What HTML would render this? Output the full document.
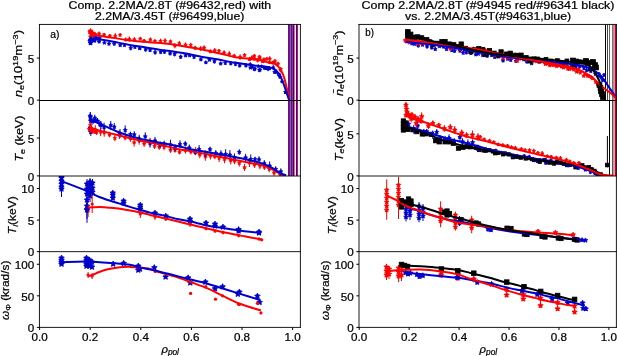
<!DOCTYPE html>
<html><head><meta charset="utf-8"><style>
html,body{margin:0;padding:0;background:#fff;}
body{width:617px;height:356px;overflow:hidden;}
svg{display:block;will-change:transform;font-family:"Liberation Sans",sans-serif;}
text{fill:#000;} .t{stroke:#000;stroke-width:0.22px;}
</style></head><body>
<svg width="617" height="356" viewBox="0 0 617 356">
<rect width="617" height="356" fill="#fff"/>
<clipPath id="c00"><rect x="39.45" y="24.4" width="260.95" height="75.75"/></clipPath>
<clipPath id="c01"><rect x="39.45" y="100.15" width="260.95" height="75.75"/></clipPath>
<clipPath id="c02"><rect x="39.45" y="175.9" width="260.95" height="75.75"/></clipPath>
<clipPath id="c03"><rect x="39.45" y="251.65" width="260.95" height="75.75"/></clipPath>
<clipPath id="c10"><rect x="359.0" y="24.4" width="257.4" height="75.75"/></clipPath>
<clipPath id="c11"><rect x="359.0" y="100.15" width="257.4" height="75.75"/></clipPath>
<clipPath id="c12"><rect x="359.0" y="175.9" width="257.4" height="75.75"/></clipPath>
<clipPath id="c13"><rect x="359.0" y="251.65" width="257.4" height="75.75"/></clipPath>
<g clip-path="url(#c00)">
<line x1="288.5" y1="0" x2="288.5" y2="400" stroke="#2020e0" stroke-width="1"/>
<line x1="289.5" y1="0" x2="289.5" y2="400" stroke="#c00030" stroke-width="1"/>
<line x1="290.5" y1="0" x2="290.5" y2="400" stroke="#7060d0" stroke-width="1"/>
<line x1="291.5" y1="0" x2="291.5" y2="400" stroke="#701060" stroke-width="1"/>
<line x1="292.5" y1="0" x2="292.5" y2="400" stroke="#a03080" stroke-width="1"/>
<line x1="293.5" y1="0" x2="293.5" y2="400" stroke="#400090" stroke-width="1"/>
<line x1="294.5" y1="0" x2="294.5" y2="400" stroke="#ff6060" stroke-width="1"/>
<line x1="296.5" y1="0" x2="296.5" y2="400" stroke="#0000ff" stroke-width="1"/>
<line x1="297.5" y1="0" x2="297.5" y2="400" stroke="#ff0000" stroke-width="1"/>
<line x1="89.65" y1="30.58" x2="89.65" y2="33.80" stroke="#ff0000" stroke-width="1.0"/>
<polygon points="89.6,30.4 90.2,31.5 91.3,31.6 90.5,32.5 90.7,33.6 89.6,33.1 88.6,33.6 88.8,32.5 88.0,31.6 89.1,31.5" fill="#ff0000" stroke="#ff0000" stroke-width="0.8" stroke-linejoin="round"/>
<line x1="95.07" y1="32.26" x2="95.07" y2="36.36" stroke="#ff0000" stroke-width="1.0"/>
<polygon points="95.1,32.5 95.6,33.6 96.8,33.8 95.9,34.6 96.1,35.7 95.1,35.2 94.0,35.7 94.2,34.6 93.4,33.8 94.5,33.6" fill="#ff0000" stroke="#ff0000" stroke-width="0.8" stroke-linejoin="round"/>
<line x1="99.12" y1="31.52" x2="99.12" y2="35.82" stroke="#ff0000" stroke-width="1.0"/>
<polygon points="99.1,31.9 99.6,33.0 100.8,33.1 100.0,33.9 100.2,35.1 99.1,34.6 98.1,35.1 98.3,33.9 97.4,33.1 98.6,33.0" fill="#ff0000" stroke="#ff0000" stroke-width="0.8" stroke-linejoin="round"/>
<line x1="104.14" y1="33.08" x2="104.14" y2="36.35" stroke="#ff0000" stroke-width="1.0"/>
<polygon points="104.1,32.9 104.7,34.0 105.8,34.2 105.0,35.0 105.2,36.2 104.1,35.6 103.1,36.2 103.3,35.0 102.4,34.2 103.6,34.0" fill="#ff0000" stroke="#ff0000" stroke-width="0.8" stroke-linejoin="round"/>
<line x1="109.85" y1="34.01" x2="109.85" y2="37.68" stroke="#ff0000" stroke-width="1.0"/>
<polygon points="109.8,34.1 110.4,35.1 111.5,35.3 110.7,36.1 110.9,37.3 109.8,36.7 108.8,37.3 109.0,36.1 108.2,35.3 109.3,35.1" fill="#ff0000" stroke="#ff0000" stroke-width="0.8" stroke-linejoin="round"/>
<line x1="115.25" y1="33.05" x2="115.25" y2="38.89" stroke="#ff0000" stroke-width="1.0"/>
<polygon points="115.3,34.2 115.8,35.2 117.0,35.4 116.1,36.2 116.3,37.4 115.3,36.9 114.2,37.4 114.4,36.2 113.6,35.4 114.7,35.2" fill="#ff0000" stroke="#ff0000" stroke-width="0.8" stroke-linejoin="round"/>
<line x1="120.15" y1="33.40" x2="120.15" y2="36.54" stroke="#ff0000" stroke-width="1.0"/>
<polygon points="120.2,33.2 120.7,34.2 121.8,34.4 121.0,35.2 121.2,36.4 120.2,35.9 119.1,36.4 119.3,35.2 118.5,34.4 119.6,34.2" fill="#ff0000" stroke="#ff0000" stroke-width="0.8" stroke-linejoin="round"/>
<line x1="125.72" y1="37.69" x2="125.72" y2="41.56" stroke="#ff0000" stroke-width="1.0"/>
<polygon points="125.7,37.8 126.2,38.9 127.4,39.1 126.6,39.9 126.8,41.1 125.7,40.5 124.7,41.1 124.9,39.9 124.0,39.1 125.2,38.9" fill="#ff0000" stroke="#ff0000" stroke-width="0.8" stroke-linejoin="round"/>
<line x1="129.29" y1="36.38" x2="129.29" y2="41.83" stroke="#ff0000" stroke-width="1.0"/>
<polygon points="129.3,37.3 129.8,38.4 131.0,38.6 130.1,39.4 130.3,40.5 129.3,40.0 128.2,40.5 128.4,39.4 127.6,38.6 128.8,38.4" fill="#ff0000" stroke="#ff0000" stroke-width="0.8" stroke-linejoin="round"/>
<line x1="134.36" y1="37.18" x2="134.36" y2="41.92" stroke="#ff0000" stroke-width="1.0"/>
<polygon points="134.4,37.8 134.9,38.8 136.1,39.0 135.2,39.8 135.4,41.0 134.4,40.4 133.3,41.0 133.5,39.8 132.7,39.0 133.8,38.8" fill="#ff0000" stroke="#ff0000" stroke-width="0.8" stroke-linejoin="round"/>
<line x1="140.28" y1="37.08" x2="140.28" y2="40.27" stroke="#ff0000" stroke-width="1.0"/>
<polygon points="140.3,36.9 140.8,38.0 142.0,38.1 141.1,39.0 141.3,40.1 140.3,39.6 139.2,40.1 139.4,39.0 138.6,38.1 139.8,38.0" fill="#ff0000" stroke="#ff0000" stroke-width="0.8" stroke-linejoin="round"/>
<line x1="144.12" y1="39.03" x2="144.12" y2="42.65" stroke="#ff0000" stroke-width="1.0"/>
<polygon points="144.1,39.1 144.6,40.1 145.8,40.3 145.0,41.1 145.2,42.3 144.1,41.7 143.1,42.3 143.3,41.1 142.4,40.3 143.6,40.1" fill="#ff0000" stroke="#ff0000" stroke-width="0.8" stroke-linejoin="round"/>
<line x1="150.36" y1="37.29" x2="150.36" y2="42.04" stroke="#ff0000" stroke-width="1.0"/>
<polygon points="150.4,37.9 150.9,38.9 152.1,39.1 151.2,39.9 151.4,41.1 150.4,40.6 149.3,41.1 149.5,39.9 148.7,39.1 149.8,38.9" fill="#ff0000" stroke="#ff0000" stroke-width="0.8" stroke-linejoin="round"/>
<line x1="154.91" y1="39.24" x2="154.91" y2="43.14" stroke="#ff0000" stroke-width="1.0"/>
<polygon points="154.9,39.4 155.4,40.5 156.6,40.6 155.8,41.5 156.0,42.6 154.9,42.1 153.9,42.6 154.1,41.5 153.2,40.6 154.4,40.5" fill="#ff0000" stroke="#ff0000" stroke-width="0.8" stroke-linejoin="round"/>
<line x1="160.59" y1="38.67" x2="160.59" y2="43.39" stroke="#ff0000" stroke-width="1.0"/>
<polygon points="160.6,39.2 161.1,40.3 162.3,40.5 161.4,41.3 161.6,42.5 160.6,41.9 159.5,42.5 159.7,41.3 158.9,40.5 160.1,40.3" fill="#ff0000" stroke="#ff0000" stroke-width="0.8" stroke-linejoin="round"/>
<line x1="165.05" y1="38.14" x2="165.05" y2="43.76" stroke="#ff0000" stroke-width="1.0"/>
<polygon points="165.1,39.2 165.6,40.2 166.7,40.4 165.9,41.2 166.1,42.4 165.1,41.8 164.0,42.4 164.2,41.2 163.4,40.4 164.5,40.2" fill="#ff0000" stroke="#ff0000" stroke-width="0.8" stroke-linejoin="round"/>
<line x1="170.46" y1="39.84" x2="170.46" y2="43.20" stroke="#ff0000" stroke-width="1.0"/>
<polygon points="170.5,39.7 171.0,40.8 172.2,41.0 171.3,41.8 171.5,43.0 170.5,42.4 169.4,43.0 169.6,41.8 168.8,41.0 169.9,40.8" fill="#ff0000" stroke="#ff0000" stroke-width="0.8" stroke-linejoin="round"/>
<line x1="174.84" y1="43.02" x2="174.84" y2="48.29" stroke="#ff0000" stroke-width="1.0"/>
<polygon points="174.8,43.9 175.4,44.9 176.5,45.1 175.7,45.9 175.9,47.1 174.8,46.5 173.8,47.1 174.0,45.9 173.1,45.1 174.3,44.9" fill="#ff0000" stroke="#ff0000" stroke-width="0.8" stroke-linejoin="round"/>
<line x1="179.30" y1="40.92" x2="179.30" y2="45.93" stroke="#ff0000" stroke-width="1.0"/>
<polygon points="179.3,41.6 179.8,42.7 181.0,42.9 180.2,43.7 180.4,44.9 179.3,44.3 178.3,44.9 178.5,43.7 177.6,42.9 178.8,42.7" fill="#ff0000" stroke="#ff0000" stroke-width="0.8" stroke-linejoin="round"/>
<line x1="185.53" y1="42.44" x2="185.53" y2="47.16" stroke="#ff0000" stroke-width="1.0"/>
<polygon points="185.5,43.0 186.1,44.1 187.2,44.3 186.4,45.1 186.6,46.2 185.5,45.7 184.5,46.2 184.7,45.1 183.8,44.3 185.0,44.1" fill="#ff0000" stroke="#ff0000" stroke-width="0.8" stroke-linejoin="round"/>
<line x1="190.75" y1="42.72" x2="190.75" y2="47.51" stroke="#ff0000" stroke-width="1.0"/>
<polygon points="190.8,43.3 191.3,44.4 192.4,44.6 191.6,45.4 191.8,46.6 190.8,46.0 189.7,46.6 189.9,45.4 189.1,44.6 190.2,44.4" fill="#ff0000" stroke="#ff0000" stroke-width="0.8" stroke-linejoin="round"/>
<line x1="195.16" y1="45.74" x2="195.16" y2="50.11" stroke="#ff0000" stroke-width="1.0"/>
<polygon points="195.2,46.1 195.7,47.2 196.9,47.4 196.0,48.2 196.2,49.4 195.2,48.8 194.1,49.4 194.3,48.2 193.5,47.4 194.6,47.2" fill="#ff0000" stroke="#ff0000" stroke-width="0.8" stroke-linejoin="round"/>
<line x1="200.68" y1="46.06" x2="200.68" y2="51.05" stroke="#ff0000" stroke-width="1.0"/>
<polygon points="200.7,46.8 201.2,47.8 202.4,48.0 201.5,48.8 201.7,50.0 200.7,49.4 199.6,50.0 199.8,48.8 199.0,48.0 200.2,47.8" fill="#ff0000" stroke="#ff0000" stroke-width="0.8" stroke-linejoin="round"/>
<line x1="204.12" y1="45.24" x2="204.12" y2="50.35" stroke="#ff0000" stroke-width="1.0"/>
<polygon points="204.1,46.0 204.6,47.1 205.8,47.2 205.0,48.1 205.2,49.2 204.1,48.7 203.1,49.2 203.3,48.1 202.4,47.2 203.6,47.1" fill="#ff0000" stroke="#ff0000" stroke-width="0.8" stroke-linejoin="round"/>
<line x1="210.29" y1="49.48" x2="210.29" y2="53.34" stroke="#ff0000" stroke-width="1.0"/>
<polygon points="210.3,49.6 210.8,50.7 212.0,50.9 211.1,51.7 211.3,52.9 210.3,52.3 209.2,52.9 209.4,51.7 208.6,50.9 209.8,50.7" fill="#ff0000" stroke="#ff0000" stroke-width="0.8" stroke-linejoin="round"/>
<line x1="214.77" y1="47.97" x2="214.77" y2="52.97" stroke="#ff0000" stroke-width="1.0"/>
<polygon points="214.8,48.7 215.3,49.7 216.5,49.9 215.6,50.7 215.8,51.9 214.8,51.4 213.7,51.9 213.9,50.7 213.1,49.9 214.2,49.7" fill="#ff0000" stroke="#ff0000" stroke-width="0.8" stroke-linejoin="round"/>
<line x1="219.05" y1="49.24" x2="219.05" y2="52.59" stroke="#ff0000" stroke-width="1.0"/>
<polygon points="219.0,49.1 219.6,50.2 220.7,50.4 219.9,51.2 220.1,52.4 219.0,51.8 218.0,52.4 218.2,51.2 217.3,50.4 218.5,50.2" fill="#ff0000" stroke="#ff0000" stroke-width="0.8" stroke-linejoin="round"/>
<line x1="224.12" y1="50.15" x2="224.12" y2="55.46" stroke="#ff0000" stroke-width="1.0"/>
<polygon points="224.1,51.0 224.6,52.1 225.8,52.3 225.0,53.1 225.2,54.2 224.1,53.7 223.1,54.2 223.3,53.1 222.4,52.3 223.6,52.1" fill="#ff0000" stroke="#ff0000" stroke-width="0.8" stroke-linejoin="round"/>
<line x1="229.26" y1="51.04" x2="229.26" y2="56.66" stroke="#ff0000" stroke-width="1.0"/>
<polygon points="229.3,52.1 229.8,53.1 231.0,53.3 230.1,54.1 230.3,55.3 229.3,54.7 228.2,55.3 228.4,54.1 227.6,53.3 228.7,53.1" fill="#ff0000" stroke="#ff0000" stroke-width="0.8" stroke-linejoin="round"/>
<line x1="234.16" y1="53.78" x2="234.16" y2="58.12" stroke="#ff0000" stroke-width="1.0"/>
<polygon points="234.2,54.2 234.7,55.2 235.9,55.4 235.0,56.2 235.2,57.4 234.2,56.8 233.1,57.4 233.3,56.2 232.5,55.4 233.6,55.2" fill="#ff0000" stroke="#ff0000" stroke-width="0.8" stroke-linejoin="round"/>
<line x1="240.10" y1="54.37" x2="240.10" y2="59.96" stroke="#ff0000" stroke-width="1.0"/>
<polygon points="240.1,55.4 240.6,56.4 241.8,56.6 240.9,57.4 241.1,58.6 240.1,58.1 239.1,58.6 239.3,57.4 238.4,56.6 239.6,56.4" fill="#ff0000" stroke="#ff0000" stroke-width="0.8" stroke-linejoin="round"/>
<line x1="244.56" y1="53.00" x2="244.56" y2="57.25" stroke="#ff0000" stroke-width="1.0"/>
<polygon points="244.6,53.3 245.1,54.4 246.3,54.6 245.4,55.4 245.6,56.6 244.6,56.0 243.5,56.6 243.7,55.4 242.9,54.6 244.0,54.4" fill="#ff0000" stroke="#ff0000" stroke-width="0.8" stroke-linejoin="round"/>
<line x1="249.72" y1="57.19" x2="249.72" y2="60.64" stroke="#ff0000" stroke-width="1.0"/>
<polygon points="249.7,57.1 250.2,58.2 251.4,58.4 250.6,59.2 250.8,60.4 249.7,59.8 248.7,60.4 248.9,59.2 248.0,58.4 249.2,58.2" fill="#ff0000" stroke="#ff0000" stroke-width="0.8" stroke-linejoin="round"/>
<line x1="254.35" y1="54.01" x2="254.35" y2="57.71" stroke="#ff0000" stroke-width="1.0"/>
<polygon points="254.4,54.1 254.9,55.1 256.0,55.3 255.2,56.1 255.4,57.3 254.4,56.7 253.3,57.3 253.5,56.1 252.7,55.3 253.8,55.1" fill="#ff0000" stroke="#ff0000" stroke-width="0.8" stroke-linejoin="round"/>
<line x1="259.47" y1="54.89" x2="259.47" y2="58.67" stroke="#ff0000" stroke-width="1.0"/>
<polygon points="259.5,55.0 260.0,56.1 261.2,56.2 260.3,57.1 260.5,58.2 259.5,57.7 258.4,58.2 258.6,57.1 257.8,56.2 258.9,56.1" fill="#ff0000" stroke="#ff0000" stroke-width="0.8" stroke-linejoin="round"/>
<line x1="264.01" y1="57.43" x2="264.01" y2="61.69" stroke="#ff0000" stroke-width="1.0"/>
<polygon points="264.0,57.8 264.5,58.8 265.7,59.0 264.9,59.8 265.1,61.0 264.0,60.5 263.0,61.0 263.2,59.8 262.3,59.0 263.5,58.8" fill="#ff0000" stroke="#ff0000" stroke-width="0.8" stroke-linejoin="round"/>
<line x1="269.74" y1="56.17" x2="269.74" y2="61.24" stroke="#ff0000" stroke-width="1.0"/>
<polygon points="269.7,56.9 270.3,58.0 271.4,58.2 270.6,59.0 270.8,60.1 269.7,59.6 268.7,60.1 268.9,59.0 268.0,58.2 269.2,58.0" fill="#ff0000" stroke="#ff0000" stroke-width="0.8" stroke-linejoin="round"/>
<line x1="275.03" y1="58.84" x2="275.03" y2="63.69" stroke="#ff0000" stroke-width="1.0"/>
<polygon points="275.0,59.5 275.6,60.5 276.7,60.7 275.9,61.5 276.1,62.7 275.0,62.2 274.0,62.7 274.2,61.5 273.3,60.7 274.5,60.5" fill="#ff0000" stroke="#ff0000" stroke-width="0.8" stroke-linejoin="round"/>
<line x1="280.35" y1="67.01" x2="280.35" y2="72.35" stroke="#ff0000" stroke-width="1.0"/>
<polygon points="280.4,67.9 280.9,69.0 282.0,69.1 281.2,70.0 281.4,71.1 280.4,70.6 279.3,71.1 279.5,70.0 278.7,69.1 279.8,69.0" fill="#ff0000" stroke="#ff0000" stroke-width="0.8" stroke-linejoin="round"/>
<line x1="90.75" y1="40.38" x2="90.75" y2="44.78" stroke="#0000cc" stroke-width="1.0"/>
<polygon points="90.7,40.7 91.3,41.8 92.6,42.0 91.7,42.9 91.9,44.1 90.7,43.5 89.6,44.1 89.8,42.9 88.9,42.0 90.2,41.8" fill="#0000cc" stroke="#0000cc" stroke-width="0.8" stroke-linejoin="round"/>
<line x1="94.78" y1="38.70" x2="94.78" y2="42.60" stroke="#0000cc" stroke-width="1.0"/>
<polygon points="94.8,38.8 95.3,39.9 96.6,40.1 95.7,40.9 95.9,42.2 94.8,41.6 93.7,42.2 93.9,40.9 93.0,40.1 94.2,39.9" fill="#0000cc" stroke="#0000cc" stroke-width="0.8" stroke-linejoin="round"/>
<line x1="99.12" y1="40.60" x2="99.12" y2="42.80" stroke="#0000cc" stroke-width="1.0"/>
<polygon points="99.1,39.8 99.7,40.9 100.9,41.1 100.0,42.0 100.2,43.2 99.1,42.7 98.0,43.2 98.2,42.0 97.3,41.1 98.6,40.9" fill="#0000cc" stroke="#0000cc" stroke-width="0.8" stroke-linejoin="round"/>
<line x1="104.42" y1="41.71" x2="104.42" y2="43.87" stroke="#0000cc" stroke-width="1.0"/>
<polygon points="104.4,40.9 105.0,42.0 106.2,42.2 105.3,43.1 105.5,44.3 104.4,43.7 103.3,44.3 103.5,43.1 102.6,42.2 103.9,42.0" fill="#0000cc" stroke="#0000cc" stroke-width="0.8" stroke-linejoin="round"/>
<line x1="109.00" y1="42.66" x2="109.00" y2="45.11" stroke="#0000cc" stroke-width="1.0"/>
<polygon points="109.0,42.0 109.6,43.1 110.8,43.3 109.9,44.2 110.1,45.4 109.0,44.8 107.9,45.4 108.1,44.2 107.2,43.3 108.4,43.1" fill="#0000cc" stroke="#0000cc" stroke-width="0.8" stroke-linejoin="round"/>
<line x1="114.20" y1="41.37" x2="114.20" y2="45.99" stroke="#0000cc" stroke-width="1.0"/>
<polygon points="114.2,41.8 114.8,42.9 116.0,43.1 115.1,44.0 115.3,45.2 114.2,44.6 113.1,45.2 113.3,44.0 112.4,43.1 113.6,42.9" fill="#0000cc" stroke="#0000cc" stroke-width="0.8" stroke-linejoin="round"/>
<line x1="120.23" y1="44.03" x2="120.23" y2="46.48" stroke="#0000cc" stroke-width="1.0"/>
<polygon points="120.2,43.4 120.8,44.5 122.0,44.7 121.1,45.5 121.3,46.8 120.2,46.2 119.1,46.8 119.3,45.5 118.4,44.7 119.7,44.5" fill="#0000cc" stroke="#0000cc" stroke-width="0.8" stroke-linejoin="round"/>
<line x1="124.50" y1="44.05" x2="124.50" y2="46.42" stroke="#0000cc" stroke-width="1.0"/>
<polygon points="124.5,43.3 125.1,44.5 126.3,44.6 125.4,45.5 125.6,46.8 124.5,46.2 123.4,46.8 123.6,45.5 122.7,44.6 123.9,44.5" fill="#0000cc" stroke="#0000cc" stroke-width="0.8" stroke-linejoin="round"/>
<line x1="130.70" y1="45.47" x2="130.70" y2="50.45" stroke="#0000cc" stroke-width="1.0"/>
<polygon points="130.7,46.1 131.3,47.2 132.5,47.4 131.6,48.3 131.8,49.5 130.7,48.9 129.6,49.5 129.8,48.3 128.9,47.4 130.1,47.2" fill="#0000cc" stroke="#0000cc" stroke-width="0.8" stroke-linejoin="round"/>
<line x1="134.93" y1="46.02" x2="134.93" y2="48.32" stroke="#0000cc" stroke-width="1.0"/>
<polygon points="134.9,45.3 135.5,46.4 136.7,46.6 135.8,47.5 136.0,48.7 134.9,48.1 133.8,48.7 134.0,47.5 133.1,46.6 134.4,46.4" fill="#0000cc" stroke="#0000cc" stroke-width="0.8" stroke-linejoin="round"/>
<line x1="139.69" y1="47.07" x2="139.69" y2="49.86" stroke="#0000cc" stroke-width="1.0"/>
<polygon points="139.7,46.6 140.2,47.7 141.5,47.9 140.6,48.8 140.8,50.0 139.7,49.4 138.6,50.0 138.8,48.8 137.9,47.9 139.1,47.7" fill="#0000cc" stroke="#0000cc" stroke-width="0.8" stroke-linejoin="round"/>
<line x1="145.66" y1="47.05" x2="145.66" y2="51.91" stroke="#0000cc" stroke-width="1.0"/>
<polygon points="145.7,47.6 146.2,48.7 147.5,48.9 146.6,49.8 146.8,51.0 145.7,50.4 144.5,51.0 144.8,49.8 143.9,48.9 145.1,48.7" fill="#0000cc" stroke="#0000cc" stroke-width="0.8" stroke-linejoin="round"/>
<line x1="150.06" y1="49.08" x2="150.06" y2="51.52" stroke="#0000cc" stroke-width="1.0"/>
<polygon points="150.1,48.4 150.6,49.5 151.9,49.7 151.0,50.6 151.2,51.8 150.1,51.2 148.9,51.8 149.2,50.6 148.3,49.7 149.5,49.5" fill="#0000cc" stroke="#0000cc" stroke-width="0.8" stroke-linejoin="round"/>
<line x1="155.09" y1="49.90" x2="155.09" y2="54.83" stroke="#0000cc" stroke-width="1.0"/>
<polygon points="155.1,50.5 155.6,51.6 156.9,51.8 156.0,52.7 156.2,53.9 155.1,53.3 154.0,53.9 154.2,52.7 153.3,51.8 154.5,51.6" fill="#0000cc" stroke="#0000cc" stroke-width="0.8" stroke-linejoin="round"/>
<line x1="160.73" y1="50.06" x2="160.73" y2="54.15" stroke="#0000cc" stroke-width="1.0"/>
<polygon points="160.7,50.2 161.3,51.3 162.5,51.5 161.6,52.4 161.8,53.6 160.7,53.1 159.6,53.6 159.8,52.4 158.9,51.5 160.2,51.3" fill="#0000cc" stroke="#0000cc" stroke-width="0.8" stroke-linejoin="round"/>
<line x1="164.52" y1="49.65" x2="164.52" y2="53.96" stroke="#0000cc" stroke-width="1.0"/>
<polygon points="164.5,49.9 165.1,51.0 166.3,51.2 165.4,52.1 165.6,53.3 164.5,52.8 163.4,53.3 163.6,52.1 162.7,51.2 164.0,51.0" fill="#0000cc" stroke="#0000cc" stroke-width="0.8" stroke-linejoin="round"/>
<line x1="170.07" y1="51.28" x2="170.07" y2="55.62" stroke="#0000cc" stroke-width="1.0"/>
<polygon points="170.1,51.6 170.6,52.7 171.9,52.9 171.0,53.7 171.2,55.0 170.1,54.4 168.9,55.0 169.2,53.7 168.3,52.9 169.5,52.7" fill="#0000cc" stroke="#0000cc" stroke-width="0.8" stroke-linejoin="round"/>
<line x1="174.66" y1="51.57" x2="174.66" y2="56.52" stroke="#0000cc" stroke-width="1.0"/>
<polygon points="174.7,52.1 175.2,53.3 176.5,53.5 175.6,54.3 175.8,55.6 174.7,55.0 173.5,55.6 173.8,54.3 172.9,53.5 174.1,53.3" fill="#0000cc" stroke="#0000cc" stroke-width="0.8" stroke-linejoin="round"/>
<line x1="180.71" y1="54.64" x2="180.71" y2="59.05" stroke="#0000cc" stroke-width="1.0"/>
<polygon points="180.7,54.9 181.3,56.1 182.5,56.3 181.6,57.1 181.8,58.4 180.7,57.8 179.6,58.4 179.8,57.1 178.9,56.3 180.1,56.1" fill="#0000cc" stroke="#0000cc" stroke-width="0.8" stroke-linejoin="round"/>
<line x1="185.64" y1="53.67" x2="185.64" y2="57.23" stroke="#0000cc" stroke-width="1.0"/>
<polygon points="185.6,53.6 186.2,54.7 187.4,54.9 186.5,55.7 186.8,57.0 185.6,56.4 184.5,57.0 184.7,55.7 183.8,54.9 185.1,54.7" fill="#0000cc" stroke="#0000cc" stroke-width="0.8" stroke-linejoin="round"/>
<line x1="189.71" y1="54.41" x2="189.71" y2="56.50" stroke="#0000cc" stroke-width="1.0"/>
<polygon points="189.7,53.6 190.3,54.7 191.5,54.9 190.6,55.7 190.8,57.0 189.7,56.4 188.6,57.0 188.8,55.7 187.9,54.9 189.2,54.7" fill="#0000cc" stroke="#0000cc" stroke-width="0.8" stroke-linejoin="round"/>
<line x1="194.06" y1="54.99" x2="194.06" y2="59.07" stroke="#0000cc" stroke-width="1.0"/>
<polygon points="194.1,55.1 194.6,56.3 195.9,56.4 195.0,57.3 195.2,58.6 194.1,58.0 192.9,58.6 193.2,57.3 192.3,56.4 193.5,56.3" fill="#0000cc" stroke="#0000cc" stroke-width="0.8" stroke-linejoin="round"/>
<line x1="200.91" y1="57.84" x2="200.91" y2="61.18" stroke="#0000cc" stroke-width="1.0"/>
<polygon points="200.9,57.6 201.5,58.7 202.7,58.9 201.8,59.8 202.0,61.0 200.9,60.5 199.8,61.0 200.0,59.8 199.1,58.9 200.4,58.7" fill="#0000cc" stroke="#0000cc" stroke-width="0.8" stroke-linejoin="round"/>
<line x1="205.87" y1="60.91" x2="205.87" y2="64.01" stroke="#0000cc" stroke-width="1.0"/>
<polygon points="205.9,60.6 206.4,61.7 207.7,61.9 206.8,62.8 207.0,64.0 205.9,63.4 204.8,64.0 205.0,62.8 204.1,61.9 205.3,61.7" fill="#0000cc" stroke="#0000cc" stroke-width="0.8" stroke-linejoin="round"/>
<line x1="209.44" y1="58.51" x2="209.44" y2="61.19" stroke="#0000cc" stroke-width="1.0"/>
<polygon points="209.4,58.0 210.0,59.1 211.2,59.3 210.3,60.1 210.6,61.4 209.4,60.8 208.3,61.4 208.5,60.1 207.6,59.3 208.9,59.1" fill="#0000cc" stroke="#0000cc" stroke-width="0.8" stroke-linejoin="round"/>
<line x1="214.39" y1="59.02" x2="214.39" y2="63.72" stroke="#0000cc" stroke-width="1.0"/>
<polygon points="214.4,59.5 215.0,60.6 216.2,60.8 215.3,61.7 215.5,62.9 214.4,62.3 213.3,62.9 213.5,61.7 212.6,60.8 213.8,60.6" fill="#0000cc" stroke="#0000cc" stroke-width="0.8" stroke-linejoin="round"/>
<line x1="220.68" y1="61.88" x2="220.68" y2="65.31" stroke="#0000cc" stroke-width="1.0"/>
<polygon points="220.7,61.7 221.2,62.8 222.5,63.0 221.6,63.9 221.8,65.1 220.7,64.5 219.6,65.1 219.8,63.9 218.9,63.0 220.1,62.8" fill="#0000cc" stroke="#0000cc" stroke-width="0.8" stroke-linejoin="round"/>
<line x1="225.31" y1="61.01" x2="225.31" y2="64.99" stroke="#0000cc" stroke-width="1.0"/>
<polygon points="225.3,61.1 225.9,62.2 227.1,62.4 226.2,63.3 226.4,64.5 225.3,63.9 224.2,64.5 224.4,63.3 223.5,62.4 224.7,62.2" fill="#0000cc" stroke="#0000cc" stroke-width="0.8" stroke-linejoin="round"/>
<line x1="230.82" y1="61.21" x2="230.82" y2="65.56" stroke="#0000cc" stroke-width="1.0"/>
<polygon points="230.8,61.5 231.4,62.6 232.6,62.8 231.7,63.7 231.9,64.9 230.8,64.3 229.7,64.9 229.9,63.7 229.0,62.8 230.3,62.6" fill="#0000cc" stroke="#0000cc" stroke-width="0.8" stroke-linejoin="round"/>
<line x1="235.50" y1="61.78" x2="235.50" y2="66.15" stroke="#0000cc" stroke-width="1.0"/>
<polygon points="235.5,62.1 236.1,63.2 237.3,63.4 236.4,64.3 236.6,65.5 235.5,64.9 234.4,65.5 234.6,64.3 233.7,63.4 234.9,63.2" fill="#0000cc" stroke="#0000cc" stroke-width="0.8" stroke-linejoin="round"/>
<line x1="239.67" y1="63.25" x2="239.67" y2="67.66" stroke="#0000cc" stroke-width="1.0"/>
<polygon points="239.7,63.6 240.2,64.7 241.5,64.9 240.6,65.7 240.8,67.0 239.7,66.4 238.5,67.0 238.8,65.7 237.9,64.9 239.1,64.7" fill="#0000cc" stroke="#0000cc" stroke-width="0.8" stroke-linejoin="round"/>
<line x1="245.94" y1="62.93" x2="245.94" y2="67.78" stroke="#0000cc" stroke-width="1.0"/>
<polygon points="245.9,63.5 246.5,64.6 247.7,64.8 246.8,65.6 247.1,66.9 245.9,66.3 244.8,66.9 245.0,65.6 244.1,64.8 245.4,64.6" fill="#0000cc" stroke="#0000cc" stroke-width="0.8" stroke-linejoin="round"/>
<line x1="250.45" y1="66.50" x2="250.45" y2="69.01" stroke="#0000cc" stroke-width="1.0"/>
<polygon points="250.4,65.9 251.0,67.0 252.3,67.2 251.4,68.0 251.6,69.3 250.4,68.7 249.3,69.3 249.5,68.0 248.6,67.2 249.9,67.0" fill="#0000cc" stroke="#0000cc" stroke-width="0.8" stroke-linejoin="round"/>
<line x1="254.25" y1="66.73" x2="254.25" y2="71.15" stroke="#0000cc" stroke-width="1.0"/>
<polygon points="254.3,67.0 254.8,68.2 256.1,68.4 255.2,69.2 255.4,70.5 254.3,69.9 253.1,70.5 253.4,69.2 252.4,68.4 253.7,68.2" fill="#0000cc" stroke="#0000cc" stroke-width="0.8" stroke-linejoin="round"/>
<line x1="259.29" y1="67.81" x2="259.29" y2="72.29" stroke="#0000cc" stroke-width="1.0"/>
<polygon points="259.3,68.1 259.9,69.3 261.1,69.5 260.2,70.3 260.4,71.6 259.3,71.0 258.2,71.6 258.4,70.3 257.5,69.5 258.7,69.3" fill="#0000cc" stroke="#0000cc" stroke-width="0.8" stroke-linejoin="round"/>
<line x1="265.96" y1="66.38" x2="265.96" y2="70.03" stroke="#0000cc" stroke-width="1.0"/>
<polygon points="266.0,66.3 266.5,67.4 267.8,67.6 266.9,68.5 267.1,69.7 266.0,69.2 264.8,69.7 265.1,68.5 264.2,67.6 265.4,67.4" fill="#0000cc" stroke="#0000cc" stroke-width="0.8" stroke-linejoin="round"/>
<line x1="269.26" y1="67.48" x2="269.26" y2="69.52" stroke="#0000cc" stroke-width="1.0"/>
<polygon points="269.3,66.6 269.8,67.7 271.1,67.9 270.2,68.8 270.4,70.0 269.3,69.4 268.1,70.0 268.4,68.8 267.5,67.9 268.7,67.7" fill="#0000cc" stroke="#0000cc" stroke-width="0.8" stroke-linejoin="round"/>
<line x1="275.94" y1="69.33" x2="275.94" y2="74.13" stroke="#0000cc" stroke-width="1.0"/>
<polygon points="275.9,69.8 276.5,71.0 277.7,71.1 276.8,72.0 277.1,73.3 275.9,72.7 274.8,73.3 275.0,72.0 274.1,71.1 275.4,71.0" fill="#0000cc" stroke="#0000cc" stroke-width="0.8" stroke-linejoin="round"/>
<line x1="279.87" y1="74.40" x2="279.87" y2="79.01" stroke="#0000cc" stroke-width="1.0"/>
<polygon points="279.9,74.8 280.4,75.9 281.7,76.1 280.8,77.0 281.0,78.2 279.9,77.7 278.8,78.2 279.0,77.0 278.1,76.1 279.3,75.9" fill="#0000cc" stroke="#0000cc" stroke-width="0.8" stroke-linejoin="round"/>
<line x1="285.65" y1="90.64" x2="285.65" y2="93.52" stroke="#0000cc" stroke-width="1.0"/>
<polygon points="285.7,90.2 286.2,91.3 287.5,91.5 286.6,92.4 286.8,93.6 285.7,93.0 284.5,93.6 284.7,92.4 283.8,91.5 285.1,91.3" fill="#0000cc" stroke="#0000cc" stroke-width="0.8" stroke-linejoin="round"/>
<line x1="249.48" y1="57.23" x2="249.48" y2="60.99" stroke="#ff0000" stroke-width="1.0"/>
<polygon points="249.5,57.4 250.0,58.4 251.1,58.6 250.3,59.4 250.5,60.5 249.5,60.0 248.5,60.5 248.7,59.4 247.8,58.6 249.0,58.4" fill="#ff0000" stroke="#ff0000" stroke-width="0.8" stroke-linejoin="round"/>
<line x1="252.02" y1="55.24" x2="252.02" y2="59.97" stroke="#ff0000" stroke-width="1.0"/>
<polygon points="252.0,55.9 252.5,56.9 253.7,57.1 252.8,57.9 253.0,59.0 252.0,58.5 251.0,59.0 251.2,57.9 250.4,57.1 251.5,56.9" fill="#ff0000" stroke="#ff0000" stroke-width="0.8" stroke-linejoin="round"/>
<line x1="254.71" y1="57.27" x2="254.71" y2="60.64" stroke="#ff0000" stroke-width="1.0"/>
<polygon points="254.7,57.2 255.2,58.3 256.3,58.4 255.5,59.2 255.7,60.3 254.7,59.8 253.7,60.3 253.9,59.2 253.1,58.4 254.2,58.3" fill="#ff0000" stroke="#ff0000" stroke-width="0.8" stroke-linejoin="round"/>
<line x1="257.67" y1="57.77" x2="257.67" y2="62.53" stroke="#ff0000" stroke-width="1.0"/>
<polygon points="257.7,58.4 258.2,59.5 259.3,59.6 258.5,60.4 258.7,61.5 257.7,61.0 256.7,61.5 256.8,60.4 256.0,59.6 257.2,59.5" fill="#ff0000" stroke="#ff0000" stroke-width="0.8" stroke-linejoin="round"/>
<line x1="260.00" y1="56.58" x2="260.00" y2="60.18" stroke="#ff0000" stroke-width="1.0"/>
<polygon points="260.0,56.7 260.5,57.7 261.6,57.8 260.8,58.6 261.0,59.8 260.0,59.2 259.0,59.8 259.2,58.6 258.4,57.8 259.5,57.7" fill="#ff0000" stroke="#ff0000" stroke-width="0.8" stroke-linejoin="round"/>
<line x1="262.55" y1="60.34" x2="262.55" y2="62.89" stroke="#ff0000" stroke-width="1.0"/>
<polygon points="262.5,59.9 263.1,60.9 264.2,61.1 263.4,61.9 263.6,63.0 262.5,62.5 261.5,63.0 261.7,61.9 260.9,61.1 262.0,60.9" fill="#ff0000" stroke="#ff0000" stroke-width="0.8" stroke-linejoin="round"/>
<line x1="264.01" y1="58.42" x2="264.01" y2="62.82" stroke="#ff0000" stroke-width="1.0"/>
<polygon points="264.0,58.9 264.5,59.9 265.6,60.1 264.8,60.9 265.0,62.0 264.0,61.5 263.0,62.0 263.2,60.9 262.4,60.1 263.5,59.9" fill="#ff0000" stroke="#ff0000" stroke-width="0.8" stroke-linejoin="round"/>
<line x1="266.84" y1="57.05" x2="266.84" y2="60.72" stroke="#ff0000" stroke-width="1.0"/>
<polygon points="266.8,57.2 267.4,58.2 268.5,58.4 267.7,59.2 267.9,60.3 266.8,59.7 265.8,60.3 266.0,59.2 265.2,58.4 266.3,58.2" fill="#ff0000" stroke="#ff0000" stroke-width="0.8" stroke-linejoin="round"/>
<line x1="269.65" y1="60.57" x2="269.65" y2="64.12" stroke="#ff0000" stroke-width="1.0"/>
<polygon points="269.7,60.6 270.2,61.6 271.3,61.8 270.5,62.6 270.7,63.7 269.7,63.2 268.6,63.7 268.8,62.6 268.0,61.8 269.1,61.6" fill="#ff0000" stroke="#ff0000" stroke-width="0.8" stroke-linejoin="round"/>
<line x1="272.61" y1="60.87" x2="272.61" y2="64.56" stroke="#ff0000" stroke-width="1.0"/>
<polygon points="272.6,61.0 273.1,62.0 274.3,62.2 273.4,63.0 273.6,64.1 272.6,63.6 271.6,64.1 271.8,63.0 271.0,62.2 272.1,62.0" fill="#ff0000" stroke="#ff0000" stroke-width="0.8" stroke-linejoin="round"/>
<line x1="274.50" y1="60.85" x2="274.50" y2="63.68" stroke="#ff0000" stroke-width="1.0"/>
<polygon points="274.5,60.5 275.0,61.6 276.1,61.7 275.3,62.5 275.5,63.7 274.5,63.1 273.5,63.7 273.7,62.5 272.9,61.7 274.0,61.6" fill="#ff0000" stroke="#ff0000" stroke-width="0.8" stroke-linejoin="round"/>
<line x1="278.04" y1="61.63" x2="278.04" y2="65.91" stroke="#ff0000" stroke-width="1.0"/>
<polygon points="278.0,62.0 278.6,63.1 279.7,63.2 278.9,64.0 279.1,65.2 278.0,64.6 277.0,65.2 277.2,64.0 276.4,63.2 277.5,63.1" fill="#ff0000" stroke="#ff0000" stroke-width="0.8" stroke-linejoin="round"/>
<line x1="280.82" y1="67.62" x2="280.82" y2="70.95" stroke="#ff0000" stroke-width="1.0"/>
<polygon points="280.8,67.6 281.3,68.6 282.5,68.7 281.6,69.5 281.8,70.7 280.8,70.1 279.8,70.7 280.0,69.5 279.2,68.7 280.3,68.6" fill="#ff0000" stroke="#ff0000" stroke-width="0.8" stroke-linejoin="round"/>
<line x1="250.23" y1="62.35" x2="250.23" y2="66.42" stroke="#0000cc" stroke-width="1.0"/>
<polygon points="250.2,62.7 250.7,63.7 251.9,63.9 251.0,64.7 251.2,65.8 250.2,65.2 249.2,65.8 249.4,64.7 248.6,63.9 249.7,63.7" fill="#0000cc" stroke="#0000cc" stroke-width="0.8" stroke-linejoin="round"/>
<line x1="252.40" y1="64.58" x2="252.40" y2="68.18" stroke="#0000cc" stroke-width="1.0"/>
<polygon points="252.4,64.7 252.9,65.7 254.0,65.8 253.2,66.6 253.4,67.8 252.4,67.2 251.4,67.8 251.6,66.6 250.8,65.8 251.9,65.7" fill="#0000cc" stroke="#0000cc" stroke-width="0.8" stroke-linejoin="round"/>
<line x1="254.96" y1="66.55" x2="254.96" y2="71.18" stroke="#0000cc" stroke-width="1.0"/>
<polygon points="255.0,67.1 255.5,68.2 256.6,68.3 255.8,69.1 256.0,70.3 255.0,69.7 253.9,70.3 254.1,69.1 253.3,68.3 254.4,68.2" fill="#0000cc" stroke="#0000cc" stroke-width="0.8" stroke-linejoin="round"/>
<line x1="258.38" y1="64.81" x2="258.38" y2="67.59" stroke="#0000cc" stroke-width="1.0"/>
<polygon points="258.4,64.5 258.9,65.5 260.0,65.7 259.2,66.5 259.4,67.6 258.4,67.1 257.4,67.6 257.6,66.5 256.7,65.7 257.9,65.5" fill="#0000cc" stroke="#0000cc" stroke-width="0.8" stroke-linejoin="round"/>
<line x1="260.12" y1="68.70" x2="260.12" y2="71.11" stroke="#0000cc" stroke-width="1.0"/>
<polygon points="260.1,68.2 260.6,69.2 261.8,69.4 260.9,70.2 261.1,71.3 260.1,70.8 259.1,71.3 259.3,70.2 258.5,69.4 259.6,69.2" fill="#0000cc" stroke="#0000cc" stroke-width="0.8" stroke-linejoin="round"/>
<line x1="261.74" y1="64.77" x2="261.74" y2="68.10" stroke="#0000cc" stroke-width="1.0"/>
<polygon points="261.7,64.7 262.3,65.7 263.4,65.9 262.6,66.7 262.8,67.8 261.7,67.3 260.7,67.8 260.9,66.7 260.1,65.9 261.2,65.7" fill="#0000cc" stroke="#0000cc" stroke-width="0.8" stroke-linejoin="round"/>
<line x1="264.15" y1="65.80" x2="264.15" y2="69.81" stroke="#0000cc" stroke-width="1.0"/>
<polygon points="264.1,66.1 264.7,67.1 265.8,67.3 265.0,68.1 265.2,69.2 264.1,68.7 263.1,69.2 263.3,68.1 262.5,67.3 263.6,67.1" fill="#0000cc" stroke="#0000cc" stroke-width="0.8" stroke-linejoin="round"/>
<line x1="268.07" y1="66.56" x2="268.07" y2="71.25" stroke="#0000cc" stroke-width="1.0"/>
<polygon points="268.1,67.2 268.6,68.2 269.7,68.4 268.9,69.2 269.1,70.3 268.1,69.8 267.1,70.3 267.2,69.2 266.4,68.4 267.6,68.2" fill="#0000cc" stroke="#0000cc" stroke-width="0.8" stroke-linejoin="round"/>
<line x1="269.31" y1="66.96" x2="269.31" y2="69.39" stroke="#0000cc" stroke-width="1.0"/>
<polygon points="269.3,66.4 269.8,67.5 270.9,67.6 270.1,68.4 270.3,69.6 269.3,69.0 268.3,69.6 268.5,68.4 267.7,67.6 268.8,67.5" fill="#0000cc" stroke="#0000cc" stroke-width="0.8" stroke-linejoin="round"/>
<line x1="273.27" y1="65.06" x2="273.27" y2="69.96" stroke="#0000cc" stroke-width="1.0"/>
<polygon points="273.3,65.8 273.8,66.8 274.9,67.0 274.1,67.8 274.3,68.9 273.3,68.4 272.3,68.9 272.4,67.8 271.6,67.0 272.8,66.8" fill="#0000cc" stroke="#0000cc" stroke-width="0.8" stroke-linejoin="round"/>
<line x1="274.44" y1="70.27" x2="274.44" y2="73.73" stroke="#0000cc" stroke-width="1.0"/>
<polygon points="274.4,70.3 274.9,71.3 276.1,71.5 275.3,72.3 275.5,73.4 274.4,72.9 273.4,73.4 273.6,72.3 272.8,71.5 273.9,71.3" fill="#0000cc" stroke="#0000cc" stroke-width="0.8" stroke-linejoin="round"/>
<line x1="278.48" y1="72.10" x2="278.48" y2="76.59" stroke="#0000cc" stroke-width="1.0"/>
<polygon points="278.5,72.6 279.0,73.6 280.1,73.8 279.3,74.6 279.5,75.7 278.5,75.2 277.5,75.7 277.7,74.6 276.8,73.8 278.0,73.6" fill="#0000cc" stroke="#0000cc" stroke-width="0.8" stroke-linejoin="round"/>
<line x1="279.32" y1="73.04" x2="279.32" y2="76.06" stroke="#0000cc" stroke-width="1.0"/>
<polygon points="279.3,72.8 279.8,73.9 281.0,74.0 280.1,74.8 280.3,75.9 279.3,75.4 278.3,75.9 278.5,74.8 277.7,74.0 278.8,73.9" fill="#0000cc" stroke="#0000cc" stroke-width="0.8" stroke-linejoin="round"/>
<line x1="281.89" y1="80.11" x2="281.89" y2="83.06" stroke="#0000cc" stroke-width="1.0"/>
<polygon points="281.9,79.9 282.4,80.9 283.5,81.1 282.7,81.9 282.9,83.0 281.9,82.4 280.9,83.0 281.1,81.9 280.3,81.1 281.4,80.9" fill="#0000cc" stroke="#0000cc" stroke-width="0.8" stroke-linejoin="round"/>
<line x1="285.44" y1="90.66" x2="285.44" y2="93.99" stroke="#0000cc" stroke-width="1.0"/>
<polygon points="285.4,90.6 286.0,91.6 287.1,91.8 286.3,92.6 286.5,93.7 285.4,93.2 284.4,93.7 284.6,92.6 283.8,91.8 284.9,91.6" fill="#0000cc" stroke="#0000cc" stroke-width="0.8" stroke-linejoin="round"/>
<line x1="90.50" y1="29.00" x2="90.50" y2="33.00" stroke="#ff0000" stroke-width="1.0"/>
<polygon points="90.5,28.5 91.2,30.0 92.9,30.2 91.7,31.4 92.0,33.0 90.5,32.3 89.0,33.0 89.3,31.4 88.1,30.2 89.8,30.0" fill="#ff0000" stroke="#ff0000" stroke-width="0.8" stroke-linejoin="round"/>
<line x1="91.20" y1="31.00" x2="91.20" y2="37.00" stroke="#ff0000" stroke-width="1.0"/>
<polygon points="91.2,31.5 91.9,33.0 93.6,33.2 92.4,34.4 92.7,36.0 91.2,35.3 89.7,36.0 90.0,34.4 88.8,33.2 90.5,33.0" fill="#ff0000" stroke="#ff0000" stroke-width="0.8" stroke-linejoin="round"/>
<line x1="91.00" y1="35.00" x2="91.00" y2="39.00" stroke="#ff0000" stroke-width="1.0"/>
<polygon points="91.0,34.5 91.7,36.0 93.4,36.2 92.2,37.4 92.5,39.0 91.0,38.3 89.5,39.0 89.8,37.4 88.6,36.2 90.3,36.0" fill="#ff0000" stroke="#ff0000" stroke-width="0.8" stroke-linejoin="round"/>
<line x1="92.50" y1="31.00" x2="92.50" y2="35.00" stroke="#ff0000" stroke-width="1.0"/>
<polygon points="92.5,30.5 93.2,32.0 94.9,32.2 93.7,33.4 94.0,35.0 92.5,34.3 91.0,35.0 91.3,33.4 90.1,32.2 91.8,32.0" fill="#ff0000" stroke="#ff0000" stroke-width="0.8" stroke-linejoin="round"/>
<line x1="94.50" y1="33.00" x2="94.50" y2="37.00" stroke="#ff0000" stroke-width="1.0"/>
<polygon points="94.5,32.5 95.2,34.0 96.9,34.2 95.7,35.4 96.0,37.0 94.5,36.3 93.0,37.0 93.3,35.4 92.1,34.2 93.8,34.0" fill="#ff0000" stroke="#ff0000" stroke-width="0.8" stroke-linejoin="round"/>
<line x1="90.20" y1="39.00" x2="90.20" y2="43.00" stroke="#0000cc" stroke-width="1.0"/>
<polygon points="90.2,38.5 90.9,40.0 92.6,40.2 91.4,41.4 91.7,43.0 90.2,42.3 88.7,43.0 89.0,41.4 87.8,40.2 89.5,40.0" fill="#0000cc" stroke="#0000cc" stroke-width="0.8" stroke-linejoin="round"/>
<line x1="90.50" y1="41.00" x2="90.50" y2="45.00" stroke="#0000cc" stroke-width="1.0"/>
<polygon points="90.5,40.5 91.2,42.0 92.9,42.2 91.7,43.4 92.0,45.0 90.5,44.3 89.0,45.0 89.3,43.4 88.1,42.2 89.8,42.0" fill="#0000cc" stroke="#0000cc" stroke-width="0.8" stroke-linejoin="round"/>
<line x1="91.20" y1="37.00" x2="91.20" y2="41.00" stroke="#0000cc" stroke-width="1.0"/>
<polygon points="91.2,36.5 91.9,38.0 93.6,38.2 92.4,39.4 92.7,41.0 91.2,40.3 89.7,41.0 90.0,39.4 88.8,38.2 90.5,38.0" fill="#0000cc" stroke="#0000cc" stroke-width="0.8" stroke-linejoin="round"/>
<line x1="94.00" y1="38.00" x2="94.00" y2="42.00" stroke="#0000cc" stroke-width="1.0"/>
<polygon points="94.0,37.5 94.7,39.0 96.4,39.2 95.2,40.4 95.5,42.0 94.0,41.3 92.5,42.0 92.8,40.4 91.6,39.2 93.3,39.0" fill="#0000cc" stroke="#0000cc" stroke-width="0.8" stroke-linejoin="round"/>
<line x1="96.00" y1="36.00" x2="96.00" y2="40.00" stroke="#0000cc" stroke-width="1.0"/>
<polygon points="96.0,35.5 96.7,37.0 98.4,37.2 97.2,38.4 97.5,40.0 96.0,39.3 94.5,40.0 94.8,38.4 93.6,37.2 95.3,37.0" fill="#0000cc" stroke="#0000cc" stroke-width="0.8" stroke-linejoin="round"/>
<line x1="99.00" y1="36.50" x2="99.00" y2="40.50" stroke="#0000cc" stroke-width="1.0"/>
<polygon points="99.0,36.0 99.7,37.5 101.4,37.7 100.2,38.9 100.5,40.5 99.0,39.8 97.5,40.5 97.8,38.9 96.6,37.7 98.3,37.5" fill="#0000cc" stroke="#0000cc" stroke-width="0.8" stroke-linejoin="round"/>
<path d="M88.9,32.9 C90.1,33.3 92.3,34.5 96.2,35.3 C100.1,36.1 107.0,37.0 112.4,37.8 C117.8,38.6 123.2,39.5 128.6,40.2 C134.0,40.9 139.4,41.3 144.8,41.8 C150.2,42.3 156.8,42.8 161.0,43.1 C165.2,43.5 165.8,43.3 170.0,43.9 C174.2,44.5 180.8,45.8 186.2,46.7 C191.6,47.7 197.0,48.5 202.4,49.6 C207.8,50.7 213.2,52.0 218.6,53.2 C224.0,54.4 229.4,55.9 234.8,56.9 C240.2,57.9 246.9,58.5 251.0,59.0 C255.1,59.5 256.3,59.2 259.1,59.8 C261.9,60.4 265.4,61.7 268.0,62.4 C270.6,63.1 272.9,63.0 274.7,63.8 C276.5,64.6 277.7,65.9 278.8,67.1 C279.9,68.3 280.6,69.4 281.5,71.2 C282.4,73.0 283.3,75.0 284.2,77.9 C285.1,80.8 286.1,85.3 286.9,88.7 C287.7,92.1 288.5,96.1 288.9,98.1 C289.3,100.1 289.2,100.2 289.3,100.6" fill="none" stroke="#ff0000" stroke-width="2.0" stroke-linejoin="round" stroke-linecap="butt"/>
<path d="M88.1,40.2 C88.8,40.1 90.7,39.7 92.0,39.5 C93.3,39.3 92.8,38.6 96.2,38.9 C99.6,39.2 107.0,40.5 112.4,41.5 C117.8,42.5 123.2,43.8 128.6,44.7 C134.0,45.7 139.4,46.3 144.8,47.2 C150.2,48.1 156.8,49.3 161.0,49.9 C165.2,50.5 165.8,50.3 170.0,50.9 C174.2,51.5 180.8,52.6 186.2,53.6 C191.6,54.6 197.0,55.9 202.4,56.9 C207.8,57.9 213.2,58.6 218.6,59.6 C224.0,60.6 229.4,61.7 234.8,62.6 C240.2,63.5 246.8,64.5 251.0,65.1 C255.2,65.7 257.2,65.7 260.0,66.0 C262.8,66.3 265.8,66.7 268.0,67.1 C270.2,67.5 271.8,67.7 273.4,68.5 C275.0,69.3 276.0,70.1 277.4,71.8 C278.8,73.5 280.3,76.0 281.5,78.6 C282.7,81.2 283.8,84.5 284.8,87.3 C285.8,90.1 286.8,93.4 287.5,95.4 C288.2,97.4 288.6,98.6 288.9,99.5 C289.2,100.4 289.1,100.4 289.1,100.6" fill="none" stroke="#0000cc" stroke-width="2.0" stroke-linejoin="round" stroke-linecap="butt"/>
</g>
<g clip-path="url(#c01)">
<line x1="288.5" y1="0" x2="288.5" y2="400" stroke="#2020e0" stroke-width="1"/>
<line x1="289.5" y1="0" x2="289.5" y2="400" stroke="#c00030" stroke-width="1"/>
<line x1="290.5" y1="0" x2="290.5" y2="400" stroke="#7060d0" stroke-width="1"/>
<line x1="291.5" y1="0" x2="291.5" y2="400" stroke="#701060" stroke-width="1"/>
<line x1="292.5" y1="0" x2="292.5" y2="400" stroke="#a03080" stroke-width="1"/>
<line x1="293.5" y1="0" x2="293.5" y2="400" stroke="#400090" stroke-width="1"/>
<line x1="294.5" y1="0" x2="294.5" y2="400" stroke="#ff6060" stroke-width="1"/>
<line x1="296.5" y1="0" x2="296.5" y2="400" stroke="#0000ff" stroke-width="1"/>
<line x1="297.5" y1="0" x2="297.5" y2="400" stroke="#ff0000" stroke-width="1"/>
<line x1="89.04" y1="125.72" x2="89.04" y2="132.04" stroke="#ff0000" stroke-width="1.0"/>
<polygon points="89.0,127.0 89.6,128.1 90.8,128.3 89.9,129.2 90.1,130.4 89.0,129.8 88.0,130.4 88.2,129.2 87.3,128.3 88.5,128.1" fill="#ff0000" stroke="#ff0000" stroke-width="0.8" stroke-linejoin="round"/>
<line x1="95.25" y1="125.13" x2="95.25" y2="134.07" stroke="#ff0000" stroke-width="1.0"/>
<polygon points="95.2,127.8 95.8,128.9 97.0,129.0 96.1,129.9 96.3,131.1 95.2,130.5 94.2,131.1 94.4,129.9 93.5,129.0 94.7,128.9" fill="#ff0000" stroke="#ff0000" stroke-width="0.8" stroke-linejoin="round"/>
<line x1="100.58" y1="127.33" x2="100.58" y2="136.21" stroke="#ff0000" stroke-width="1.0"/>
<polygon points="100.6,129.9 101.1,131.0 102.3,131.2 101.5,132.1 101.7,133.3 100.6,132.7 99.5,133.3 99.7,132.1 98.8,131.2 100.0,131.0" fill="#ff0000" stroke="#ff0000" stroke-width="0.8" stroke-linejoin="round"/>
<line x1="104.21" y1="128.62" x2="104.21" y2="136.74" stroke="#ff0000" stroke-width="1.0"/>
<polygon points="104.2,130.8 104.8,131.9 106.0,132.1 105.1,133.0 105.3,134.2 104.2,133.6 103.1,134.2 103.3,133.0 102.5,132.1 103.7,131.9" fill="#ff0000" stroke="#ff0000" stroke-width="0.8" stroke-linejoin="round"/>
<line x1="109.54" y1="131.81" x2="109.54" y2="137.33" stroke="#ff0000" stroke-width="1.0"/>
<polygon points="109.5,132.7 110.1,133.8 111.3,134.0 110.4,134.9 110.6,136.1 109.5,135.5 108.5,136.1 108.7,134.9 107.8,134.0 109.0,133.8" fill="#ff0000" stroke="#ff0000" stroke-width="0.8" stroke-linejoin="round"/>
<line x1="114.84" y1="135.19" x2="114.84" y2="141.23" stroke="#ff0000" stroke-width="1.0"/>
<polygon points="114.8,136.4 115.4,137.5 116.6,137.6 115.7,138.5 115.9,139.7 114.8,139.1 113.8,139.7 114.0,138.5 113.1,137.6 114.3,137.5" fill="#ff0000" stroke="#ff0000" stroke-width="0.8" stroke-linejoin="round"/>
<line x1="119.30" y1="130.40" x2="119.30" y2="139.08" stroke="#ff0000" stroke-width="1.0"/>
<polygon points="119.3,132.9 119.8,134.0 121.0,134.2 120.2,135.0 120.4,136.2 119.3,135.7 118.2,136.2 118.4,135.0 117.5,134.2 118.8,134.0" fill="#ff0000" stroke="#ff0000" stroke-width="0.8" stroke-linejoin="round"/>
<line x1="125.14" y1="135.10" x2="125.14" y2="140.33" stroke="#ff0000" stroke-width="1.0"/>
<polygon points="125.1,135.9 125.7,137.0 126.9,137.1 126.0,138.0 126.2,139.2 125.1,138.6 124.1,139.2 124.3,138.0 123.4,137.1 124.6,137.0" fill="#ff0000" stroke="#ff0000" stroke-width="0.8" stroke-linejoin="round"/>
<line x1="130.38" y1="135.16" x2="130.38" y2="141.86" stroke="#ff0000" stroke-width="1.0"/>
<polygon points="130.4,136.7 130.9,137.8 132.1,137.9 131.3,138.8 131.5,140.0 130.4,139.4 129.3,140.0 129.5,138.8 128.6,137.9 129.8,137.8" fill="#ff0000" stroke="#ff0000" stroke-width="0.8" stroke-linejoin="round"/>
<line x1="134.14" y1="138.45" x2="134.14" y2="146.66" stroke="#ff0000" stroke-width="1.0"/>
<polygon points="134.1,140.7 134.7,141.8 135.9,142.0 135.0,142.8 135.2,144.0 134.1,143.5 133.1,144.0 133.3,142.8 132.4,142.0 133.6,141.8" fill="#ff0000" stroke="#ff0000" stroke-width="0.8" stroke-linejoin="round"/>
<line x1="139.17" y1="136.26" x2="139.17" y2="144.68" stroke="#ff0000" stroke-width="1.0"/>
<polygon points="139.2,138.6 139.7,139.7 140.9,139.9 140.0,140.8 140.2,142.0 139.2,141.4 138.1,142.0 138.3,140.8 137.4,139.9 138.6,139.7" fill="#ff0000" stroke="#ff0000" stroke-width="0.8" stroke-linejoin="round"/>
<line x1="144.13" y1="140.53" x2="144.13" y2="146.88" stroke="#ff0000" stroke-width="1.0"/>
<polygon points="144.1,141.9 144.7,143.0 145.9,143.1 145.0,144.0 145.2,145.2 144.1,144.6 143.1,145.2 143.3,144.0 142.4,143.1 143.6,143.0" fill="#ff0000" stroke="#ff0000" stroke-width="0.8" stroke-linejoin="round"/>
<line x1="150.11" y1="137.74" x2="150.11" y2="146.45" stroke="#ff0000" stroke-width="1.0"/>
<polygon points="150.1,140.3 150.6,141.4 151.9,141.5 151.0,142.4 151.2,143.6 150.1,143.0 149.0,143.6 149.2,142.4 148.4,141.5 149.6,141.4" fill="#ff0000" stroke="#ff0000" stroke-width="0.8" stroke-linejoin="round"/>
<line x1="154.54" y1="143.01" x2="154.54" y2="148.97" stroke="#ff0000" stroke-width="1.0"/>
<polygon points="154.5,144.2 155.1,145.2 156.3,145.4 155.4,146.3 155.6,147.5 154.5,146.9 153.5,147.5 153.7,146.3 152.8,145.4 154.0,145.2" fill="#ff0000" stroke="#ff0000" stroke-width="0.8" stroke-linejoin="round"/>
<line x1="159.22" y1="144.21" x2="159.22" y2="149.85" stroke="#ff0000" stroke-width="1.0"/>
<polygon points="159.2,145.2 159.8,146.3 161.0,146.5 160.1,147.3 160.3,148.5 159.2,147.9 158.1,148.5 158.3,147.3 157.5,146.5 158.7,146.3" fill="#ff0000" stroke="#ff0000" stroke-width="0.8" stroke-linejoin="round"/>
<line x1="164.10" y1="144.03" x2="164.10" y2="150.25" stroke="#ff0000" stroke-width="1.0"/>
<polygon points="164.1,145.3 164.6,146.4 165.9,146.6 165.0,147.4 165.2,148.6 164.1,148.1 163.0,148.6 163.2,147.4 162.4,146.6 163.6,146.4" fill="#ff0000" stroke="#ff0000" stroke-width="0.8" stroke-linejoin="round"/>
<line x1="170.52" y1="146.71" x2="170.52" y2="152.87" stroke="#ff0000" stroke-width="1.0"/>
<polygon points="170.5,147.9 171.1,149.0 172.3,149.2 171.4,150.1 171.6,151.3 170.5,150.7 169.4,151.3 169.6,150.1 168.8,149.2 170.0,149.0" fill="#ff0000" stroke="#ff0000" stroke-width="0.8" stroke-linejoin="round"/>
<line x1="175.00" y1="147.63" x2="175.00" y2="152.70" stroke="#ff0000" stroke-width="1.0"/>
<polygon points="175.0,148.3 175.5,149.4 176.8,149.6 175.9,150.4 176.1,151.7 175.0,151.1 173.9,151.7 174.1,150.4 173.3,149.6 174.5,149.4" fill="#ff0000" stroke="#ff0000" stroke-width="0.8" stroke-linejoin="round"/>
<line x1="179.50" y1="149.42" x2="179.50" y2="154.48" stroke="#ff0000" stroke-width="1.0"/>
<polygon points="179.5,150.1 180.0,151.2 181.3,151.4 180.4,152.2 180.6,153.4 179.5,152.9 178.4,153.4 178.6,152.2 177.8,151.4 179.0,151.2" fill="#ff0000" stroke="#ff0000" stroke-width="0.8" stroke-linejoin="round"/>
<line x1="185.47" y1="146.72" x2="185.47" y2="153.62" stroke="#ff0000" stroke-width="1.0"/>
<polygon points="185.5,148.3 186.0,149.4 187.2,149.6 186.3,150.5 186.5,151.7 185.5,151.1 184.4,151.7 184.6,150.5 183.7,149.6 184.9,149.4" fill="#ff0000" stroke="#ff0000" stroke-width="0.8" stroke-linejoin="round"/>
<line x1="190.87" y1="148.99" x2="190.87" y2="154.42" stroke="#ff0000" stroke-width="1.0"/>
<polygon points="190.9,149.9 191.4,151.0 192.6,151.1 191.7,152.0 192.0,153.2 190.9,152.6 189.8,153.2 190.0,152.0 189.1,151.1 190.3,151.0" fill="#ff0000" stroke="#ff0000" stroke-width="0.8" stroke-linejoin="round"/>
<line x1="195.64" y1="146.93" x2="195.64" y2="155.27" stroke="#ff0000" stroke-width="1.0"/>
<polygon points="195.6,149.3 196.2,150.4 197.4,150.5 196.5,151.4 196.7,152.6 195.6,152.0 194.6,152.6 194.8,151.4 193.9,150.5 195.1,150.4" fill="#ff0000" stroke="#ff0000" stroke-width="0.8" stroke-linejoin="round"/>
<line x1="199.79" y1="151.19" x2="199.79" y2="158.22" stroke="#ff0000" stroke-width="1.0"/>
<polygon points="199.8,152.9 200.3,154.0 201.5,154.1 200.7,155.0 200.9,156.2 199.8,155.6 198.7,156.2 198.9,155.0 198.0,154.1 199.2,154.0" fill="#ff0000" stroke="#ff0000" stroke-width="0.8" stroke-linejoin="round"/>
<line x1="205.38" y1="152.42" x2="205.38" y2="160.74" stroke="#ff0000" stroke-width="1.0"/>
<polygon points="205.4,154.7 205.9,155.8 207.1,156.0 206.3,156.9 206.5,158.1 205.4,157.5 204.3,158.1 204.5,156.9 203.6,156.0 204.8,155.8" fill="#ff0000" stroke="#ff0000" stroke-width="0.8" stroke-linejoin="round"/>
<line x1="210.41" y1="151.99" x2="210.41" y2="159.53" stroke="#ff0000" stroke-width="1.0"/>
<polygon points="210.4,153.9 211.0,155.0 212.2,155.2 211.3,156.0 211.5,157.2 210.4,156.7 209.3,157.2 209.5,156.0 208.7,155.2 209.9,155.0" fill="#ff0000" stroke="#ff0000" stroke-width="0.8" stroke-linejoin="round"/>
<line x1="214.81" y1="153.71" x2="214.81" y2="159.23" stroke="#ff0000" stroke-width="1.0"/>
<polygon points="214.8,154.6 215.4,155.7 216.6,155.9 215.7,156.8 215.9,158.0 214.8,157.4 213.7,158.0 213.9,156.8 213.1,155.9 214.3,155.7" fill="#ff0000" stroke="#ff0000" stroke-width="0.8" stroke-linejoin="round"/>
<line x1="219.14" y1="154.19" x2="219.14" y2="162.15" stroke="#ff0000" stroke-width="1.0"/>
<polygon points="219.1,156.3 219.7,157.4 220.9,157.6 220.0,158.5 220.2,159.7 219.1,159.1 218.1,159.7 218.3,158.5 217.4,157.6 218.6,157.4" fill="#ff0000" stroke="#ff0000" stroke-width="0.8" stroke-linejoin="round"/>
<line x1="224.51" y1="154.95" x2="224.51" y2="163.32" stroke="#ff0000" stroke-width="1.0"/>
<polygon points="224.5,157.3 225.1,158.4 226.3,158.6 225.4,159.4 225.6,160.6 224.5,160.1 223.4,160.6 223.6,159.4 222.8,158.6 224.0,158.4" fill="#ff0000" stroke="#ff0000" stroke-width="0.8" stroke-linejoin="round"/>
<line x1="230.74" y1="156.78" x2="230.74" y2="164.47" stroke="#ff0000" stroke-width="1.0"/>
<polygon points="230.7,158.8 231.3,159.9 232.5,160.1 231.6,160.9 231.8,162.1 230.7,161.5 229.7,162.1 229.9,160.9 229.0,160.1 230.2,159.9" fill="#ff0000" stroke="#ff0000" stroke-width="0.8" stroke-linejoin="round"/>
<line x1="234.56" y1="157.39" x2="234.56" y2="164.23" stroke="#ff0000" stroke-width="1.0"/>
<polygon points="234.6,159.0 235.1,160.1 236.3,160.2 235.4,161.1 235.6,162.3 234.6,161.7 233.5,162.3 233.7,161.1 232.8,160.2 234.0,160.1" fill="#ff0000" stroke="#ff0000" stroke-width="0.8" stroke-linejoin="round"/>
<line x1="239.32" y1="159.78" x2="239.32" y2="166.56" stroke="#ff0000" stroke-width="1.0"/>
<polygon points="239.3,161.3 239.9,162.4 241.1,162.6 240.2,163.5 240.4,164.7 239.3,164.1 238.2,164.7 238.4,163.5 237.6,162.6 238.8,162.4" fill="#ff0000" stroke="#ff0000" stroke-width="0.8" stroke-linejoin="round"/>
<line x1="244.53" y1="163.80" x2="244.53" y2="170.99" stroke="#ff0000" stroke-width="1.0"/>
<polygon points="244.5,165.6 245.1,166.7 246.3,166.8 245.4,167.7 245.6,168.9 244.5,168.3 243.4,168.9 243.7,167.7 242.8,166.8 244.0,166.7" fill="#ff0000" stroke="#ff0000" stroke-width="0.8" stroke-linejoin="round"/>
<line x1="249.49" y1="158.14" x2="249.49" y2="167.00" stroke="#ff0000" stroke-width="1.0"/>
<polygon points="249.5,160.7 250.0,161.8 251.2,162.0 250.4,162.9 250.6,164.1 249.5,163.5 248.4,164.1 248.6,162.9 247.7,162.0 248.9,161.8" fill="#ff0000" stroke="#ff0000" stroke-width="0.8" stroke-linejoin="round"/>
<line x1="254.62" y1="161.45" x2="254.62" y2="167.98" stroke="#ff0000" stroke-width="1.0"/>
<polygon points="254.6,162.9 255.2,164.0 256.4,164.1 255.5,165.0 255.7,166.2 254.6,165.6 253.5,166.2 253.7,165.0 252.9,164.1 254.1,164.0" fill="#ff0000" stroke="#ff0000" stroke-width="0.8" stroke-linejoin="round"/>
<line x1="259.95" y1="162.42" x2="259.95" y2="169.43" stroke="#ff0000" stroke-width="1.0"/>
<polygon points="259.9,164.1 260.5,165.2 261.7,165.4 260.8,166.2 261.0,167.4 259.9,166.8 258.9,167.4 259.1,166.2 258.2,165.4 259.4,165.2" fill="#ff0000" stroke="#ff0000" stroke-width="0.8" stroke-linejoin="round"/>
<line x1="264.40" y1="163.91" x2="264.40" y2="169.96" stroke="#ff0000" stroke-width="1.0"/>
<polygon points="264.4,165.1 264.9,166.2 266.2,166.4 265.3,167.2 265.5,168.4 264.4,167.9 263.3,168.4 263.5,167.2 262.7,166.4 263.9,166.2" fill="#ff0000" stroke="#ff0000" stroke-width="0.8" stroke-linejoin="round"/>
<line x1="269.18" y1="165.70" x2="269.18" y2="172.30" stroke="#ff0000" stroke-width="1.0"/>
<polygon points="269.2,167.2 269.7,168.3 270.9,168.4 270.1,169.3 270.3,170.5 269.2,169.9 268.1,170.5 268.3,169.3 267.4,168.4 268.6,168.3" fill="#ff0000" stroke="#ff0000" stroke-width="0.8" stroke-linejoin="round"/>
<line x1="274.08" y1="169.89" x2="274.08" y2="175.82" stroke="#ff0000" stroke-width="1.0"/>
<polygon points="274.1,171.0 274.6,172.1 275.8,172.3 275.0,173.1 275.2,174.3 274.1,173.8 273.0,174.3 273.2,173.1 272.3,172.3 273.5,172.1" fill="#ff0000" stroke="#ff0000" stroke-width="0.8" stroke-linejoin="round"/>
<line x1="280.17" y1="171.41" x2="280.17" y2="178.52" stroke="#ff0000" stroke-width="1.0"/>
<polygon points="280.2,173.1 280.7,174.2 281.9,174.4 281.0,175.2 281.3,176.5 280.2,175.9 279.1,176.5 279.3,175.2 278.4,174.4 279.6,174.2" fill="#ff0000" stroke="#ff0000" stroke-width="0.8" stroke-linejoin="round"/>
<line x1="90.50" y1="112.43" x2="90.50" y2="121.82" stroke="#0000cc" stroke-width="1.0"/>
<polygon points="90.5,115.1 91.1,116.3 92.4,116.5 91.5,117.4 91.7,118.8 90.5,118.1 89.3,118.8 89.5,117.4 88.6,116.5 89.9,116.3" fill="#0000cc" stroke="#0000cc" stroke-width="0.8" stroke-linejoin="round"/>
<line x1="94.78" y1="114.68" x2="94.78" y2="121.31" stroke="#0000cc" stroke-width="1.0"/>
<polygon points="94.8,116.0 95.4,117.2 96.7,117.4 95.7,118.3 96.0,119.6 94.8,119.0 93.6,119.6 93.8,118.3 92.9,117.4 94.2,117.2" fill="#0000cc" stroke="#0000cc" stroke-width="0.8" stroke-linejoin="round"/>
<line x1="100.97" y1="121.06" x2="100.97" y2="129.27" stroke="#0000cc" stroke-width="1.0"/>
<polygon points="101.0,123.2 101.6,124.4 102.9,124.5 101.9,125.5 102.2,126.8 101.0,126.2 99.8,126.8 100.0,125.5 99.1,124.5 100.4,124.4" fill="#0000cc" stroke="#0000cc" stroke-width="0.8" stroke-linejoin="round"/>
<line x1="104.09" y1="122.67" x2="104.09" y2="131.85" stroke="#0000cc" stroke-width="1.0"/>
<polygon points="104.1,125.2 104.7,126.4 106.0,126.6 105.0,127.6 105.3,128.9 104.1,128.3 102.9,128.9 103.1,127.6 102.2,126.6 103.5,126.4" fill="#0000cc" stroke="#0000cc" stroke-width="0.8" stroke-linejoin="round"/>
<line x1="110.78" y1="120.88" x2="110.78" y2="129.94" stroke="#0000cc" stroke-width="1.0"/>
<polygon points="110.8,123.4 111.4,124.6 112.7,124.8 111.7,125.7 112.0,127.0 110.8,126.4 109.6,127.0 109.8,125.7 108.9,124.8 110.2,124.6" fill="#0000cc" stroke="#0000cc" stroke-width="0.8" stroke-linejoin="round"/>
<line x1="114.28" y1="123.10" x2="114.28" y2="130.72" stroke="#0000cc" stroke-width="1.0"/>
<polygon points="114.3,124.9 114.9,126.1 116.2,126.3 115.2,127.2 115.5,128.5 114.3,127.9 113.1,128.5 113.3,127.2 112.4,126.3 113.7,126.1" fill="#0000cc" stroke="#0000cc" stroke-width="0.8" stroke-linejoin="round"/>
<line x1="120.01" y1="128.98" x2="120.01" y2="138.12" stroke="#0000cc" stroke-width="1.0"/>
<polygon points="120.0,131.5 120.6,132.7 121.9,132.9 121.0,133.9 121.2,135.2 120.0,134.6 118.8,135.2 119.1,133.9 118.1,132.9 119.4,132.7" fill="#0000cc" stroke="#0000cc" stroke-width="0.8" stroke-linejoin="round"/>
<line x1="125.17" y1="125.41" x2="125.17" y2="134.88" stroke="#0000cc" stroke-width="1.0"/>
<polygon points="125.2,128.1 125.8,129.3 127.1,129.5 126.1,130.5 126.4,131.8 125.2,131.2 124.0,131.8 124.2,130.5 123.3,129.5 124.6,129.3" fill="#0000cc" stroke="#0000cc" stroke-width="0.8" stroke-linejoin="round"/>
<line x1="130.37" y1="131.73" x2="130.37" y2="136.89" stroke="#0000cc" stroke-width="1.0"/>
<polygon points="130.4,132.3 131.0,133.5 132.3,133.7 131.3,134.6 131.5,135.9 130.4,135.3 129.2,135.9 129.4,134.6 128.5,133.7 129.8,133.5" fill="#0000cc" stroke="#0000cc" stroke-width="0.8" stroke-linejoin="round"/>
<line x1="134.27" y1="131.23" x2="134.27" y2="138.03" stroke="#0000cc" stroke-width="1.0"/>
<polygon points="134.3,132.6 134.9,133.8 136.2,134.0 135.2,134.9 135.4,136.3 134.3,135.6 133.1,136.3 133.3,134.9 132.4,134.0 133.7,133.8" fill="#0000cc" stroke="#0000cc" stroke-width="0.8" stroke-linejoin="round"/>
<line x1="139.21" y1="134.69" x2="139.21" y2="142.83" stroke="#0000cc" stroke-width="1.0"/>
<polygon points="139.2,136.7 139.8,137.9 141.1,138.1 140.2,139.1 140.4,140.4 139.2,139.8 138.0,140.4 138.3,139.1 137.3,138.1 138.6,137.9" fill="#0000cc" stroke="#0000cc" stroke-width="0.8" stroke-linejoin="round"/>
<line x1="145.25" y1="132.27" x2="145.25" y2="140.68" stroke="#0000cc" stroke-width="1.0"/>
<polygon points="145.3,134.5 145.8,135.7 147.2,135.9 146.2,136.8 146.4,138.1 145.3,137.5 144.1,138.1 144.3,136.8 143.3,135.9 144.7,135.7" fill="#0000cc" stroke="#0000cc" stroke-width="0.8" stroke-linejoin="round"/>
<line x1="149.98" y1="138.83" x2="149.98" y2="147.57" stroke="#0000cc" stroke-width="1.0"/>
<polygon points="150.0,141.2 150.6,142.4 151.9,142.6 150.9,143.5 151.2,144.8 150.0,144.2 148.8,144.8 149.0,143.5 148.1,142.6 149.4,142.4" fill="#0000cc" stroke="#0000cc" stroke-width="0.8" stroke-linejoin="round"/>
<line x1="155.01" y1="136.89" x2="155.01" y2="144.56" stroke="#0000cc" stroke-width="1.0"/>
<polygon points="155.0,138.7 155.6,139.9 156.9,140.1 156.0,141.0 156.2,142.4 155.0,141.7 153.8,142.4 154.0,141.0 153.1,140.1 154.4,139.9" fill="#0000cc" stroke="#0000cc" stroke-width="0.8" stroke-linejoin="round"/>
<line x1="160.32" y1="141.58" x2="160.32" y2="147.84" stroke="#0000cc" stroke-width="1.0"/>
<polygon points="160.3,142.7 160.9,143.9 162.2,144.1 161.3,145.0 161.5,146.3 160.3,145.7 159.1,146.3 159.4,145.0 158.4,144.1 159.7,143.9" fill="#0000cc" stroke="#0000cc" stroke-width="0.8" stroke-linejoin="round"/>
<line x1="164.15" y1="140.63" x2="164.15" y2="146.96" stroke="#0000cc" stroke-width="1.0"/>
<polygon points="164.1,141.8 164.7,143.0 166.1,143.2 165.1,144.1 165.3,145.4 164.1,144.8 163.0,145.4 163.2,144.1 162.2,143.2 163.6,143.0" fill="#0000cc" stroke="#0000cc" stroke-width="0.8" stroke-linejoin="round"/>
<line x1="170.46" y1="139.70" x2="170.46" y2="149.58" stroke="#0000cc" stroke-width="1.0"/>
<polygon points="170.5,142.6 171.1,143.8 172.4,144.0 171.4,145.0 171.6,146.3 170.5,145.6 169.3,146.3 169.5,145.0 168.5,144.0 169.9,143.8" fill="#0000cc" stroke="#0000cc" stroke-width="0.8" stroke-linejoin="round"/>
<line x1="174.99" y1="144.32" x2="174.99" y2="151.23" stroke="#0000cc" stroke-width="1.0"/>
<polygon points="175.0,145.8 175.6,147.0 176.9,147.2 175.9,148.1 176.2,149.4 175.0,148.8 173.8,149.4 174.0,148.1 173.1,147.2 174.4,147.0" fill="#0000cc" stroke="#0000cc" stroke-width="0.8" stroke-linejoin="round"/>
<line x1="179.96" y1="140.24" x2="179.96" y2="148.32" stroke="#0000cc" stroke-width="1.0"/>
<polygon points="180.0,142.3 180.5,143.5 181.9,143.7 180.9,144.6 181.1,145.9 180.0,145.3 178.8,145.9 179.0,144.6 178.0,143.7 179.4,143.5" fill="#0000cc" stroke="#0000cc" stroke-width="0.8" stroke-linejoin="round"/>
<line x1="185.29" y1="141.09" x2="185.29" y2="146.47" stroke="#0000cc" stroke-width="1.0"/>
<polygon points="185.3,141.8 185.9,143.0 187.2,143.2 186.2,144.1 186.5,145.4 185.3,144.8 184.1,145.4 184.3,144.1 183.4,143.2 184.7,143.0" fill="#0000cc" stroke="#0000cc" stroke-width="0.8" stroke-linejoin="round"/>
<line x1="189.29" y1="144.49" x2="189.29" y2="151.02" stroke="#0000cc" stroke-width="1.0"/>
<polygon points="189.3,145.7 189.9,146.9 191.2,147.1 190.3,148.1 190.5,149.4 189.3,148.8 188.1,149.4 188.3,148.1 187.4,147.1 188.7,146.9" fill="#0000cc" stroke="#0000cc" stroke-width="0.8" stroke-linejoin="round"/>
<line x1="195.14" y1="149.70" x2="195.14" y2="154.76" stroke="#0000cc" stroke-width="1.0"/>
<polygon points="195.1,150.2 195.7,151.4 197.0,151.6 196.1,152.5 196.3,153.9 195.1,153.2 194.0,153.9 194.2,152.5 193.2,151.6 194.5,151.4" fill="#0000cc" stroke="#0000cc" stroke-width="0.8" stroke-linejoin="round"/>
<line x1="199.12" y1="145.07" x2="199.12" y2="153.53" stroke="#0000cc" stroke-width="1.0"/>
<polygon points="199.1,147.3 199.7,148.5 201.0,148.7 200.1,149.6 200.3,150.9 199.1,150.3 197.9,150.9 198.2,149.6 197.2,148.7 198.5,148.5" fill="#0000cc" stroke="#0000cc" stroke-width="0.8" stroke-linejoin="round"/>
<line x1="205.35" y1="150.52" x2="205.35" y2="156.98" stroke="#0000cc" stroke-width="1.0"/>
<polygon points="205.4,151.7 205.9,152.9 207.3,153.1 206.3,154.1 206.5,155.4 205.4,154.8 204.2,155.4 204.4,154.1 203.4,153.1 204.8,152.9" fill="#0000cc" stroke="#0000cc" stroke-width="0.8" stroke-linejoin="round"/>
<line x1="210.03" y1="146.63" x2="210.03" y2="152.22" stroke="#0000cc" stroke-width="1.0"/>
<polygon points="210.0,147.4 210.6,148.6 211.9,148.8 211.0,149.7 211.2,151.1 210.0,150.4 208.9,151.1 209.1,149.7 208.1,148.8 209.4,148.6" fill="#0000cc" stroke="#0000cc" stroke-width="0.8" stroke-linejoin="round"/>
<line x1="215.79" y1="150.09" x2="215.79" y2="156.09" stroke="#0000cc" stroke-width="1.0"/>
<polygon points="215.8,151.1 216.4,152.3 217.7,152.5 216.7,153.4 217.0,154.7 215.8,154.1 214.6,154.7 214.8,153.4 213.9,152.5 215.2,152.3" fill="#0000cc" stroke="#0000cc" stroke-width="0.8" stroke-linejoin="round"/>
<line x1="220.96" y1="150.18" x2="220.96" y2="157.48" stroke="#0000cc" stroke-width="1.0"/>
<polygon points="221.0,151.8 221.5,153.0 222.9,153.2 221.9,154.1 222.1,155.5 221.0,154.8 219.8,155.5 220.0,154.1 219.0,153.2 220.4,153.0" fill="#0000cc" stroke="#0000cc" stroke-width="0.8" stroke-linejoin="round"/>
<line x1="225.64" y1="149.22" x2="225.64" y2="159.06" stroke="#0000cc" stroke-width="1.0"/>
<polygon points="225.6,152.1 226.2,153.3 227.6,153.5 226.6,154.5 226.8,155.8 225.6,155.1 224.5,155.8 224.7,154.5 223.7,153.5 225.0,153.3" fill="#0000cc" stroke="#0000cc" stroke-width="0.8" stroke-linejoin="round"/>
<line x1="229.90" y1="150.09" x2="229.90" y2="159.82" stroke="#0000cc" stroke-width="1.0"/>
<polygon points="229.9,152.9 230.5,154.1 231.8,154.3 230.9,155.3 231.1,156.6 229.9,156.0 228.7,156.6 228.9,155.3 228.0,154.3 229.3,154.1" fill="#0000cc" stroke="#0000cc" stroke-width="0.8" stroke-linejoin="round"/>
<line x1="234.42" y1="153.42" x2="234.42" y2="161.32" stroke="#0000cc" stroke-width="1.0"/>
<polygon points="234.4,155.4 235.0,156.6 236.3,156.7 235.4,157.7 235.6,159.0 234.4,158.4 233.2,159.0 233.5,157.7 232.5,156.7 233.8,156.6" fill="#0000cc" stroke="#0000cc" stroke-width="0.8" stroke-linejoin="round"/>
<line x1="239.28" y1="149.25" x2="239.28" y2="154.91" stroke="#0000cc" stroke-width="1.0"/>
<polygon points="239.3,150.1 239.9,151.3 241.2,151.5 240.2,152.4 240.5,153.7 239.3,153.1 238.1,153.7 238.3,152.4 237.4,151.5 238.7,151.3" fill="#0000cc" stroke="#0000cc" stroke-width="0.8" stroke-linejoin="round"/>
<line x1="245.64" y1="153.77" x2="245.64" y2="161.32" stroke="#0000cc" stroke-width="1.0"/>
<polygon points="245.6,155.5 246.2,156.7 247.6,156.9 246.6,157.9 246.8,159.2 245.6,158.6 244.5,159.2 244.7,157.9 243.7,156.9 245.0,156.7" fill="#0000cc" stroke="#0000cc" stroke-width="0.8" stroke-linejoin="round"/>
<line x1="250.77" y1="154.43" x2="250.77" y2="163.92" stroke="#0000cc" stroke-width="1.0"/>
<polygon points="250.8,157.2 251.4,158.4 252.7,158.6 251.7,159.5 252.0,160.8 250.8,160.2 249.6,160.8 249.8,159.5 248.9,158.6 250.2,158.4" fill="#0000cc" stroke="#0000cc" stroke-width="0.8" stroke-linejoin="round"/>
<line x1="254.97" y1="156.71" x2="254.97" y2="161.83" stroke="#0000cc" stroke-width="1.0"/>
<polygon points="255.0,157.3 255.6,158.5 256.9,158.7 255.9,159.6 256.2,160.9 255.0,160.3 253.8,160.9 254.0,159.6 253.1,158.7 254.4,158.5" fill="#0000cc" stroke="#0000cc" stroke-width="0.8" stroke-linejoin="round"/>
<line x1="259.01" y1="156.25" x2="259.01" y2="162.76" stroke="#0000cc" stroke-width="1.0"/>
<polygon points="259.0,157.5 259.6,158.7 260.9,158.9 260.0,159.8 260.2,161.1 259.0,160.5 257.8,161.1 258.1,159.8 257.1,158.9 258.4,158.7" fill="#0000cc" stroke="#0000cc" stroke-width="0.8" stroke-linejoin="round"/>
<line x1="264.28" y1="160.09" x2="264.28" y2="166.81" stroke="#0000cc" stroke-width="1.0"/>
<polygon points="264.3,161.4 264.9,162.6 266.2,162.8 265.2,163.8 265.5,165.1 264.3,164.5 263.1,165.1 263.3,163.8 262.4,162.8 263.7,162.6" fill="#0000cc" stroke="#0000cc" stroke-width="0.8" stroke-linejoin="round"/>
<line x1="269.63" y1="161.38" x2="269.63" y2="170.13" stroke="#0000cc" stroke-width="1.0"/>
<polygon points="269.6,163.7 270.2,164.9 271.5,165.1 270.6,166.1 270.8,167.4 269.6,166.8 268.4,167.4 268.7,166.1 267.7,165.1 269.0,164.9" fill="#0000cc" stroke="#0000cc" stroke-width="0.8" stroke-linejoin="round"/>
<line x1="275.68" y1="166.28" x2="275.68" y2="171.88" stroke="#0000cc" stroke-width="1.0"/>
<polygon points="275.7,167.1 276.3,168.3 277.6,168.5 276.6,169.4 276.9,170.7 275.7,170.1 274.5,170.7 274.7,169.4 273.8,168.5 275.1,168.3" fill="#0000cc" stroke="#0000cc" stroke-width="0.8" stroke-linejoin="round"/>
<line x1="280.85" y1="168.30" x2="280.85" y2="174.75" stroke="#0000cc" stroke-width="1.0"/>
<polygon points="280.9,169.5 281.4,170.7 282.8,170.9 281.8,171.8 282.0,173.2 280.9,172.5 279.7,173.2 279.9,171.8 278.9,170.9 280.3,170.7" fill="#0000cc" stroke="#0000cc" stroke-width="0.8" stroke-linejoin="round"/>
<line x1="90.20" y1="112.00" x2="90.20" y2="120.00" stroke="#0000cc" stroke-width="1.0"/>
<polygon points="90.2,113.7 90.9,115.1 92.4,115.3 91.3,116.4 91.6,117.9 90.2,117.2 88.8,117.9 89.1,116.4 88.0,115.3 89.5,115.1" fill="#0000cc" stroke="#0000cc" stroke-width="0.8" stroke-linejoin="round"/>
<line x1="90.80" y1="118.00" x2="90.80" y2="124.00" stroke="#0000cc" stroke-width="1.0"/>
<polygon points="90.8,118.7 91.5,120.1 93.0,120.3 91.9,121.4 92.2,122.9 90.8,122.2 89.4,122.9 89.7,121.4 88.6,120.3 90.1,120.1" fill="#0000cc" stroke="#0000cc" stroke-width="0.8" stroke-linejoin="round"/>
<line x1="93.00" y1="118.00" x2="93.00" y2="124.00" stroke="#0000cc" stroke-width="1.0"/>
<polygon points="93.0,118.7 93.7,120.1 95.2,120.3 94.1,121.4 94.4,122.9 93.0,122.2 91.6,122.9 91.9,121.4 90.8,120.3 92.3,120.1" fill="#0000cc" stroke="#0000cc" stroke-width="0.8" stroke-linejoin="round"/>
<line x1="95.50" y1="117.00" x2="95.50" y2="123.00" stroke="#0000cc" stroke-width="1.0"/>
<polygon points="95.5,117.7 96.2,119.1 97.7,119.3 96.6,120.4 96.9,121.9 95.5,121.2 94.1,121.9 94.4,120.4 93.3,119.3 94.8,119.1" fill="#0000cc" stroke="#0000cc" stroke-width="0.8" stroke-linejoin="round"/>
<line x1="97.50" y1="118.00" x2="97.50" y2="124.00" stroke="#0000cc" stroke-width="1.0"/>
<polygon points="97.5,118.7 98.2,120.1 99.7,120.3 98.6,121.4 98.9,122.9 97.5,122.2 96.1,122.9 96.4,121.4 95.3,120.3 96.8,120.1" fill="#0000cc" stroke="#0000cc" stroke-width="0.8" stroke-linejoin="round"/>
<line x1="100.00" y1="121.00" x2="100.00" y2="127.00" stroke="#0000cc" stroke-width="1.0"/>
<polygon points="100.0,121.7 100.7,123.1 102.2,123.3 101.1,124.4 101.4,125.9 100.0,125.2 98.6,125.9 98.9,124.4 97.8,123.3 99.3,123.1" fill="#0000cc" stroke="#0000cc" stroke-width="0.8" stroke-linejoin="round"/>
<line x1="90.50" y1="125.00" x2="90.50" y2="131.00" stroke="#0000cc" stroke-width="1.0"/>
<polygon points="90.5,125.7 91.2,127.1 92.7,127.3 91.6,128.4 91.9,129.9 90.5,129.2 89.1,129.9 89.4,128.4 88.3,127.3 89.8,127.1" fill="#0000cc" stroke="#0000cc" stroke-width="0.8" stroke-linejoin="round"/>
<line x1="90.80" y1="128.00" x2="90.80" y2="136.00" stroke="#0000cc" stroke-width="1.0"/>
<polygon points="90.8,129.7 91.5,131.1 93.0,131.3 91.9,132.4 92.2,133.9 90.8,133.2 89.4,133.9 89.7,132.4 88.6,131.3 90.1,131.1" fill="#0000cc" stroke="#0000cc" stroke-width="0.8" stroke-linejoin="round"/>
<line x1="90.50" y1="126.00" x2="90.50" y2="132.00" stroke="#ff0000" stroke-width="1.0"/>
<polygon points="90.5,126.9 91.1,128.2 92.5,128.4 91.5,129.3 91.7,130.7 90.5,130.0 89.3,130.7 89.5,129.3 88.5,128.4 89.9,128.2" fill="#ff0000" stroke="#ff0000" stroke-width="0.8" stroke-linejoin="round"/>
<line x1="92.00" y1="128.00" x2="92.00" y2="134.00" stroke="#ff0000" stroke-width="1.0"/>
<polygon points="92.0,128.9 92.6,130.2 94.0,130.4 93.0,131.3 93.2,132.7 92.0,132.0 90.8,132.7 91.0,131.3 90.0,130.4 91.4,130.2" fill="#ff0000" stroke="#ff0000" stroke-width="0.8" stroke-linejoin="round"/>
<line x1="94.00" y1="128.00" x2="94.00" y2="134.00" stroke="#ff0000" stroke-width="1.0"/>
<polygon points="94.0,128.9 94.6,130.2 96.0,130.4 95.0,131.3 95.2,132.7 94.0,132.0 92.8,132.7 93.0,131.3 92.0,130.4 93.4,130.2" fill="#ff0000" stroke="#ff0000" stroke-width="0.8" stroke-linejoin="round"/>
<line x1="96.50" y1="129.00" x2="96.50" y2="135.00" stroke="#ff0000" stroke-width="1.0"/>
<polygon points="96.5,129.9 97.1,131.2 98.5,131.4 97.5,132.3 97.7,133.7 96.5,133.0 95.3,133.7 95.5,132.3 94.5,131.4 95.9,131.2" fill="#ff0000" stroke="#ff0000" stroke-width="0.8" stroke-linejoin="round"/>
<line x1="90.50" y1="122.00" x2="90.50" y2="128.00" stroke="#ff0000" stroke-width="1.0"/>
<polygon points="90.5,122.9 91.1,124.2 92.5,124.4 91.5,125.3 91.7,126.7 90.5,126.0 89.3,126.7 89.5,125.3 88.5,124.4 89.9,124.2" fill="#ff0000" stroke="#ff0000" stroke-width="0.8" stroke-linejoin="round"/>
<path d="M89.8,127.6 C91.5,128.1 94.8,129.3 99.7,130.6 C104.6,131.9 112.8,133.9 119.3,135.5 C125.8,137.1 132.4,138.9 139.0,140.4 C145.6,141.9 152.1,142.8 158.7,144.3 C165.3,145.8 173.2,148.2 178.4,149.3 C183.6,150.4 185.0,150.0 190.0,150.9 C195.0,151.8 202.1,153.3 208.2,154.5 C214.2,155.7 220.2,156.9 226.3,158.1 C232.4,159.3 238.4,160.5 244.5,161.7 C250.6,162.9 258.1,164.2 262.6,165.4 C267.1,166.6 268.7,167.6 271.7,169.0 C274.7,170.4 278.6,173.0 280.8,174.1 C283.0,175.2 284.3,175.1 285.0,175.3" fill="none" stroke="#ff0000" stroke-width="2.0" stroke-linejoin="round" stroke-linecap="butt"/>
<path d="M88.9,119.2 C90.7,120.0 94.6,121.5 99.7,123.7 C104.8,125.9 112.8,130.1 119.3,132.5 C125.8,134.9 132.4,136.8 139.0,138.4 C145.6,140.1 152.1,141.1 158.7,142.4 C165.3,143.7 173.2,145.2 178.4,146.3 C183.6,147.4 185.0,148.0 190.0,149.0 C195.0,150.0 202.1,151.2 208.2,152.3 C214.2,153.4 220.2,154.3 226.3,155.4 C232.4,156.5 238.4,157.6 244.5,159.0 C250.6,160.4 258.1,162.2 262.6,163.6 C267.1,165.0 268.7,165.9 271.7,167.6 C274.7,169.2 278.4,172.2 280.8,173.5 C283.2,174.8 285.3,174.9 286.2,175.2" fill="none" stroke="#0000cc" stroke-width="2.0" stroke-linejoin="round" stroke-linecap="butt"/>
</g>
<g clip-path="url(#c02)">
<line x1="61.50" y1="175.00" x2="61.50" y2="181.00" stroke="#0000cc" stroke-width="1.0"/>
<polygon points="61.5,175.1 62.3,176.8 64.2,177.1 62.9,178.4 63.2,180.3 61.5,179.4 59.8,180.3 60.1,178.4 58.8,177.1 60.7,176.8" fill="#0000cc" stroke="#0000cc" stroke-width="0.8" stroke-linejoin="round"/>
<line x1="61.50" y1="178.00" x2="61.50" y2="184.00" stroke="#0000cc" stroke-width="1.0"/>
<polygon points="61.5,178.1 62.3,179.8 64.2,180.1 62.9,181.4 63.2,183.3 61.5,182.4 59.8,183.3 60.1,181.4 58.8,180.1 60.7,179.8" fill="#0000cc" stroke="#0000cc" stroke-width="0.8" stroke-linejoin="round"/>
<line x1="61.50" y1="180.00" x2="61.50" y2="188.00" stroke="#0000cc" stroke-width="1.0"/>
<polygon points="61.5,181.1 62.3,182.8 64.2,183.1 62.9,184.4 63.2,186.3 61.5,185.4 59.8,186.3 60.1,184.4 58.8,183.1 60.7,182.8" fill="#0000cc" stroke="#0000cc" stroke-width="0.8" stroke-linejoin="round"/>
<line x1="61.50" y1="182.00" x2="61.50" y2="192.00" stroke="#0000cc" stroke-width="1.0"/>
<polygon points="61.5,184.1 62.3,185.8 64.2,186.1 62.9,187.4 63.2,189.3 61.5,188.4 59.8,189.3 60.1,187.4 58.8,186.1 60.7,185.8" fill="#0000cc" stroke="#0000cc" stroke-width="0.8" stroke-linejoin="round"/>
<line x1="61.50" y1="181.00" x2="61.50" y2="197.00" stroke="#0000cc" stroke-width="1.0"/>
<polygon points="61.5,186.1 62.3,187.8 64.2,188.1 62.9,189.4 63.2,191.3 61.5,190.4 59.8,191.3 60.1,189.4 58.8,188.1 60.7,187.8" fill="#0000cc" stroke="#0000cc" stroke-width="0.8" stroke-linejoin="round"/>
<line x1="87.00" y1="179.00" x2="87.00" y2="189.00" stroke="#0000cc" stroke-width="1.0"/>
<polygon points="87.0,181.1 87.8,182.8 89.7,183.1 88.4,184.4 88.7,186.3 87.0,185.4 85.3,186.3 85.6,184.4 84.3,183.1 86.2,182.8" fill="#0000cc" stroke="#0000cc" stroke-width="0.8" stroke-linejoin="round"/>
<line x1="87.00" y1="183.00" x2="87.00" y2="195.00" stroke="#0000cc" stroke-width="1.0"/>
<polygon points="87.0,186.1 87.8,187.8 89.7,188.1 88.4,189.4 88.7,191.3 87.0,190.4 85.3,191.3 85.6,189.4 84.3,188.1 86.2,187.8" fill="#0000cc" stroke="#0000cc" stroke-width="0.8" stroke-linejoin="round"/>
<line x1="87.00" y1="189.00" x2="87.00" y2="199.00" stroke="#0000cc" stroke-width="1.0"/>
<polygon points="87.0,191.1 87.8,192.8 89.7,193.1 88.4,194.4 88.7,196.3 87.0,195.4 85.3,196.3 85.6,194.4 84.3,193.1 86.2,192.8" fill="#0000cc" stroke="#0000cc" stroke-width="0.8" stroke-linejoin="round"/>
<line x1="87.00" y1="194.00" x2="87.00" y2="206.00" stroke="#0000cc" stroke-width="1.0"/>
<polygon points="87.0,197.1 87.8,198.8 89.7,199.1 88.4,200.4 88.7,202.3 87.0,201.4 85.3,202.3 85.6,200.4 84.3,199.1 86.2,198.8" fill="#0000cc" stroke="#0000cc" stroke-width="0.8" stroke-linejoin="round"/>
<line x1="87.00" y1="199.00" x2="87.00" y2="213.00" stroke="#0000cc" stroke-width="1.0"/>
<polygon points="87.0,203.1 87.8,204.8 89.7,205.1 88.4,206.4 88.7,208.3 87.0,207.4 85.3,208.3 85.6,206.4 84.3,205.1 86.2,204.8" fill="#0000cc" stroke="#0000cc" stroke-width="0.8" stroke-linejoin="round"/>
<line x1="87.00" y1="201.00" x2="87.00" y2="219.00" stroke="#0000cc" stroke-width="1.0"/>
<polygon points="87.0,207.1 87.8,208.8 89.7,209.1 88.4,210.4 88.7,212.3 87.0,211.4 85.3,212.3 85.6,210.4 84.3,209.1 86.2,208.8" fill="#0000cc" stroke="#0000cc" stroke-width="0.8" stroke-linejoin="round"/>
<line x1="90.00" y1="178.00" x2="90.00" y2="186.00" stroke="#0000cc" stroke-width="1.0"/>
<polygon points="90.0,179.1 90.8,180.8 92.7,181.1 91.4,182.4 91.7,184.3 90.0,183.4 88.3,184.3 88.6,182.4 87.3,181.1 89.2,180.8" fill="#0000cc" stroke="#0000cc" stroke-width="0.8" stroke-linejoin="round"/>
<line x1="90.00" y1="181.00" x2="90.00" y2="191.00" stroke="#0000cc" stroke-width="1.0"/>
<polygon points="90.0,183.1 90.8,184.8 92.7,185.1 91.4,186.4 91.7,188.3 90.0,187.4 88.3,188.3 88.6,186.4 87.3,185.1 89.2,184.8" fill="#0000cc" stroke="#0000cc" stroke-width="0.8" stroke-linejoin="round"/>
<line x1="90.00" y1="185.00" x2="90.00" y2="195.00" stroke="#0000cc" stroke-width="1.0"/>
<polygon points="90.0,187.1 90.8,188.8 92.7,189.1 91.4,190.4 91.7,192.3 90.0,191.4 88.3,192.3 88.6,190.4 87.3,189.1 89.2,188.8" fill="#0000cc" stroke="#0000cc" stroke-width="0.8" stroke-linejoin="round"/>
<line x1="90.00" y1="190.00" x2="90.00" y2="202.00" stroke="#0000cc" stroke-width="1.0"/>
<polygon points="90.0,193.1 90.8,194.8 92.7,195.1 91.4,196.4 91.7,198.3 90.0,197.4 88.3,198.3 88.6,196.4 87.3,195.1 89.2,194.8" fill="#0000cc" stroke="#0000cc" stroke-width="0.8" stroke-linejoin="round"/>
<line x1="92.50" y1="179.00" x2="92.50" y2="187.00" stroke="#0000cc" stroke-width="1.0"/>
<polygon points="92.5,180.1 93.3,181.8 95.2,182.1 93.9,183.4 94.2,185.3 92.5,184.4 90.8,185.3 91.1,183.4 89.8,182.1 91.7,181.8" fill="#0000cc" stroke="#0000cc" stroke-width="0.8" stroke-linejoin="round"/>
<line x1="92.50" y1="184.00" x2="92.50" y2="192.00" stroke="#0000cc" stroke-width="1.0"/>
<polygon points="92.5,185.1 93.3,186.8 95.2,187.1 93.9,188.4 94.2,190.3 92.5,189.4 90.8,190.3 91.1,188.4 89.8,187.1 91.7,186.8" fill="#0000cc" stroke="#0000cc" stroke-width="0.8" stroke-linejoin="round"/>
<line x1="92.50" y1="188.00" x2="92.50" y2="196.00" stroke="#0000cc" stroke-width="1.0"/>
<polygon points="92.5,189.1 93.3,190.8 95.2,191.1 93.9,192.4 94.2,194.3 92.5,193.4 90.8,194.3 91.1,192.4 89.8,191.1 91.7,190.8" fill="#0000cc" stroke="#0000cc" stroke-width="0.8" stroke-linejoin="round"/>
<line x1="112.80" y1="191.00" x2="112.80" y2="195.00" stroke="#0000cc" stroke-width="1.0"/>
<polygon points="112.8,190.1 113.6,191.8 115.5,192.1 114.2,193.4 114.5,195.3 112.8,194.4 111.1,195.3 111.4,193.4 110.1,192.1 112.0,191.8" fill="#0000cc" stroke="#0000cc" stroke-width="0.8" stroke-linejoin="round"/>
<line x1="112.80" y1="192.00" x2="112.80" y2="198.00" stroke="#0000cc" stroke-width="1.0"/>
<polygon points="112.8,192.1 113.6,193.8 115.5,194.1 114.2,195.4 114.5,197.3 112.8,196.4 111.1,197.3 111.4,195.4 110.1,194.1 112.0,193.8" fill="#0000cc" stroke="#0000cc" stroke-width="0.8" stroke-linejoin="round"/>
<line x1="112.80" y1="196.00" x2="112.80" y2="200.00" stroke="#0000cc" stroke-width="1.0"/>
<polygon points="112.8,195.1 113.6,196.8 115.5,197.1 114.2,198.4 114.5,200.3 112.8,199.4 111.1,200.3 111.4,198.4 110.1,197.1 112.0,196.8" fill="#0000cc" stroke="#0000cc" stroke-width="0.8" stroke-linejoin="round"/>
<line x1="123.60" y1="199.00" x2="123.60" y2="203.00" stroke="#0000cc" stroke-width="1.0"/>
<polygon points="123.6,198.1 124.4,199.8 126.3,200.1 125.0,201.4 125.3,203.3 123.6,202.4 121.9,203.3 122.2,201.4 120.9,200.1 122.8,199.8" fill="#0000cc" stroke="#0000cc" stroke-width="0.8" stroke-linejoin="round"/>
<line x1="123.60" y1="201.00" x2="123.60" y2="205.00" stroke="#0000cc" stroke-width="1.0"/>
<polygon points="123.6,200.1 124.4,201.8 126.3,202.1 125.0,203.4 125.3,205.3 123.6,204.4 121.9,205.3 122.2,203.4 120.9,202.1 122.8,201.8" fill="#0000cc" stroke="#0000cc" stroke-width="0.8" stroke-linejoin="round"/>
<line x1="140.30" y1="203.00" x2="140.30" y2="207.00" stroke="#0000cc" stroke-width="1.0"/>
<polygon points="140.3,202.1 141.1,203.8 143.0,204.1 141.7,205.4 142.0,207.3 140.3,206.4 138.6,207.3 138.9,205.4 137.6,204.1 139.5,203.8" fill="#0000cc" stroke="#0000cc" stroke-width="0.8" stroke-linejoin="round"/>
<line x1="140.30" y1="205.00" x2="140.30" y2="209.00" stroke="#0000cc" stroke-width="1.0"/>
<polygon points="140.3,204.1 141.1,205.8 143.0,206.1 141.7,207.4 142.0,209.3 140.3,208.4 138.6,209.3 138.9,207.4 137.6,206.1 139.5,205.8" fill="#0000cc" stroke="#0000cc" stroke-width="0.8" stroke-linejoin="round"/>
<line x1="140.30" y1="207.00" x2="140.30" y2="211.00" stroke="#0000cc" stroke-width="1.0"/>
<polygon points="140.3,206.1 141.1,207.8 143.0,208.1 141.7,209.4 142.0,211.3 140.3,210.4 138.6,211.3 138.9,209.4 137.6,208.1 139.5,207.8" fill="#0000cc" stroke="#0000cc" stroke-width="0.8" stroke-linejoin="round"/>
<line x1="155.00" y1="211.00" x2="155.00" y2="215.00" stroke="#0000cc" stroke-width="1.0"/>
<polygon points="155.0,210.1 155.8,211.8 157.7,212.1 156.4,213.4 156.7,215.3 155.0,214.4 153.3,215.3 153.6,213.4 152.3,212.1 154.2,211.8" fill="#0000cc" stroke="#0000cc" stroke-width="0.8" stroke-linejoin="round"/>
<line x1="165.80" y1="214.50" x2="165.80" y2="217.50" stroke="#0000cc" stroke-width="1.0"/>
<polygon points="165.8,213.1 166.6,214.8 168.5,215.1 167.2,216.4 167.5,218.3 165.8,217.4 164.1,218.3 164.4,216.4 163.1,215.1 165.0,214.8" fill="#0000cc" stroke="#0000cc" stroke-width="0.8" stroke-linejoin="round"/>
<line x1="190.00" y1="217.00" x2="190.00" y2="221.00" stroke="#0000cc" stroke-width="1.0"/>
<polygon points="190.0,216.1 190.8,217.8 192.7,218.1 191.4,219.4 191.7,221.3 190.0,220.4 188.3,221.3 188.6,219.4 187.3,218.1 189.2,217.8" fill="#0000cc" stroke="#0000cc" stroke-width="0.8" stroke-linejoin="round"/>
<line x1="190.00" y1="219.00" x2="190.00" y2="223.00" stroke="#0000cc" stroke-width="1.0"/>
<polygon points="190.0,218.1 190.8,219.8 192.7,220.1 191.4,221.4 191.7,223.3 190.0,222.4 188.3,223.3 188.6,221.4 187.3,220.1 189.2,219.8" fill="#0000cc" stroke="#0000cc" stroke-width="0.8" stroke-linejoin="round"/>
<line x1="206.00" y1="221.50" x2="206.00" y2="224.50" stroke="#0000cc" stroke-width="1.0"/>
<polygon points="206.0,220.1 206.8,221.8 208.7,222.1 207.4,223.4 207.7,225.3 206.0,224.4 204.3,225.3 204.6,223.4 203.3,222.1 205.2,221.8" fill="#0000cc" stroke="#0000cc" stroke-width="0.8" stroke-linejoin="round"/>
<line x1="215.00" y1="222.50" x2="215.00" y2="225.50" stroke="#0000cc" stroke-width="1.0"/>
<polygon points="215.0,221.1 215.8,222.8 217.7,223.1 216.4,224.4 216.7,226.3 215.0,225.4 213.3,226.3 213.6,224.4 212.3,223.1 214.2,222.8" fill="#0000cc" stroke="#0000cc" stroke-width="0.8" stroke-linejoin="round"/>
<line x1="215.00" y1="224.50" x2="215.00" y2="227.50" stroke="#0000cc" stroke-width="1.0"/>
<polygon points="215.0,223.1 215.8,224.8 217.7,225.1 216.4,226.4 216.7,228.3 215.0,227.4 213.3,228.3 213.6,226.4 212.3,225.1 214.2,224.8" fill="#0000cc" stroke="#0000cc" stroke-width="0.8" stroke-linejoin="round"/>
<line x1="223.00" y1="225.50" x2="223.00" y2="228.50" stroke="#0000cc" stroke-width="1.0"/>
<polygon points="223.0,224.1 223.8,225.8 225.7,226.1 224.4,227.4 224.7,229.3 223.0,228.4 221.3,229.3 221.6,227.4 220.3,226.1 222.2,225.8" fill="#0000cc" stroke="#0000cc" stroke-width="0.8" stroke-linejoin="round"/>
<line x1="238.60" y1="228.00" x2="238.60" y2="231.00" stroke="#0000cc" stroke-width="1.0"/>
<polygon points="238.6,226.6 239.4,228.3 241.3,228.6 240.0,229.9 240.3,231.8 238.6,230.9 236.9,231.8 237.2,229.9 235.9,228.6 237.8,228.3" fill="#0000cc" stroke="#0000cc" stroke-width="0.8" stroke-linejoin="round"/>
<line x1="238.60" y1="229.50" x2="238.60" y2="232.50" stroke="#0000cc" stroke-width="1.0"/>
<polygon points="238.6,228.1 239.4,229.8 241.3,230.1 240.0,231.4 240.3,233.3 238.6,232.4 236.9,233.3 237.2,231.4 235.9,230.1 237.8,229.8" fill="#0000cc" stroke="#0000cc" stroke-width="0.8" stroke-linejoin="round"/>
<line x1="259.00" y1="230.50" x2="259.00" y2="233.50" stroke="#0000cc" stroke-width="1.0"/>
<polygon points="259.0,229.1 259.8,230.8 261.7,231.1 260.4,232.4 260.7,234.3 259.0,233.4 257.3,234.3 257.6,232.4 256.3,231.1 258.2,230.8" fill="#0000cc" stroke="#0000cc" stroke-width="0.8" stroke-linejoin="round"/>
<line x1="259.00" y1="231.50" x2="259.00" y2="234.50" stroke="#0000cc" stroke-width="1.0"/>
<polygon points="259.0,230.1 259.8,231.8 261.7,232.1 260.4,233.4 260.7,235.3 259.0,234.4 257.3,235.3 257.6,233.4 256.3,232.1 258.2,231.8" fill="#0000cc" stroke="#0000cc" stroke-width="0.8" stroke-linejoin="round"/>
<polygon points="58.90,176.04 64.10,176.04 61.50,180.20" fill="#0000cc" stroke="#0000cc" stroke-width="0.8" stroke-linejoin="round"/>
<line x1="88.10" y1="205.00" x2="88.10" y2="217.00" stroke="#ff0000" stroke-width="1.0"/>
<circle cx="88.10" cy="211.00" r="1.60" fill="#ff0000"/>
<line x1="92.20" y1="195.00" x2="92.20" y2="213.00" stroke="#ff0000" stroke-width="1.0"/>
<circle cx="92.20" cy="204.00" r="1.60" fill="#ff0000"/>
<line x1="140.30" y1="210.00" x2="140.30" y2="218.00" stroke="#ff0000" stroke-width="1.0"/>
<circle cx="140.30" cy="214.00" r="1.60" fill="#ff0000"/>
<line x1="155.00" y1="214.00" x2="155.00" y2="220.00" stroke="#ff0000" stroke-width="1.0"/>
<circle cx="155.00" cy="217.00" r="1.60" fill="#ff0000"/>
<line x1="165.80" y1="217.00" x2="165.80" y2="221.00" stroke="#ff0000" stroke-width="1.0"/>
<circle cx="165.80" cy="219.00" r="1.60" fill="#ff0000"/>
<line x1="190.00" y1="221.00" x2="190.00" y2="227.00" stroke="#ff0000" stroke-width="1.0"/>
<circle cx="190.00" cy="224.00" r="1.60" fill="#ff0000"/>
<line x1="206.00" y1="226.50" x2="206.00" y2="230.50" stroke="#ff0000" stroke-width="1.0"/>
<circle cx="206.00" cy="228.50" r="1.60" fill="#ff0000"/>
<line x1="215.00" y1="229.00" x2="215.00" y2="233.00" stroke="#ff0000" stroke-width="1.0"/>
<circle cx="215.00" cy="231.00" r="1.60" fill="#ff0000"/>
<line x1="223.00" y1="230.50" x2="223.00" y2="234.50" stroke="#ff0000" stroke-width="1.0"/>
<circle cx="223.00" cy="232.50" r="1.60" fill="#ff0000"/>
<line x1="238.60" y1="233.50" x2="238.60" y2="237.50" stroke="#ff0000" stroke-width="1.0"/>
<circle cx="238.60" cy="235.50" r="1.60" fill="#ff0000"/>
<line x1="259.00" y1="237.50" x2="259.00" y2="240.50" stroke="#ff0000" stroke-width="1.0"/>
<circle cx="259.00" cy="239.00" r="1.60" fill="#ff0000"/>
<line x1="261.70" y1="238.80" x2="261.70" y2="240.80" stroke="#ff0000" stroke-width="1.0"/>
<circle cx="261.70" cy="239.80" r="1.60" fill="#ff0000"/>
<line x1="87.00" y1="205.00" x2="87.00" y2="222.80" stroke="#0000cc" stroke-width="1.0"/>
<polygon points="84.40,208.44 89.60,208.44 87.00,212.60" fill="#0000cc" stroke="#0000cc" stroke-width="0.8" stroke-linejoin="round"/>
<path d="M88.1,207.4 C90.1,207.3 96.3,207.1 100.0,207.1 C103.7,207.1 106.7,207.4 110.0,207.7 C113.3,208.0 116.7,208.3 120.0,208.8 C123.3,209.3 126.7,210.0 130.0,210.6 C133.3,211.2 136.7,211.9 140.0,212.6 C143.3,213.3 146.0,214.0 150.0,214.9 C154.0,215.8 159.0,216.9 164.0,218.1 C169.0,219.3 175.7,220.9 180.0,222.0 C184.3,223.1 186.7,223.7 190.0,224.5 C193.3,225.3 197.0,226.1 200.0,226.8 C203.0,227.5 203.8,227.8 208.2,228.8 C212.6,229.8 220.2,231.6 226.3,232.8 C232.4,234.1 238.6,235.2 244.5,236.3 C250.4,237.4 258.8,239.0 261.7,239.5" fill="none" stroke="#ff0000" stroke-width="2.0" stroke-linejoin="round" stroke-linecap="butt"/>
<path d="M61.3,181.1 C65.7,182.8 81.0,188.6 87.5,191.3 C94.0,194.0 94.7,195.2 100.0,197.3 C105.3,199.4 114.6,202.0 119.6,203.6 C124.6,205.2 126.7,205.9 130.0,206.9 C133.3,207.9 136.0,208.6 139.3,209.5 C142.6,210.4 145.9,211.6 150.0,212.6 C154.1,213.6 159.2,214.5 164.0,215.6 C168.8,216.7 174.3,218.4 178.6,219.3 C182.9,220.2 186.4,220.6 190.0,221.3 C193.6,222.1 197.0,223.1 200.0,223.8 C203.0,224.5 203.8,224.9 208.2,225.7 C212.6,226.5 220.2,227.7 226.3,228.6 C232.4,229.5 238.8,230.6 244.5,231.3 C250.2,232.0 258.1,232.6 260.8,232.8" fill="none" stroke="#0000cc" stroke-width="2.0" stroke-linejoin="round" stroke-linecap="butt"/>
</g>
<g clip-path="url(#c03)">
<line x1="61.50" y1="256.50" x2="61.50" y2="259.50" stroke="#0000cc" stroke-width="1.0"/>
<polygon points="61.5,255.0 62.4,256.8 64.3,257.1 62.9,258.5 63.3,260.4 61.5,259.5 59.7,260.4 60.1,258.5 58.7,257.1 60.6,256.8" fill="#0000cc" stroke="#0000cc" stroke-width="0.8" stroke-linejoin="round"/>
<line x1="61.50" y1="258.50" x2="61.50" y2="261.50" stroke="#0000cc" stroke-width="1.0"/>
<polygon points="61.5,257.0 62.4,258.8 64.3,259.1 62.9,260.5 63.3,262.4 61.5,261.5 59.7,262.4 60.1,260.5 58.7,259.1 60.6,258.8" fill="#0000cc" stroke="#0000cc" stroke-width="0.8" stroke-linejoin="round"/>
<line x1="61.50" y1="260.50" x2="61.50" y2="263.50" stroke="#0000cc" stroke-width="1.0"/>
<polygon points="61.5,259.0 62.4,260.8 64.3,261.1 62.9,262.5 63.3,264.4 61.5,263.5 59.7,264.4 60.1,262.5 58.7,261.1 60.6,260.8" fill="#0000cc" stroke="#0000cc" stroke-width="0.8" stroke-linejoin="round"/>
<line x1="61.50" y1="262.50" x2="61.50" y2="265.50" stroke="#0000cc" stroke-width="1.0"/>
<polygon points="61.5,261.0 62.4,262.8 64.3,263.1 62.9,264.5 63.3,266.4 61.5,265.5 59.7,266.4 60.1,264.5 58.7,263.1 60.6,262.8" fill="#0000cc" stroke="#0000cc" stroke-width="0.8" stroke-linejoin="round"/>
<line x1="86.50" y1="256.50" x2="86.50" y2="259.50" stroke="#0000cc" stroke-width="1.0"/>
<polygon points="86.5,255.0 87.4,256.8 89.3,257.1 87.9,258.5 88.3,260.4 86.5,259.5 84.7,260.4 85.1,258.5 83.7,257.1 85.6,256.8" fill="#0000cc" stroke="#0000cc" stroke-width="0.8" stroke-linejoin="round"/>
<line x1="86.50" y1="258.50" x2="86.50" y2="261.50" stroke="#0000cc" stroke-width="1.0"/>
<polygon points="86.5,257.0 87.4,258.8 89.3,259.1 87.9,260.5 88.3,262.4 86.5,261.5 84.7,262.4 85.1,260.5 83.7,259.1 85.6,258.8" fill="#0000cc" stroke="#0000cc" stroke-width="0.8" stroke-linejoin="round"/>
<line x1="86.50" y1="260.50" x2="86.50" y2="263.50" stroke="#0000cc" stroke-width="1.0"/>
<polygon points="86.5,259.0 87.4,260.8 89.3,261.1 87.9,262.5 88.3,264.4 86.5,263.5 84.7,264.4 85.1,262.5 83.7,261.1 85.6,260.8" fill="#0000cc" stroke="#0000cc" stroke-width="0.8" stroke-linejoin="round"/>
<line x1="86.50" y1="262.50" x2="86.50" y2="265.50" stroke="#0000cc" stroke-width="1.0"/>
<polygon points="86.5,261.0 87.4,262.8 89.3,263.1 87.9,264.5 88.3,266.4 86.5,265.5 84.7,266.4 85.1,264.5 83.7,263.1 85.6,262.8" fill="#0000cc" stroke="#0000cc" stroke-width="0.8" stroke-linejoin="round"/>
<line x1="86.50" y1="264.50" x2="86.50" y2="267.50" stroke="#0000cc" stroke-width="1.0"/>
<polygon points="86.5,263.0 87.4,264.8 89.3,265.1 87.9,266.5 88.3,268.4 86.5,267.5 84.7,268.4 85.1,266.5 83.7,265.1 85.6,264.8" fill="#0000cc" stroke="#0000cc" stroke-width="0.8" stroke-linejoin="round"/>
<line x1="89.50" y1="258.50" x2="89.50" y2="261.50" stroke="#0000cc" stroke-width="1.0"/>
<polygon points="89.5,257.0 90.4,258.8 92.3,259.1 90.9,260.5 91.3,262.4 89.5,261.5 87.7,262.4 88.1,260.5 86.7,259.1 88.6,258.8" fill="#0000cc" stroke="#0000cc" stroke-width="0.8" stroke-linejoin="round"/>
<line x1="89.50" y1="261.50" x2="89.50" y2="264.50" stroke="#0000cc" stroke-width="1.0"/>
<polygon points="89.5,260.0 90.4,261.8 92.3,262.1 90.9,263.5 91.3,265.4 89.5,264.5 87.7,265.4 88.1,263.5 86.7,262.1 88.6,261.8" fill="#0000cc" stroke="#0000cc" stroke-width="0.8" stroke-linejoin="round"/>
<line x1="89.50" y1="264.50" x2="89.50" y2="267.50" stroke="#0000cc" stroke-width="1.0"/>
<polygon points="89.5,263.0 90.4,264.8 92.3,265.1 90.9,266.5 91.3,268.4 89.5,267.5 87.7,268.4 88.1,266.5 86.7,265.1 88.6,264.8" fill="#0000cc" stroke="#0000cc" stroke-width="0.8" stroke-linejoin="round"/>
<line x1="92.00" y1="260.50" x2="92.00" y2="263.50" stroke="#0000cc" stroke-width="1.0"/>
<polygon points="92.0,259.0 92.9,260.8 94.8,261.1 93.4,262.5 93.8,264.4 92.0,263.5 90.2,264.4 90.6,262.5 89.2,261.1 91.1,260.8" fill="#0000cc" stroke="#0000cc" stroke-width="0.8" stroke-linejoin="round"/>
<line x1="92.00" y1="265.50" x2="92.00" y2="268.50" stroke="#0000cc" stroke-width="1.0"/>
<polygon points="92.0,264.0 92.9,265.8 94.8,266.1 93.4,267.5 93.8,269.4 92.0,268.5 90.2,269.4 90.6,267.5 89.2,266.1 91.1,265.8" fill="#0000cc" stroke="#0000cc" stroke-width="0.8" stroke-linejoin="round"/>
<line x1="113.20" y1="262.50" x2="113.20" y2="265.50" stroke="#0000cc" stroke-width="1.0"/>
<polygon points="113.2,261.0 114.1,262.8 116.0,263.1 114.6,264.5 115.0,266.4 113.2,265.5 111.4,266.4 111.8,264.5 110.4,263.1 112.3,262.8" fill="#0000cc" stroke="#0000cc" stroke-width="0.8" stroke-linejoin="round"/>
<line x1="123.70" y1="261.80" x2="123.70" y2="264.80" stroke="#0000cc" stroke-width="1.0"/>
<polygon points="123.7,260.3 124.6,262.1 126.5,262.4 125.1,263.8 125.5,265.7 123.7,264.8 121.9,265.7 122.3,263.8 120.9,262.4 122.8,262.1" fill="#0000cc" stroke="#0000cc" stroke-width="0.8" stroke-linejoin="round"/>
<line x1="138.30" y1="264.50" x2="138.30" y2="267.50" stroke="#0000cc" stroke-width="1.0"/>
<polygon points="138.3,263.0 139.2,264.8 141.1,265.1 139.7,266.5 140.1,268.4 138.3,267.5 136.5,268.4 136.9,266.5 135.5,265.1 137.4,264.8" fill="#0000cc" stroke="#0000cc" stroke-width="0.8" stroke-linejoin="round"/>
<line x1="138.30" y1="268.50" x2="138.30" y2="271.50" stroke="#0000cc" stroke-width="1.0"/>
<polygon points="138.3,267.0 139.2,268.8 141.1,269.1 139.7,270.5 140.1,272.4 138.3,271.5 136.5,272.4 136.9,270.5 135.5,269.1 137.4,268.8" fill="#0000cc" stroke="#0000cc" stroke-width="0.8" stroke-linejoin="round"/>
<line x1="140.00" y1="267.50" x2="140.00" y2="270.50" stroke="#0000cc" stroke-width="1.0"/>
<polygon points="140.0,266.0 140.9,267.8 142.8,268.1 141.4,269.5 141.8,271.4 140.0,270.5 138.2,271.4 138.6,269.5 137.2,268.1 139.1,267.8" fill="#0000cc" stroke="#0000cc" stroke-width="0.8" stroke-linejoin="round"/>
<line x1="154.30" y1="266.10" x2="154.30" y2="269.10" stroke="#0000cc" stroke-width="1.0"/>
<polygon points="154.3,264.6 155.2,266.4 157.1,266.7 155.7,268.1 156.1,270.0 154.3,269.1 152.5,270.0 152.9,268.1 151.5,266.7 153.4,266.4" fill="#0000cc" stroke="#0000cc" stroke-width="0.8" stroke-linejoin="round"/>
<line x1="165.60" y1="275.40" x2="165.60" y2="278.40" stroke="#0000cc" stroke-width="1.0"/>
<polygon points="165.6,273.9 166.5,275.7 168.4,276.0 167.0,277.4 167.4,279.3 165.6,278.4 163.8,279.3 164.2,277.4 162.8,276.0 164.7,275.7" fill="#0000cc" stroke="#0000cc" stroke-width="0.8" stroke-linejoin="round"/>
<line x1="188.10" y1="276.30" x2="188.10" y2="279.30" stroke="#0000cc" stroke-width="1.0"/>
<polygon points="188.1,274.8 189.0,276.6 190.9,276.9 189.5,278.3 189.9,280.2 188.1,279.3 186.3,280.2 186.7,278.3 185.3,276.9 187.2,276.6" fill="#0000cc" stroke="#0000cc" stroke-width="0.8" stroke-linejoin="round"/>
<line x1="190.30" y1="281.30" x2="190.30" y2="284.30" stroke="#0000cc" stroke-width="1.0"/>
<polygon points="190.3,279.8 191.2,281.6 193.1,281.9 191.7,283.3 192.1,285.2 190.3,284.3 188.5,285.2 188.9,283.3 187.5,281.9 189.4,281.6" fill="#0000cc" stroke="#0000cc" stroke-width="0.8" stroke-linejoin="round"/>
<line x1="205.40" y1="280.50" x2="205.40" y2="283.50" stroke="#0000cc" stroke-width="1.0"/>
<polygon points="205.4,279.0 206.3,280.8 208.2,281.1 206.8,282.5 207.2,284.4 205.4,283.5 203.6,284.4 204.0,282.5 202.6,281.1 204.5,280.8" fill="#0000cc" stroke="#0000cc" stroke-width="0.8" stroke-linejoin="round"/>
<line x1="215.00" y1="287.20" x2="215.00" y2="290.20" stroke="#0000cc" stroke-width="1.0"/>
<polygon points="215.0,285.7 215.9,287.5 217.8,287.8 216.4,289.2 216.8,291.1 215.0,290.2 213.2,291.1 213.6,289.2 212.2,287.8 214.1,287.5" fill="#0000cc" stroke="#0000cc" stroke-width="0.8" stroke-linejoin="round"/>
<line x1="222.60" y1="285.20" x2="222.60" y2="288.20" stroke="#0000cc" stroke-width="1.0"/>
<polygon points="222.6,283.7 223.5,285.5 225.4,285.8 224.0,287.2 224.4,289.1 222.6,288.2 220.8,289.1 221.2,287.2 219.8,285.8 221.7,285.5" fill="#0000cc" stroke="#0000cc" stroke-width="0.8" stroke-linejoin="round"/>
<line x1="237.80" y1="292.60" x2="237.80" y2="295.60" stroke="#0000cc" stroke-width="1.0"/>
<polygon points="237.8,291.1 238.7,292.9 240.6,293.2 239.2,294.6 239.6,296.5 237.8,295.6 236.0,296.5 236.4,294.6 235.0,293.2 236.9,292.9" fill="#0000cc" stroke="#0000cc" stroke-width="0.8" stroke-linejoin="round"/>
<line x1="239.40" y1="290.50" x2="239.40" y2="293.50" stroke="#0000cc" stroke-width="1.0"/>
<polygon points="239.4,289.0 240.3,290.8 242.2,291.1 240.8,292.5 241.2,294.4 239.4,293.5 237.6,294.4 238.0,292.5 236.6,291.1 238.5,290.8" fill="#0000cc" stroke="#0000cc" stroke-width="0.8" stroke-linejoin="round"/>
<line x1="257.40" y1="294.60" x2="257.40" y2="297.60" stroke="#0000cc" stroke-width="1.0"/>
<polygon points="257.4,293.1 258.3,294.9 260.2,295.2 258.8,296.6 259.2,298.5 257.4,297.6 255.6,298.5 256.0,296.6 254.6,295.2 256.5,294.9" fill="#0000cc" stroke="#0000cc" stroke-width="0.8" stroke-linejoin="round"/>
<line x1="259.60" y1="300.80" x2="259.60" y2="303.80" stroke="#0000cc" stroke-width="1.0"/>
<polygon points="259.6,299.3 260.5,301.1 262.4,301.4 261.0,302.8 261.4,304.7 259.6,303.8 257.8,304.7 258.2,302.8 256.8,301.4 258.7,301.1" fill="#0000cc" stroke="#0000cc" stroke-width="0.8" stroke-linejoin="round"/>
<line x1="88.10" y1="272.00" x2="88.10" y2="278.00" stroke="#ff0000" stroke-width="1.0"/>
<circle cx="88.10" cy="275.00" r="1.60" fill="#ff0000"/>
<line x1="92.10" y1="273.00" x2="92.10" y2="279.00" stroke="#ff0000" stroke-width="1.0"/>
<circle cx="92.10" cy="276.00" r="1.60" fill="#ff0000"/>
<circle cx="155.20" cy="271.50" r="1.60" fill="#ff0000"/>
<circle cx="190.60" cy="293.40" r="1.60" fill="#ff0000"/>
<circle cx="205.80" cy="286.70" r="1.60" fill="#ff0000"/>
<circle cx="215.50" cy="299.20" r="1.60" fill="#ff0000"/>
<circle cx="222.60" cy="295.80" r="1.60" fill="#ff0000"/>
<circle cx="238.60" cy="304.20" r="1.60" fill="#ff0000"/>
<circle cx="239.40" cy="304.50" r="1.60" fill="#ff0000"/>
<circle cx="257.40" cy="303.30" r="1.60" fill="#ff0000"/>
<circle cx="260.90" cy="312.90" r="1.60" fill="#ff0000"/>
<path d="M88.1,276.3 C88.9,276.0 91.2,275.4 93.0,274.7 C94.8,274.0 96.3,273.2 98.6,272.3 C100.9,271.4 104.0,270.2 106.7,269.5 C109.4,268.8 112.1,268.3 114.8,267.9 C117.5,267.5 120.3,267.3 123.0,267.1 C125.7,266.9 128.3,266.8 131.0,266.9 C133.7,266.9 135.9,267.0 139.1,267.4 C142.3,267.8 147.0,268.3 150.0,269.0 C153.0,269.7 153.0,270.3 156.9,271.5 C160.8,272.7 168.1,274.4 173.7,276.1 C179.3,277.9 185.0,279.9 190.6,282.0 C196.2,284.1 202.3,286.2 207.5,288.4 C212.7,290.6 216.6,292.8 222.0,295.4 C227.4,298.0 233.5,301.3 240.0,303.8 C246.5,306.3 257.4,309.3 260.9,310.4" fill="none" stroke="#ff0000" stroke-width="2.0" stroke-linejoin="round" stroke-linecap="butt"/>
<path d="M61.3,262.2 C65.6,262.1 78.4,261.2 87.3,261.4 C96.2,261.6 107.5,262.7 114.8,263.3 C122.1,263.9 126.8,264.3 131.0,265.0 C135.2,265.7 135.7,266.6 140.0,267.6 C144.3,268.6 151.3,269.7 156.9,271.0 C162.5,272.3 168.1,273.8 173.7,275.2 C179.3,276.6 185.0,278.1 190.6,279.5 C196.2,280.9 202.3,282.2 207.5,283.7 C212.7,285.1 216.8,286.6 222.0,288.2 C227.2,289.8 232.1,291.4 238.5,293.4 C244.9,295.4 256.8,298.9 260.4,300.0" fill="none" stroke="#0000cc" stroke-width="2.0" stroke-linejoin="round" stroke-linecap="butt"/>
</g>
<g clip-path="url(#c10)">
<line x1="616.5" y1="0" x2="616.5" y2="400" stroke="#000040" stroke-width="1"/>
<line x1="605.5" y1="0" x2="605.5" y2="400" stroke="#000" stroke-width="1"/>
<line x1="607.5" y1="0" x2="607.5" y2="400" stroke="#444" stroke-width="1"/>
<line x1="609.5" y1="0" x2="609.5" y2="400" stroke="#666" stroke-width="1"/>
<line x1="612.5" y1="0" x2="612.5" y2="400" stroke="#777" stroke-width="1"/>
<line x1="613.5" y1="0" x2="613.5" y2="400" stroke="#999" stroke-width="1"/>
<line x1="614.5" y1="0" x2="614.5" y2="400" stroke="#ff8090" stroke-width="1"/>
<line x1="615.5" y1="0" x2="615.5" y2="400" stroke="#d00030" stroke-width="1"/>
<line x1="406.74" y1="39.97" x2="406.74" y2="43.15" stroke="#0000cc" stroke-width="1.0"/>
<polygon points="406.7,39.6 407.3,40.8 408.6,41.0 407.7,41.9 407.9,43.1 406.7,42.5 405.6,43.1 405.8,41.9 404.9,41.0 406.2,40.8" fill="#0000cc" stroke="#0000cc" stroke-width="0.8" stroke-linejoin="round"/>
<line x1="412.00" y1="41.83" x2="412.00" y2="45.12" stroke="#0000cc" stroke-width="1.0"/>
<polygon points="412.0,41.5 412.6,42.7 413.9,42.9 412.9,43.8 413.1,45.1 412.0,44.5 410.8,45.1 411.1,43.8 410.1,42.9 411.4,42.7" fill="#0000cc" stroke="#0000cc" stroke-width="0.8" stroke-linejoin="round"/>
<line x1="414.55" y1="43.00" x2="414.55" y2="45.15" stroke="#0000cc" stroke-width="1.0"/>
<polygon points="414.6,42.1 415.1,43.3 416.4,43.5 415.5,44.4 415.7,45.7 414.6,45.1 413.4,45.7 413.6,44.4 412.7,43.5 414.0,43.3" fill="#0000cc" stroke="#0000cc" stroke-width="0.8" stroke-linejoin="round"/>
<line x1="418.20" y1="43.03" x2="418.20" y2="47.83" stroke="#0000cc" stroke-width="1.0"/>
<polygon points="418.2,43.5 418.8,44.6 420.1,44.8 419.1,45.7 419.4,47.0 418.2,46.4 417.1,47.0 417.3,45.7 416.3,44.8 417.6,44.6" fill="#0000cc" stroke="#0000cc" stroke-width="0.8" stroke-linejoin="round"/>
<line x1="422.50" y1="43.42" x2="422.50" y2="46.21" stroke="#0000cc" stroke-width="1.0"/>
<polygon points="422.5,42.9 423.1,44.0 424.4,44.2 423.4,45.1 423.6,46.4 422.5,45.8 421.3,46.4 421.6,45.1 420.6,44.2 421.9,44.0" fill="#0000cc" stroke="#0000cc" stroke-width="0.8" stroke-linejoin="round"/>
<line x1="427.02" y1="43.98" x2="427.02" y2="48.85" stroke="#0000cc" stroke-width="1.0"/>
<polygon points="427.0,44.5 427.6,45.6 428.9,45.8 428.0,46.7 428.2,48.0 427.0,47.4 425.9,48.0 426.1,46.7 425.2,45.8 426.4,45.6" fill="#0000cc" stroke="#0000cc" stroke-width="0.8" stroke-linejoin="round"/>
<line x1="431.77" y1="45.30" x2="431.77" y2="49.74" stroke="#0000cc" stroke-width="1.0"/>
<polygon points="431.8,45.6 432.3,46.7 433.6,46.9 432.7,47.8 432.9,49.1 431.8,48.5 430.6,49.1 430.8,47.8 429.9,46.9 431.2,46.7" fill="#0000cc" stroke="#0000cc" stroke-width="0.8" stroke-linejoin="round"/>
<line x1="435.26" y1="47.25" x2="435.26" y2="50.90" stroke="#0000cc" stroke-width="1.0"/>
<polygon points="435.3,47.1 435.8,48.3 437.1,48.5 436.2,49.4 436.4,50.7 435.3,50.0 434.1,50.7 434.3,49.4 433.4,48.5 434.7,48.3" fill="#0000cc" stroke="#0000cc" stroke-width="0.8" stroke-linejoin="round"/>
<line x1="439.44" y1="45.23" x2="439.44" y2="47.38" stroke="#0000cc" stroke-width="1.0"/>
<polygon points="439.4,44.3 440.0,45.5 441.3,45.7 440.4,46.6 440.6,47.9 439.4,47.3 438.3,47.9 438.5,46.6 437.6,45.7 438.9,45.5" fill="#0000cc" stroke="#0000cc" stroke-width="0.8" stroke-linejoin="round"/>
<line x1="443.46" y1="44.61" x2="443.46" y2="48.54" stroke="#0000cc" stroke-width="1.0"/>
<polygon points="443.5,44.6 444.0,45.8 445.3,46.0 444.4,46.9 444.6,48.2 443.5,47.6 442.3,48.2 442.5,46.9 441.6,46.0 442.9,45.8" fill="#0000cc" stroke="#0000cc" stroke-width="0.8" stroke-linejoin="round"/>
<line x1="446.57" y1="48.11" x2="446.57" y2="50.26" stroke="#0000cc" stroke-width="1.0"/>
<polygon points="446.6,47.2 447.1,48.4 448.4,48.6 447.5,49.5 447.7,50.8 446.6,50.2 445.4,50.8 445.6,49.5 444.7,48.6 446.0,48.4" fill="#0000cc" stroke="#0000cc" stroke-width="0.8" stroke-linejoin="round"/>
<line x1="451.85" y1="48.82" x2="451.85" y2="51.85" stroke="#0000cc" stroke-width="1.0"/>
<polygon points="451.9,48.4 452.4,49.5 453.7,49.7 452.8,50.6 453.0,51.9 451.9,51.3 450.7,51.9 450.9,50.6 450.0,49.7 451.3,49.5" fill="#0000cc" stroke="#0000cc" stroke-width="0.8" stroke-linejoin="round"/>
<line x1="454.60" y1="48.70" x2="454.60" y2="52.91" stroke="#0000cc" stroke-width="1.0"/>
<polygon points="454.6,48.8 455.2,50.0 456.5,50.2 455.5,51.1 455.7,52.4 454.6,51.8 453.4,52.4 453.7,51.1 452.7,50.2 454.0,50.0" fill="#0000cc" stroke="#0000cc" stroke-width="0.8" stroke-linejoin="round"/>
<line x1="459.95" y1="49.33" x2="459.95" y2="52.23" stroke="#0000cc" stroke-width="1.0"/>
<polygon points="460.0,48.8 460.5,50.0 461.8,50.2 460.9,51.1 461.1,52.4 460.0,51.8 458.8,52.4 459.0,51.1 458.1,50.2 459.4,50.0" fill="#0000cc" stroke="#0000cc" stroke-width="0.8" stroke-linejoin="round"/>
<line x1="463.11" y1="51.26" x2="463.11" y2="54.44" stroke="#0000cc" stroke-width="1.0"/>
<polygon points="463.1,50.9 463.7,52.1 465.0,52.2 464.0,53.2 464.3,54.4 463.1,53.8 462.0,54.4 462.2,53.2 461.3,52.2 462.5,52.1" fill="#0000cc" stroke="#0000cc" stroke-width="0.8" stroke-linejoin="round"/>
<line x1="466.33" y1="49.92" x2="466.33" y2="54.64" stroke="#0000cc" stroke-width="1.0"/>
<polygon points="466.3,50.3 466.9,51.5 468.2,51.7 467.3,52.6 467.5,53.9 466.3,53.3 465.2,53.9 465.4,52.6 464.5,51.7 465.8,51.5" fill="#0000cc" stroke="#0000cc" stroke-width="0.8" stroke-linejoin="round"/>
<line x1="470.99" y1="51.93" x2="470.99" y2="54.59" stroke="#0000cc" stroke-width="1.0"/>
<polygon points="471.0,51.3 471.6,52.5 472.9,52.7 471.9,53.6 472.1,54.8 471.0,54.2 469.8,54.8 470.1,53.6 469.1,52.7 470.4,52.5" fill="#0000cc" stroke="#0000cc" stroke-width="0.8" stroke-linejoin="round"/>
<line x1="475.81" y1="53.36" x2="475.81" y2="55.78" stroke="#0000cc" stroke-width="1.0"/>
<polygon points="475.8,52.6 476.4,53.8 477.7,54.0 476.7,54.9 477.0,56.1 475.8,55.5 474.7,56.1 474.9,54.9 474.0,54.0 475.2,53.8" fill="#0000cc" stroke="#0000cc" stroke-width="0.8" stroke-linejoin="round"/>
<line x1="478.38" y1="52.73" x2="478.38" y2="55.01" stroke="#0000cc" stroke-width="1.0"/>
<polygon points="478.4,51.9 479.0,53.1 480.2,53.3 479.3,54.2 479.5,55.5 478.4,54.8 477.2,55.5 477.5,54.2 476.5,53.3 477.8,53.1" fill="#0000cc" stroke="#0000cc" stroke-width="0.8" stroke-linejoin="round"/>
<line x1="482.68" y1="53.83" x2="482.68" y2="56.61" stroke="#0000cc" stroke-width="1.0"/>
<polygon points="482.7,53.3 483.3,54.4 484.5,54.6 483.6,55.5 483.8,56.8 482.7,56.2 481.5,56.8 481.8,55.5 480.8,54.6 482.1,54.4" fill="#0000cc" stroke="#0000cc" stroke-width="0.8" stroke-linejoin="round"/>
<line x1="487.14" y1="53.40" x2="487.14" y2="58.06" stroke="#0000cc" stroke-width="1.0"/>
<polygon points="487.1,53.8 487.7,54.9 489.0,55.1 488.1,56.0 488.3,57.3 487.1,56.7 486.0,57.3 486.2,56.0 485.3,55.1 486.6,54.9" fill="#0000cc" stroke="#0000cc" stroke-width="0.8" stroke-linejoin="round"/>
<line x1="491.50" y1="53.38" x2="491.50" y2="56.95" stroke="#0000cc" stroke-width="1.0"/>
<polygon points="491.5,53.2 492.1,54.4 493.4,54.6 492.4,55.5 492.6,56.7 491.5,56.1 490.4,56.7 490.6,55.5 489.6,54.6 490.9,54.4" fill="#0000cc" stroke="#0000cc" stroke-width="0.8" stroke-linejoin="round"/>
<line x1="494.75" y1="55.61" x2="494.75" y2="58.63" stroke="#0000cc" stroke-width="1.0"/>
<polygon points="494.8,55.2 495.3,56.3 496.6,56.5 495.7,57.4 495.9,58.7 494.8,58.1 493.6,58.7 493.8,57.4 492.9,56.5 494.2,56.3" fill="#0000cc" stroke="#0000cc" stroke-width="0.8" stroke-linejoin="round"/>
<line x1="498.12" y1="55.50" x2="498.12" y2="57.87" stroke="#0000cc" stroke-width="1.0"/>
<polygon points="498.1,54.7 498.7,55.9 500.0,56.1 499.1,57.0 499.3,58.3 498.1,57.7 497.0,58.3 497.2,57.0 496.3,56.1 497.5,55.9" fill="#0000cc" stroke="#0000cc" stroke-width="0.8" stroke-linejoin="round"/>
<line x1="503.01" y1="58.58" x2="503.01" y2="62.46" stroke="#0000cc" stroke-width="1.0"/>
<polygon points="503.0,58.6 503.6,59.7 504.9,59.9 503.9,60.8 504.2,62.1 503.0,61.5 501.9,62.1 502.1,60.8 501.1,59.9 502.4,59.7" fill="#0000cc" stroke="#0000cc" stroke-width="0.8" stroke-linejoin="round"/>
<line x1="507.73" y1="57.51" x2="507.73" y2="60.26" stroke="#0000cc" stroke-width="1.0"/>
<polygon points="507.7,56.9 508.3,58.1 509.6,58.3 508.7,59.2 508.9,60.5 507.7,59.9 506.6,60.5 506.8,59.2 505.9,58.3 507.2,58.1" fill="#0000cc" stroke="#0000cc" stroke-width="0.8" stroke-linejoin="round"/>
<line x1="510.80" y1="58.33" x2="510.80" y2="61.67" stroke="#0000cc" stroke-width="1.0"/>
<polygon points="510.8,58.0 511.4,59.2 512.7,59.4 511.7,60.3 511.9,61.6 510.8,61.0 509.7,61.6 509.9,60.3 508.9,59.4 510.2,59.2" fill="#0000cc" stroke="#0000cc" stroke-width="0.8" stroke-linejoin="round"/>
<line x1="515.91" y1="60.06" x2="515.91" y2="62.12" stroke="#0000cc" stroke-width="1.0"/>
<polygon points="515.9,59.1 516.5,60.3 517.8,60.5 516.8,61.4 517.1,62.7 515.9,62.1 514.8,62.7 515.0,61.4 514.0,60.5 515.3,60.3" fill="#0000cc" stroke="#0000cc" stroke-width="0.8" stroke-linejoin="round"/>
<line x1="518.06" y1="56.45" x2="518.06" y2="60.58" stroke="#0000cc" stroke-width="1.0"/>
<polygon points="518.1,56.6 518.6,57.7 519.9,57.9 519.0,58.8 519.2,60.1 518.1,59.5 516.9,60.1 517.1,58.8 516.2,57.9 517.5,57.7" fill="#0000cc" stroke="#0000cc" stroke-width="0.8" stroke-linejoin="round"/>
<line x1="523.79" y1="58.54" x2="523.79" y2="60.54" stroke="#0000cc" stroke-width="1.0"/>
<polygon points="523.8,57.6 524.4,58.8 525.7,58.9 524.7,59.8 524.9,61.1 523.8,60.5 522.6,61.1 522.9,59.8 521.9,58.9 523.2,58.8" fill="#0000cc" stroke="#0000cc" stroke-width="0.8" stroke-linejoin="round"/>
<line x1="526.78" y1="59.05" x2="526.78" y2="63.83" stroke="#0000cc" stroke-width="1.0"/>
<polygon points="526.8,59.5 527.4,60.6 528.6,60.8 527.7,61.7 527.9,63.0 526.8,62.4 525.6,63.0 525.9,61.7 524.9,60.8 526.2,60.6" fill="#0000cc" stroke="#0000cc" stroke-width="0.8" stroke-linejoin="round"/>
<line x1="531.65" y1="62.07" x2="531.65" y2="64.82" stroke="#0000cc" stroke-width="1.0"/>
<polygon points="531.7,61.5 532.2,62.7 533.5,62.8 532.6,63.7 532.8,65.0 531.7,64.4 530.5,65.0 530.7,63.7 529.8,62.8 531.1,62.7" fill="#0000cc" stroke="#0000cc" stroke-width="0.8" stroke-linejoin="round"/>
<line x1="534.22" y1="58.76" x2="534.22" y2="61.23" stroke="#0000cc" stroke-width="1.0"/>
<polygon points="534.2,58.0 534.8,59.2 536.1,59.4 535.1,60.3 535.4,61.6 534.2,61.0 533.1,61.6 533.3,60.3 532.4,59.4 533.6,59.2" fill="#0000cc" stroke="#0000cc" stroke-width="0.8" stroke-linejoin="round"/>
<line x1="539.04" y1="59.62" x2="539.04" y2="63.78" stroke="#0000cc" stroke-width="1.0"/>
<polygon points="539.0,59.7 539.6,60.9 540.9,61.1 540.0,62.0 540.2,63.3 539.0,62.7 537.9,63.3 538.1,62.0 537.2,61.1 538.5,60.9" fill="#0000cc" stroke="#0000cc" stroke-width="0.8" stroke-linejoin="round"/>
<line x1="543.29" y1="58.77" x2="543.29" y2="63.06" stroke="#0000cc" stroke-width="1.0"/>
<polygon points="543.3,59.0 543.9,60.1 545.2,60.3 544.2,61.2 544.4,62.5 543.3,61.9 542.1,62.5 542.4,61.2 541.4,60.3 542.7,60.1" fill="#0000cc" stroke="#0000cc" stroke-width="0.8" stroke-linejoin="round"/>
<line x1="546.91" y1="60.96" x2="546.91" y2="65.30" stroke="#0000cc" stroke-width="1.0"/>
<polygon points="546.9,61.2 547.5,62.3 548.8,62.5 547.8,63.4 548.1,64.7 546.9,64.1 545.8,64.7 546.0,63.4 545.1,62.5 546.3,62.3" fill="#0000cc" stroke="#0000cc" stroke-width="0.8" stroke-linejoin="round"/>
<line x1="550.47" y1="61.24" x2="550.47" y2="66.00" stroke="#0000cc" stroke-width="1.0"/>
<polygon points="550.5,61.7 551.0,62.8 552.3,63.0 551.4,63.9 551.6,65.2 550.5,64.6 549.3,65.2 549.5,63.9 548.6,63.0 549.9,62.8" fill="#0000cc" stroke="#0000cc" stroke-width="0.8" stroke-linejoin="round"/>
<line x1="555.29" y1="62.58" x2="555.29" y2="65.34" stroke="#0000cc" stroke-width="1.0"/>
<polygon points="555.3,62.0 555.9,63.2 557.2,63.4 556.2,64.3 556.4,65.5 555.3,64.9 554.1,65.5 554.4,64.3 553.4,63.4 554.7,63.2" fill="#0000cc" stroke="#0000cc" stroke-width="0.8" stroke-linejoin="round"/>
<line x1="559.27" y1="63.02" x2="559.27" y2="67.11" stroke="#0000cc" stroke-width="1.0"/>
<polygon points="559.3,63.1 559.8,64.3 561.1,64.5 560.2,65.4 560.4,66.6 559.3,66.0 558.1,66.6 558.3,65.4 557.4,64.5 558.7,64.3" fill="#0000cc" stroke="#0000cc" stroke-width="0.8" stroke-linejoin="round"/>
<line x1="562.22" y1="64.12" x2="562.22" y2="67.87" stroke="#0000cc" stroke-width="1.0"/>
<polygon points="562.2,64.0 562.8,65.2 564.1,65.4 563.2,66.3 563.4,67.6 562.2,67.0 561.1,67.6 561.3,66.3 560.4,65.4 561.6,65.2" fill="#0000cc" stroke="#0000cc" stroke-width="0.8" stroke-linejoin="round"/>
<line x1="566.78" y1="64.58" x2="566.78" y2="67.25" stroke="#0000cc" stroke-width="1.0"/>
<polygon points="566.8,64.0 567.4,65.1 568.6,65.3 567.7,66.2 567.9,67.5 566.8,66.9 565.6,67.5 565.8,66.2 564.9,65.3 566.2,65.1" fill="#0000cc" stroke="#0000cc" stroke-width="0.8" stroke-linejoin="round"/>
<line x1="571.20" y1="65.04" x2="571.20" y2="68.42" stroke="#0000cc" stroke-width="1.0"/>
<polygon points="571.2,64.8 571.8,65.9 573.1,66.1 572.1,67.0 572.4,68.3 571.2,67.7 570.1,68.3 570.3,67.0 569.3,66.1 570.6,65.9" fill="#0000cc" stroke="#0000cc" stroke-width="0.8" stroke-linejoin="round"/>
<line x1="575.92" y1="64.57" x2="575.92" y2="68.51" stroke="#0000cc" stroke-width="1.0"/>
<polygon points="575.9,64.6 576.5,65.7 577.8,65.9 576.8,66.8 577.1,68.1 575.9,67.5 574.8,68.1 575.0,66.8 574.1,65.9 575.3,65.7" fill="#0000cc" stroke="#0000cc" stroke-width="0.8" stroke-linejoin="round"/>
<line x1="579.77" y1="65.16" x2="579.77" y2="67.90" stroke="#0000cc" stroke-width="1.0"/>
<polygon points="579.8,64.6 580.3,65.7 581.6,65.9 580.7,66.8 580.9,68.1 579.8,67.5 578.6,68.1 578.8,66.8 577.9,65.9 579.2,65.7" fill="#0000cc" stroke="#0000cc" stroke-width="0.8" stroke-linejoin="round"/>
<line x1="583.92" y1="66.14" x2="583.92" y2="70.25" stroke="#0000cc" stroke-width="1.0"/>
<polygon points="583.9,66.2 584.5,67.4 585.8,67.6 584.9,68.5 585.1,69.8 583.9,69.2 582.8,69.8 583.0,68.5 582.1,67.6 583.3,67.4" fill="#0000cc" stroke="#0000cc" stroke-width="0.8" stroke-linejoin="round"/>
<line x1="586.61" y1="68.18" x2="586.61" y2="72.20" stroke="#0000cc" stroke-width="1.0"/>
<polygon points="586.6,68.2 587.2,69.4 588.5,69.6 587.5,70.5 587.8,71.8 586.6,71.2 585.5,71.8 585.7,70.5 584.8,69.6 586.0,69.4" fill="#0000cc" stroke="#0000cc" stroke-width="0.8" stroke-linejoin="round"/>
<line x1="590.84" y1="69.71" x2="590.84" y2="72.48" stroke="#0000cc" stroke-width="1.0"/>
<polygon points="590.8,69.1 591.4,70.3 592.7,70.5 591.8,71.4 592.0,72.7 590.8,72.1 589.7,72.7 589.9,71.4 589.0,70.5 590.3,70.3" fill="#0000cc" stroke="#0000cc" stroke-width="0.8" stroke-linejoin="round"/>
<line x1="595.33" y1="72.98" x2="595.33" y2="75.08" stroke="#0000cc" stroke-width="1.0"/>
<polygon points="595.3,72.1 595.9,73.2 597.2,73.4 596.3,74.3 596.5,75.6 595.3,75.0 594.2,75.6 594.4,74.3 593.5,73.4 594.8,73.2" fill="#0000cc" stroke="#0000cc" stroke-width="0.8" stroke-linejoin="round"/>
<line x1="598.68" y1="74.31" x2="598.68" y2="77.57" stroke="#0000cc" stroke-width="1.0"/>
<polygon points="598.7,74.0 599.3,75.2 600.5,75.3 599.6,76.2 599.8,77.5 598.7,76.9 597.5,77.5 597.7,76.2 596.8,75.3 598.1,75.2" fill="#0000cc" stroke="#0000cc" stroke-width="0.8" stroke-linejoin="round"/>
<line x1="405.37" y1="38.86" x2="405.37" y2="42.08" stroke="#ff0000" stroke-width="1.0"/>
<polygon points="405.4,38.2 406.0,39.5 407.6,39.8 406.5,40.8 406.7,42.3 405.4,41.6 404.0,42.3 404.3,40.8 403.2,39.8 404.7,39.5" fill="#ff0000" stroke="#ff0000" stroke-width="0.8" stroke-linejoin="round"/>
<line x1="409.51" y1="41.52" x2="409.51" y2="43.13" stroke="#ff0000" stroke-width="1.0"/>
<polygon points="409.5,40.0 410.2,41.4 411.7,41.6 410.6,42.7 410.9,44.2 409.5,43.5 408.2,44.2 408.4,42.7 407.3,41.6 408.8,41.4" fill="#ff0000" stroke="#ff0000" stroke-width="0.8" stroke-linejoin="round"/>
<line x1="414.94" y1="39.28" x2="414.94" y2="40.97" stroke="#ff0000" stroke-width="1.0"/>
<polygon points="414.9,37.8 415.6,39.2 417.1,39.4 416.0,40.5 416.3,42.0 414.9,41.3 413.6,42.0 413.8,40.5 412.8,39.4 414.3,39.2" fill="#ff0000" stroke="#ff0000" stroke-width="0.8" stroke-linejoin="round"/>
<line x1="417.94" y1="41.75" x2="417.94" y2="45.03" stroke="#ff0000" stroke-width="1.0"/>
<polygon points="417.9,41.1 418.6,42.5 420.1,42.7 419.0,43.7 419.3,45.3 417.9,44.5 416.6,45.3 416.8,43.7 415.8,42.7 417.3,42.5" fill="#ff0000" stroke="#ff0000" stroke-width="0.8" stroke-linejoin="round"/>
<line x1="422.59" y1="42.47" x2="422.59" y2="44.03" stroke="#ff0000" stroke-width="1.0"/>
<polygon points="422.6,40.9 423.3,42.3 424.8,42.5 423.7,43.6 423.9,45.1 422.6,44.4 421.2,45.1 421.5,43.6 420.4,42.5 421.9,42.3" fill="#ff0000" stroke="#ff0000" stroke-width="0.8" stroke-linejoin="round"/>
<line x1="426.95" y1="40.90" x2="426.95" y2="43.15" stroke="#ff0000" stroke-width="1.0"/>
<polygon points="426.9,39.7 427.6,41.1 429.1,41.3 428.0,42.4 428.3,43.9 426.9,43.2 425.6,43.9 425.9,42.4 424.8,41.3 426.3,41.1" fill="#ff0000" stroke="#ff0000" stroke-width="0.8" stroke-linejoin="round"/>
<line x1="432.33" y1="42.69" x2="432.33" y2="44.87" stroke="#ff0000" stroke-width="1.0"/>
<polygon points="432.3,41.5 433.0,42.8 434.5,43.1 433.4,44.1 433.7,45.6 432.3,44.9 431.0,45.6 431.2,44.1 430.1,43.1 431.7,42.8" fill="#ff0000" stroke="#ff0000" stroke-width="0.8" stroke-linejoin="round"/>
<line x1="435.93" y1="41.43" x2="435.93" y2="45.35" stroke="#ff0000" stroke-width="1.0"/>
<polygon points="435.9,41.1 436.6,42.5 438.1,42.7 437.0,43.7 437.3,45.3 435.9,44.5 434.6,45.3 434.8,43.7 433.7,42.7 435.2,42.5" fill="#ff0000" stroke="#ff0000" stroke-width="0.8" stroke-linejoin="round"/>
<line x1="440.28" y1="43.48" x2="440.28" y2="45.66" stroke="#ff0000" stroke-width="1.0"/>
<polygon points="440.3,42.3 441.0,43.6 442.5,43.9 441.4,44.9 441.6,46.4 440.3,45.7 438.9,46.4 439.2,44.9 438.1,43.9 439.6,43.6" fill="#ff0000" stroke="#ff0000" stroke-width="0.8" stroke-linejoin="round"/>
<line x1="446.30" y1="43.31" x2="446.30" y2="46.96" stroke="#ff0000" stroke-width="1.0"/>
<polygon points="446.3,42.8 447.0,44.2 448.5,44.4 447.4,45.5 447.6,47.0 446.3,46.3 444.9,47.0 445.2,45.5 444.1,44.4 445.6,44.2" fill="#ff0000" stroke="#ff0000" stroke-width="0.8" stroke-linejoin="round"/>
<line x1="450.47" y1="47.40" x2="450.47" y2="49.39" stroke="#ff0000" stroke-width="1.0"/>
<polygon points="450.5,46.1 451.1,47.5 452.7,47.7 451.6,48.8 451.8,50.3 450.5,49.5 449.1,50.3 449.4,48.8 448.3,47.7 449.8,47.5" fill="#ff0000" stroke="#ff0000" stroke-width="0.8" stroke-linejoin="round"/>
<line x1="453.87" y1="44.17" x2="453.87" y2="47.98" stroke="#ff0000" stroke-width="1.0"/>
<polygon points="453.9,43.8 454.5,45.1 456.1,45.4 455.0,46.4 455.2,47.9 453.9,47.2 452.5,47.9 452.8,46.4 451.7,45.4 453.2,45.1" fill="#ff0000" stroke="#ff0000" stroke-width="0.8" stroke-linejoin="round"/>
<line x1="459.49" y1="47.62" x2="459.49" y2="49.76" stroke="#ff0000" stroke-width="1.0"/>
<polygon points="459.5,46.4 460.2,47.8 461.7,48.0 460.6,49.0 460.8,50.6 459.5,49.8 458.1,50.6 458.4,49.0 457.3,48.0 458.8,47.8" fill="#ff0000" stroke="#ff0000" stroke-width="0.8" stroke-linejoin="round"/>
<line x1="463.25" y1="46.87" x2="463.25" y2="48.86" stroke="#ff0000" stroke-width="1.0"/>
<polygon points="463.2,45.6 463.9,46.9 465.4,47.2 464.3,48.2 464.6,49.7 463.2,49.0 461.9,49.7 462.2,48.2 461.1,47.2 462.6,46.9" fill="#ff0000" stroke="#ff0000" stroke-width="0.8" stroke-linejoin="round"/>
<line x1="467.34" y1="48.06" x2="467.34" y2="50.12" stroke="#ff0000" stroke-width="1.0"/>
<polygon points="467.3,46.8 468.0,48.2 469.5,48.4 468.4,49.4 468.7,50.9 467.3,50.2 466.0,50.9 466.2,49.4 465.2,48.4 466.7,48.2" fill="#ff0000" stroke="#ff0000" stroke-width="0.8" stroke-linejoin="round"/>
<line x1="473.41" y1="48.35" x2="473.41" y2="49.72" stroke="#ff0000" stroke-width="1.0"/>
<polygon points="473.4,46.7 474.1,48.1 475.6,48.3 474.5,49.4 474.8,50.9 473.4,50.2 472.1,50.9 472.3,49.4 471.2,48.3 472.7,48.1" fill="#ff0000" stroke="#ff0000" stroke-width="0.8" stroke-linejoin="round"/>
<line x1="477.93" y1="48.38" x2="477.93" y2="51.84" stroke="#ff0000" stroke-width="1.0"/>
<polygon points="477.9,47.8 478.6,49.2 480.1,49.4 479.0,50.5 479.3,52.0 477.9,51.3 476.6,52.0 476.8,50.5 475.7,49.4 477.3,49.2" fill="#ff0000" stroke="#ff0000" stroke-width="0.8" stroke-linejoin="round"/>
<line x1="482.14" y1="50.65" x2="482.14" y2="52.95" stroke="#ff0000" stroke-width="1.0"/>
<polygon points="482.1,49.5 482.8,50.9 484.3,51.1 483.2,52.2 483.5,53.7 482.1,53.0 480.8,53.7 481.1,52.2 480.0,51.1 481.5,50.9" fill="#ff0000" stroke="#ff0000" stroke-width="0.8" stroke-linejoin="round"/>
<line x1="485.10" y1="48.33" x2="485.10" y2="52.09" stroke="#ff0000" stroke-width="1.0"/>
<polygon points="485.1,47.9 485.8,49.3 487.3,49.5 486.2,50.6 486.5,52.1 485.1,51.4 483.7,52.1 484.0,50.6 482.9,49.5 484.4,49.3" fill="#ff0000" stroke="#ff0000" stroke-width="0.8" stroke-linejoin="round"/>
<line x1="489.89" y1="51.52" x2="489.89" y2="53.61" stroke="#ff0000" stroke-width="1.0"/>
<polygon points="489.9,50.3 490.6,51.6 492.1,51.9 491.0,52.9 491.2,54.4 489.9,53.7 488.5,54.4 488.8,52.9 487.7,51.9 489.2,51.6" fill="#ff0000" stroke="#ff0000" stroke-width="0.8" stroke-linejoin="round"/>
<line x1="495.79" y1="53.05" x2="495.79" y2="56.49" stroke="#ff0000" stroke-width="1.0"/>
<polygon points="495.8,52.5 496.5,53.8 498.0,54.1 496.9,55.1 497.1,56.6 495.8,55.9 494.4,56.6 494.7,55.1 493.6,54.1 495.1,53.8" fill="#ff0000" stroke="#ff0000" stroke-width="0.8" stroke-linejoin="round"/>
<line x1="500.03" y1="54.08" x2="500.03" y2="55.20" stroke="#ff0000" stroke-width="1.0"/>
<polygon points="500.0,52.3 500.7,53.7 502.2,53.9 501.1,55.0 501.4,56.5 500.0,55.8 498.7,56.5 498.9,55.0 497.8,53.9 499.4,53.7" fill="#ff0000" stroke="#ff0000" stroke-width="0.8" stroke-linejoin="round"/>
<line x1="503.07" y1="56.62" x2="503.07" y2="58.39" stroke="#ff0000" stroke-width="1.0"/>
<polygon points="503.1,55.2 503.7,56.6 505.3,56.8 504.2,57.9 504.4,59.4 503.1,58.7 501.7,59.4 502.0,57.9 500.9,56.8 502.4,56.6" fill="#ff0000" stroke="#ff0000" stroke-width="0.8" stroke-linejoin="round"/>
<line x1="508.99" y1="55.38" x2="508.99" y2="59.08" stroke="#ff0000" stroke-width="1.0"/>
<polygon points="509.0,54.9 509.7,56.3 511.2,56.5 510.1,57.6 510.3,59.1 509.0,58.4 507.6,59.1 507.9,57.6 506.8,56.5 508.3,56.3" fill="#ff0000" stroke="#ff0000" stroke-width="0.8" stroke-linejoin="round"/>
<line x1="512.68" y1="55.08" x2="512.68" y2="57.93" stroke="#ff0000" stroke-width="1.0"/>
<polygon points="512.7,54.2 513.4,55.6 514.9,55.8 513.8,56.9 514.0,58.4 512.7,57.7 511.3,58.4 511.6,56.9 510.5,55.8 512.0,55.6" fill="#ff0000" stroke="#ff0000" stroke-width="0.8" stroke-linejoin="round"/>
<line x1="517.02" y1="59.09" x2="517.02" y2="62.24" stroke="#ff0000" stroke-width="1.0"/>
<polygon points="517.0,58.4 517.7,59.7 519.2,60.0 518.1,61.0 518.4,62.5 517.0,61.8 515.7,62.5 515.9,61.0 514.8,60.0 516.3,59.7" fill="#ff0000" stroke="#ff0000" stroke-width="0.8" stroke-linejoin="round"/>
<line x1="521.63" y1="56.81" x2="521.63" y2="60.08" stroke="#ff0000" stroke-width="1.0"/>
<polygon points="521.6,56.1 522.3,57.5 523.8,57.7 522.7,58.8 523.0,60.3 521.6,59.6 520.3,60.3 520.5,58.8 519.4,57.7 521.0,57.5" fill="#ff0000" stroke="#ff0000" stroke-width="0.8" stroke-linejoin="round"/>
<line x1="527.33" y1="58.09" x2="527.33" y2="60.99" stroke="#ff0000" stroke-width="1.0"/>
<polygon points="527.3,57.2 528.0,58.6 529.5,58.8 528.4,59.9 528.7,61.4 527.3,60.7 526.0,61.4 526.2,59.9 525.1,58.8 526.7,58.6" fill="#ff0000" stroke="#ff0000" stroke-width="0.8" stroke-linejoin="round"/>
<line x1="531.89" y1="59.87" x2="531.89" y2="62.29" stroke="#ff0000" stroke-width="1.0"/>
<polygon points="531.9,58.8 532.6,60.1 534.1,60.4 533.0,61.4 533.2,62.9 531.9,62.2 530.5,62.9 530.8,61.4 529.7,60.4 531.2,60.1" fill="#ff0000" stroke="#ff0000" stroke-width="0.8" stroke-linejoin="round"/>
<line x1="536.41" y1="59.19" x2="536.41" y2="63.05" stroke="#ff0000" stroke-width="1.0"/>
<polygon points="536.4,58.8 537.1,60.2 538.6,60.4 537.5,61.5 537.8,63.0 536.4,62.3 535.1,63.0 535.3,61.5 534.2,60.4 535.7,60.2" fill="#ff0000" stroke="#ff0000" stroke-width="0.8" stroke-linejoin="round"/>
<line x1="539.77" y1="60.31" x2="539.77" y2="62.79" stroke="#ff0000" stroke-width="1.0"/>
<polygon points="539.8,59.3 540.4,60.6 542.0,60.8 540.9,61.9 541.1,63.4 539.8,62.7 538.4,63.4 538.7,61.9 537.6,60.8 539.1,60.6" fill="#ff0000" stroke="#ff0000" stroke-width="0.8" stroke-linejoin="round"/>
<line x1="545.36" y1="63.10" x2="545.36" y2="64.65" stroke="#ff0000" stroke-width="1.0"/>
<polygon points="545.4,61.6 546.0,62.9 547.5,63.2 546.4,64.2 546.7,65.7 545.4,65.0 544.0,65.7 544.3,64.2 543.2,63.2 544.7,62.9" fill="#ff0000" stroke="#ff0000" stroke-width="0.8" stroke-linejoin="round"/>
<line x1="545.61" y1="62.15" x2="545.61" y2="64.70" stroke="#ff0000" stroke-width="1.0"/>
<polygon points="545.6,61.6 546.1,62.7 547.4,62.9 546.5,63.7 546.7,64.9 545.6,64.3 544.5,64.9 544.7,63.7 543.9,62.9 545.1,62.7" fill="#ff0000" stroke="#ff0000" stroke-width="0.8" stroke-linejoin="round"/>
<line x1="547.01" y1="61.31" x2="547.01" y2="62.97" stroke="#ff0000" stroke-width="1.0"/>
<polygon points="547.0,60.3 547.6,61.4 548.8,61.6 547.9,62.4 548.1,63.6 547.0,63.1 545.9,63.6 546.1,62.4 545.3,61.6 546.5,61.4" fill="#ff0000" stroke="#ff0000" stroke-width="0.8" stroke-linejoin="round"/>
<line x1="548.24" y1="62.44" x2="548.24" y2="63.60" stroke="#ff0000" stroke-width="1.0"/>
<polygon points="548.2,61.2 548.8,62.3 550.0,62.5 549.1,63.3 549.3,64.5 548.2,63.9 547.2,64.5 547.4,63.3 546.5,62.5 547.7,62.3" fill="#ff0000" stroke="#ff0000" stroke-width="0.8" stroke-linejoin="round"/>
<line x1="549.79" y1="64.27" x2="549.79" y2="66.78" stroke="#ff0000" stroke-width="1.0"/>
<polygon points="549.8,63.7 550.3,64.8 551.5,65.0 550.7,65.8 550.9,67.0 549.8,66.4 548.7,67.0 548.9,65.8 548.0,65.0 549.3,64.8" fill="#ff0000" stroke="#ff0000" stroke-width="0.8" stroke-linejoin="round"/>
<line x1="551.69" y1="63.85" x2="551.69" y2="65.95" stroke="#ff0000" stroke-width="1.0"/>
<polygon points="551.7,63.1 552.2,64.2 553.4,64.3 552.6,65.2 552.8,66.4 551.7,65.8 550.6,66.4 550.8,65.2 549.9,64.3 551.2,64.2" fill="#ff0000" stroke="#ff0000" stroke-width="0.8" stroke-linejoin="round"/>
<line x1="553.65" y1="63.66" x2="553.65" y2="66.62" stroke="#ff0000" stroke-width="1.0"/>
<polygon points="553.7,63.3 554.2,64.4 555.4,64.6 554.5,65.4 554.7,66.6 553.7,66.1 552.6,66.6 552.8,65.4 551.9,64.6 553.1,64.4" fill="#ff0000" stroke="#ff0000" stroke-width="0.8" stroke-linejoin="round"/>
<line x1="556.57" y1="65.72" x2="556.57" y2="66.89" stroke="#ff0000" stroke-width="1.0"/>
<polygon points="556.6,64.5 557.1,65.6 558.3,65.7 557.4,66.6 557.6,67.8 556.6,67.2 555.5,67.8 555.7,66.6 554.8,65.7 556.0,65.6" fill="#ff0000" stroke="#ff0000" stroke-width="0.8" stroke-linejoin="round"/>
<line x1="556.79" y1="64.59" x2="556.79" y2="66.59" stroke="#ff0000" stroke-width="1.0"/>
<polygon points="556.8,63.7 557.3,64.8 558.5,65.0 557.7,65.9 557.9,67.1 556.8,66.5 555.7,67.1 555.9,65.9 555.0,65.0 556.3,64.8" fill="#ff0000" stroke="#ff0000" stroke-width="0.8" stroke-linejoin="round"/>
<line x1="559.82" y1="64.68" x2="559.82" y2="66.52" stroke="#ff0000" stroke-width="1.0"/>
<polygon points="559.8,63.8 560.4,64.9 561.6,65.0 560.7,65.9 560.9,67.1 559.8,66.5 558.7,67.1 558.9,65.9 558.1,65.0 559.3,64.9" fill="#ff0000" stroke="#ff0000" stroke-width="0.8" stroke-linejoin="round"/>
<line x1="561.44" y1="65.57" x2="561.44" y2="67.92" stroke="#ff0000" stroke-width="1.0"/>
<polygon points="561.4,64.9 562.0,66.0 563.2,66.2 562.3,67.0 562.5,68.2 561.4,67.7 560.4,68.2 560.6,67.0 559.7,66.2 560.9,66.0" fill="#ff0000" stroke="#ff0000" stroke-width="0.8" stroke-linejoin="round"/>
<line x1="563.50" y1="67.06" x2="563.50" y2="68.30" stroke="#ff0000" stroke-width="1.0"/>
<polygon points="563.5,65.8 564.0,66.9 565.2,67.1 564.4,68.0 564.6,69.2 563.5,68.6 562.4,69.2 562.6,68.0 561.7,67.1 563.0,66.9" fill="#ff0000" stroke="#ff0000" stroke-width="0.8" stroke-linejoin="round"/>
<line x1="565.48" y1="65.42" x2="565.48" y2="67.00" stroke="#ff0000" stroke-width="1.0"/>
<polygon points="565.5,64.4 566.0,65.5 567.2,65.6 566.4,66.5 566.6,67.7 565.5,67.1 564.4,67.7 564.6,66.5 563.7,65.6 564.9,65.5" fill="#ff0000" stroke="#ff0000" stroke-width="0.8" stroke-linejoin="round"/>
<line x1="566.73" y1="65.87" x2="566.73" y2="67.27" stroke="#ff0000" stroke-width="1.0"/>
<polygon points="566.7,64.7 567.3,65.8 568.5,66.0 567.6,66.9 567.8,68.1 566.7,67.5 565.7,68.1 565.9,66.9 565.0,66.0 566.2,65.8" fill="#ff0000" stroke="#ff0000" stroke-width="0.8" stroke-linejoin="round"/>
<line x1="567.89" y1="68.22" x2="567.89" y2="69.71" stroke="#ff0000" stroke-width="1.0"/>
<polygon points="567.9,67.1 568.4,68.2 569.6,68.4 568.8,69.2 569.0,70.5 567.9,69.9 566.8,70.5 567.0,69.2 566.1,68.4 567.4,68.2" fill="#ff0000" stroke="#ff0000" stroke-width="0.8" stroke-linejoin="round"/>
<line x1="569.51" y1="68.40" x2="569.51" y2="70.05" stroke="#ff0000" stroke-width="1.0"/>
<polygon points="569.5,67.4 570.0,68.5 571.3,68.7 570.4,69.5 570.6,70.7 569.5,70.1 568.4,70.7 568.6,69.5 567.8,68.7 569.0,68.5" fill="#ff0000" stroke="#ff0000" stroke-width="0.8" stroke-linejoin="round"/>
<line x1="571.79" y1="66.68" x2="571.79" y2="69.67" stroke="#ff0000" stroke-width="1.0"/>
<polygon points="571.8,66.3 572.3,67.4 573.5,67.6 572.7,68.5 572.9,69.7 571.8,69.1 570.7,69.7 570.9,68.5 570.0,67.6 571.3,67.4" fill="#ff0000" stroke="#ff0000" stroke-width="0.8" stroke-linejoin="round"/>
<line x1="573.81" y1="68.54" x2="573.81" y2="70.85" stroke="#ff0000" stroke-width="1.0"/>
<polygon points="573.8,67.9 574.4,69.0 575.6,69.1 574.7,70.0 574.9,71.2 573.8,70.6 572.7,71.2 572.9,70.0 572.1,69.1 573.3,69.0" fill="#ff0000" stroke="#ff0000" stroke-width="0.8" stroke-linejoin="round"/>
<line x1="576.58" y1="71.28" x2="576.58" y2="72.48" stroke="#ff0000" stroke-width="1.0"/>
<polygon points="576.6,70.0 577.1,71.1 578.3,71.3 577.5,72.2 577.7,73.4 576.6,72.8 575.5,73.4 575.7,72.2 574.8,71.3 576.0,71.1" fill="#ff0000" stroke="#ff0000" stroke-width="0.8" stroke-linejoin="round"/>
<line x1="577.35" y1="69.77" x2="577.35" y2="72.60" stroke="#ff0000" stroke-width="1.0"/>
<polygon points="577.3,69.3 577.9,70.4 579.1,70.6 578.2,71.5 578.4,72.7 577.3,72.1 576.3,72.7 576.5,71.5 575.6,70.6 576.8,70.4" fill="#ff0000" stroke="#ff0000" stroke-width="0.8" stroke-linejoin="round"/>
<line x1="578.28" y1="68.55" x2="578.28" y2="70.13" stroke="#ff0000" stroke-width="1.0"/>
<polygon points="578.3,67.5 578.8,68.6 580.0,68.8 579.2,69.6 579.4,70.8 578.3,70.3 577.2,70.8 577.4,69.6 576.5,68.8 577.7,68.6" fill="#ff0000" stroke="#ff0000" stroke-width="0.8" stroke-linejoin="round"/>
<line x1="580.24" y1="71.73" x2="580.24" y2="73.90" stroke="#ff0000" stroke-width="1.0"/>
<polygon points="580.2,71.0 580.8,72.1 582.0,72.2 581.1,73.1 581.3,74.3 580.2,73.7 579.2,74.3 579.4,73.1 578.5,72.2 579.7,72.1" fill="#ff0000" stroke="#ff0000" stroke-width="0.8" stroke-linejoin="round"/>
<line x1="583.66" y1="75.06" x2="583.66" y2="76.81" stroke="#ff0000" stroke-width="1.0"/>
<polygon points="583.7,74.1 584.2,75.2 585.4,75.4 584.5,76.2 584.7,77.4 583.7,76.9 582.6,77.4 582.8,76.2 581.9,75.4 583.1,75.2" fill="#ff0000" stroke="#ff0000" stroke-width="0.8" stroke-linejoin="round"/>
<line x1="585.33" y1="72.62" x2="585.33" y2="75.17" stroke="#ff0000" stroke-width="1.0"/>
<polygon points="585.3,72.1 585.9,73.1 587.1,73.3 586.2,74.2 586.4,75.4 585.3,74.8 584.3,75.4 584.5,74.2 583.6,73.3 584.8,73.1" fill="#ff0000" stroke="#ff0000" stroke-width="0.8" stroke-linejoin="round"/>
<line x1="587.29" y1="75.18" x2="587.29" y2="76.40" stroke="#ff0000" stroke-width="1.0"/>
<polygon points="587.3,74.0 587.8,75.0 589.0,75.2 588.2,76.1 588.4,77.3 587.3,76.7 586.2,77.3 586.4,76.1 585.5,75.2 586.8,75.0" fill="#ff0000" stroke="#ff0000" stroke-width="0.8" stroke-linejoin="round"/>
<line x1="588.39" y1="74.81" x2="588.39" y2="76.55" stroke="#ff0000" stroke-width="1.0"/>
<polygon points="588.4,73.8 588.9,74.9 590.1,75.1 589.3,76.0 589.5,77.2 588.4,76.6 587.3,77.2 587.5,76.0 586.6,75.1 587.9,74.9" fill="#ff0000" stroke="#ff0000" stroke-width="0.8" stroke-linejoin="round"/>
<line x1="589.28" y1="75.60" x2="589.28" y2="77.01" stroke="#ff0000" stroke-width="1.0"/>
<polygon points="589.3,74.5 589.8,75.6 591.0,75.7 590.2,76.6 590.4,77.8 589.3,77.2 588.2,77.8 588.4,76.6 587.5,75.7 588.7,75.6" fill="#ff0000" stroke="#ff0000" stroke-width="0.8" stroke-linejoin="round"/>
<line x1="591.31" y1="76.49" x2="591.31" y2="77.90" stroke="#ff0000" stroke-width="1.0"/>
<polygon points="591.3,75.4 591.9,76.5 593.1,76.6 592.2,77.5 592.4,78.7 591.3,78.1 590.2,78.7 590.4,77.5 589.6,76.6 590.8,76.5" fill="#ff0000" stroke="#ff0000" stroke-width="0.8" stroke-linejoin="round"/>
<line x1="592.62" y1="77.65" x2="592.62" y2="79.30" stroke="#ff0000" stroke-width="1.0"/>
<polygon points="592.6,76.6 593.2,77.7 594.4,77.9 593.5,78.8 593.7,80.0 592.6,79.4 591.5,80.0 591.7,78.8 590.9,77.9 592.1,77.7" fill="#ff0000" stroke="#ff0000" stroke-width="0.8" stroke-linejoin="round"/>
<line x1="595.76" y1="81.48" x2="595.76" y2="82.89" stroke="#ff0000" stroke-width="1.0"/>
<polygon points="595.8,80.3 596.3,81.4 597.5,81.6 596.6,82.5 596.8,83.7 595.8,83.1 594.7,83.7 594.9,82.5 594.0,81.6 595.2,81.4" fill="#ff0000" stroke="#ff0000" stroke-width="0.8" stroke-linejoin="round"/>
<line x1="597.79" y1="83.47" x2="597.79" y2="85.56" stroke="#ff0000" stroke-width="1.0"/>
<polygon points="597.8,82.7 598.3,83.8 599.5,83.9 598.7,84.8 598.9,86.0 597.8,85.4 596.7,86.0 596.9,84.8 596.0,83.9 597.2,83.8" fill="#ff0000" stroke="#ff0000" stroke-width="0.8" stroke-linejoin="round"/>
<line x1="598.13" y1="83.79" x2="598.13" y2="85.89" stroke="#ff0000" stroke-width="1.0"/>
<polygon points="598.1,83.0 598.7,84.1 599.9,84.3 599.0,85.1 599.2,86.3 598.1,85.8 597.0,86.3 597.3,85.1 596.4,84.3 597.6,84.1" fill="#ff0000" stroke="#ff0000" stroke-width="0.8" stroke-linejoin="round"/>
<rect x="408.12" y="36.17" width="4.32" height="4.32" fill="#000000" stroke="#000000" stroke-width="0.8"/>
<rect x="411.17" y="35.05" width="4.32" height="4.32" fill="#000000" stroke="#000000" stroke-width="0.8"/>
<rect x="415.46" y="34.74" width="4.32" height="4.32" fill="#000000" stroke="#000000" stroke-width="0.8"/>
<rect x="419.46" y="35.70" width="4.32" height="4.32" fill="#000000" stroke="#000000" stroke-width="0.8"/>
<rect x="424.57" y="37.53" width="4.32" height="4.32" fill="#000000" stroke="#000000" stroke-width="0.8"/>
<rect x="427.57" y="39.75" width="4.32" height="4.32" fill="#000000" stroke="#000000" stroke-width="0.8"/>
<rect x="430.85" y="42.21" width="4.32" height="4.32" fill="#000000" stroke="#000000" stroke-width="0.8"/>
<rect x="435.69" y="41.22" width="4.32" height="4.32" fill="#000000" stroke="#000000" stroke-width="0.8"/>
<rect x="439.76" y="39.59" width="4.32" height="4.32" fill="#000000" stroke="#000000" stroke-width="0.8"/>
<rect x="442.87" y="39.44" width="4.32" height="4.32" fill="#000000" stroke="#000000" stroke-width="0.8"/>
<rect x="447.02" y="41.89" width="4.32" height="4.32" fill="#000000" stroke="#000000" stroke-width="0.8"/>
<rect x="451.58" y="42.61" width="4.32" height="4.32" fill="#000000" stroke="#000000" stroke-width="0.8"/>
<rect x="455.88" y="44.46" width="4.32" height="4.32" fill="#000000" stroke="#000000" stroke-width="0.8"/>
<rect x="459.06" y="41.90" width="4.32" height="4.32" fill="#000000" stroke="#000000" stroke-width="0.8"/>
<rect x="463.23" y="46.24" width="4.32" height="4.32" fill="#000000" stroke="#000000" stroke-width="0.8"/>
<rect x="468.73" y="49.27" width="4.32" height="4.32" fill="#000000" stroke="#000000" stroke-width="0.8"/>
<rect x="472.69" y="47.76" width="4.32" height="4.32" fill="#000000" stroke="#000000" stroke-width="0.8"/>
<rect x="476.65" y="46.49" width="4.32" height="4.32" fill="#000000" stroke="#000000" stroke-width="0.8"/>
<rect x="480.41" y="47.44" width="4.32" height="4.32" fill="#000000" stroke="#000000" stroke-width="0.8"/>
<rect x="483.65" y="52.36" width="4.32" height="4.32" fill="#000000" stroke="#000000" stroke-width="0.8"/>
<rect x="487.28" y="48.44" width="4.32" height="4.32" fill="#000000" stroke="#000000" stroke-width="0.8"/>
<rect x="491.88" y="51.09" width="4.32" height="4.32" fill="#000000" stroke="#000000" stroke-width="0.8"/>
<rect x="496.29" y="52.87" width="4.32" height="4.32" fill="#000000" stroke="#000000" stroke-width="0.8"/>
<rect x="498.92" y="49.74" width="4.32" height="4.32" fill="#000000" stroke="#000000" stroke-width="0.8"/>
<rect x="504.52" y="51.99" width="4.32" height="4.32" fill="#000000" stroke="#000000" stroke-width="0.8"/>
<rect x="508.04" y="51.12" width="4.32" height="4.32" fill="#000000" stroke="#000000" stroke-width="0.8"/>
<rect x="511.68" y="53.14" width="4.32" height="4.32" fill="#000000" stroke="#000000" stroke-width="0.8"/>
<rect x="515.69" y="53.30" width="4.32" height="4.32" fill="#000000" stroke="#000000" stroke-width="0.8"/>
<rect x="518.89" y="53.06" width="4.32" height="4.32" fill="#000000" stroke="#000000" stroke-width="0.8"/>
<rect x="523.82" y="55.52" width="4.32" height="4.32" fill="#000000" stroke="#000000" stroke-width="0.8"/>
<rect x="527.76" y="58.71" width="4.32" height="4.32" fill="#000000" stroke="#000000" stroke-width="0.8"/>
<rect x="531.79" y="56.84" width="4.32" height="4.32" fill="#000000" stroke="#000000" stroke-width="0.8"/>
<rect x="535.02" y="57.04" width="4.32" height="4.32" fill="#000000" stroke="#000000" stroke-width="0.8"/>
<rect x="538.10" y="58.26" width="3.84" height="3.84" fill="#000000" stroke="#000000" stroke-width="0.8"/>
<rect x="544.05" y="57.38" width="3.84" height="3.84" fill="#000000" stroke="#000000" stroke-width="0.8"/>
<rect x="549.10" y="59.06" width="3.84" height="3.84" fill="#000000" stroke="#000000" stroke-width="0.8"/>
<rect x="555.48" y="58.67" width="3.84" height="3.84" fill="#000000" stroke="#000000" stroke-width="0.8"/>
<rect x="560.79" y="61.09" width="3.84" height="3.84" fill="#000000" stroke="#000000" stroke-width="0.8"/>
<rect x="564.97" y="59.04" width="3.84" height="3.84" fill="#000000" stroke="#000000" stroke-width="0.8"/>
<rect x="571.06" y="62.97" width="3.84" height="3.84" fill="#000000" stroke="#000000" stroke-width="0.8"/>
<rect x="577.16" y="59.82" width="3.84" height="3.84" fill="#000000" stroke="#000000" stroke-width="0.8"/>
<rect x="581.21" y="60.07" width="3.84" height="3.84" fill="#000000" stroke="#000000" stroke-width="0.8"/>
<rect x="588.37" y="67.09" width="3.84" height="3.84" fill="#000000" stroke="#000000" stroke-width="0.8"/>
<line x1="599.00" y1="72.00" x2="599.00" y2="76.00" stroke="#0000cc" stroke-width="1.0"/>
<polygon points="599.0,72.2 599.5,73.3 600.7,73.4 599.9,74.3 600.1,75.5 599.0,74.9 597.9,75.5 598.1,74.3 597.3,73.4 598.5,73.3" fill="#0000cc" stroke="#0000cc" stroke-width="0.8" stroke-linejoin="round"/>
<line x1="601.00" y1="75.00" x2="601.00" y2="79.00" stroke="#0000cc" stroke-width="1.0"/>
<polygon points="601.0,75.2 601.5,76.3 602.7,76.4 601.9,77.3 602.1,78.5 601.0,77.9 599.9,78.5 600.1,77.3 599.3,76.4 600.5,76.3" fill="#0000cc" stroke="#0000cc" stroke-width="0.8" stroke-linejoin="round"/>
<line x1="602.50" y1="78.00" x2="602.50" y2="82.00" stroke="#0000cc" stroke-width="1.0"/>
<polygon points="602.5,78.2 603.0,79.3 604.2,79.4 603.4,80.3 603.6,81.5 602.5,80.9 601.4,81.5 601.6,80.3 600.8,79.4 602.0,79.3" fill="#0000cc" stroke="#0000cc" stroke-width="0.8" stroke-linejoin="round"/>
<line x1="604.00" y1="73.00" x2="604.00" y2="77.00" stroke="#0000cc" stroke-width="1.0"/>
<polygon points="604.0,73.2 604.5,74.3 605.7,74.4 604.9,75.3 605.1,76.5 604.0,75.9 602.9,76.5 603.1,75.3 602.3,74.4 603.5,74.3" fill="#0000cc" stroke="#0000cc" stroke-width="0.8" stroke-linejoin="round"/>
<rect x="405.40" y="29.60" width="4.80" height="4.80" fill="#000000" stroke="#000000" stroke-width="0.8"/>
<rect x="405.40" y="33.10" width="4.80" height="4.80" fill="#000000" stroke="#000000" stroke-width="0.8"/>
<rect x="408.10" y="32.10" width="4.80" height="4.80" fill="#000000" stroke="#000000" stroke-width="0.8"/>
<rect x="406.60" y="35.10" width="4.80" height="4.80" fill="#000000" stroke="#000000" stroke-width="0.8"/>
<rect x="583.60" y="58.60" width="4.80" height="4.80" fill="#000000" stroke="#000000" stroke-width="0.8"/>
<rect x="585.60" y="60.60" width="4.80" height="4.80" fill="#000000" stroke="#000000" stroke-width="0.8"/>
<rect x="590.60" y="59.60" width="4.80" height="4.80" fill="#000000" stroke="#000000" stroke-width="0.8"/>
<rect x="592.60" y="62.60" width="4.80" height="4.80" fill="#000000" stroke="#000000" stroke-width="0.8"/>
<rect x="593.60" y="65.10" width="4.80" height="4.80" fill="#000000" stroke="#000000" stroke-width="0.8"/>
<rect x="597.10" y="82.60" width="4.80" height="4.80" fill="#000000" stroke="#000000" stroke-width="0.8"/>
<rect x="598.10" y="85.60" width="4.80" height="4.80" fill="#000000" stroke="#000000" stroke-width="0.8"/>
<rect x="598.60" y="88.60" width="4.80" height="4.80" fill="#000000" stroke="#000000" stroke-width="0.8"/>
<rect x="599.60" y="91.60" width="4.80" height="4.80" fill="#000000" stroke="#000000" stroke-width="0.8"/>
<rect x="600.60" y="94.60" width="4.80" height="4.80" fill="#000000" stroke="#000000" stroke-width="0.8"/>
<rect x="570.60" y="58.10" width="4.80" height="4.80" fill="#000000" stroke="#000000" stroke-width="0.8"/>
<rect x="573.60" y="59.10" width="4.80" height="4.80" fill="#000000" stroke="#000000" stroke-width="0.8"/>
<path d="M406.3,41.8 C411.9,42.5 426.1,43.8 440.0,45.8 C453.9,47.8 477.9,52.0 490.0,54.0 C502.1,56.0 504.2,56.5 512.5,57.7 C520.8,58.9 532.9,60.2 540.0,61.0 C547.1,61.8 549.2,61.7 555.0,62.3 C560.8,62.9 570.0,63.8 575.0,64.5 C580.0,65.2 581.8,65.5 585.0,66.5 C588.2,67.5 591.4,68.9 594.3,70.7 C597.2,72.5 600.0,75.1 602.2,77.5 C604.4,79.9 605.7,82.4 607.5,85.0 C609.3,87.6 611.4,90.8 613.0,93.0 C614.6,95.2 616.0,97.2 617.0,98.5 C618.0,99.8 618.7,100.6 619.0,101.0" fill="none" stroke="#0000cc" stroke-width="2.0" stroke-linejoin="round" stroke-linecap="butt"/>
<path d="M404.7,39.4 C408.5,39.9 420.9,41.4 427.4,42.2 C433.9,43.0 438.2,43.5 443.6,44.3 C449.0,45.0 454.4,45.9 459.8,46.7 C465.2,47.5 471.0,48.2 476.0,49.1 C481.0,50.0 483.9,50.9 490.0,52.1 C496.1,53.4 504.2,55.1 512.5,56.6 C520.8,58.1 532.9,60.0 540.0,61.3 C547.1,62.5 550.7,63.3 555.0,64.1 C559.3,64.9 562.2,65.3 566.0,66.2 C569.8,67.1 573.7,67.8 577.5,69.3 C581.3,70.8 585.9,73.4 588.7,75.1 C591.5,76.8 592.8,78.0 594.3,79.3 C595.8,80.6 596.6,81.5 598.0,82.8 C599.4,84.1 600.2,85.1 602.4,86.9 C604.6,88.7 609.0,91.6 611.4,93.7 C613.8,95.8 615.7,98.1 617.0,99.3 C618.3,100.5 618.7,100.7 619.0,101.0" fill="none" stroke="#ff0000" stroke-width="2.0" stroke-linejoin="round" stroke-linecap="butt"/>
<path d="M406.3,36.2 C409.8,36.9 418.5,38.5 427.4,40.2 C436.3,42.0 449.4,44.5 459.8,46.7 C470.2,48.9 473.7,50.9 490.0,53.2 C506.3,55.5 543.1,59.0 557.4,60.5 C571.7,62.0 570.9,61.8 576.0,62.5 C581.1,63.2 585.0,63.5 588.0,65.0 C591.0,66.5 592.2,69.0 594.0,71.5 C595.8,74.0 597.7,77.6 599.0,80.3 C600.3,83.0 600.8,85.2 601.6,87.9 C602.5,90.7 603.6,94.8 604.1,96.8 C604.6,98.8 604.7,99.5 604.8,100.0" fill="none" stroke="#000000" stroke-width="2.0" stroke-linejoin="round" stroke-linecap="butt"/>
</g>
<g clip-path="url(#c11)">
<line x1="616.5" y1="0" x2="616.5" y2="400" stroke="#000040" stroke-width="1"/>
<line x1="609.5" y1="0" x2="609.5" y2="400" stroke="#000" stroke-width="1"/>
<line x1="612.5" y1="0" x2="612.5" y2="400" stroke="#555" stroke-width="1"/>
<line x1="613.5" y1="0" x2="613.5" y2="400" stroke="#aaa" stroke-width="1"/>
<line x1="614.5" y1="0" x2="614.5" y2="400" stroke="#ff9090" stroke-width="1"/>
<line x1="615.5" y1="0" x2="615.5" y2="400" stroke="#d00030" stroke-width="1"/>
<line x1="607.40" y1="136.00" x2="607.40" y2="167.40" stroke="#000000" stroke-width="1.0"/>
<rect x="605.40" y="163.20" width="3.60" height="3.60" fill="#000000" stroke="#000000" stroke-width="0.8"/>
<rect x="402.47" y="125.60" width="4.32" height="4.32" fill="#000000" stroke="#000000" stroke-width="0.8"/>
<rect x="405.76" y="127.23" width="4.32" height="4.32" fill="#000000" stroke="#000000" stroke-width="0.8"/>
<rect x="410.85" y="127.55" width="4.32" height="4.32" fill="#000000" stroke="#000000" stroke-width="0.8"/>
<rect x="414.66" y="129.47" width="4.32" height="4.32" fill="#000000" stroke="#000000" stroke-width="0.8"/>
<rect x="420.20" y="131.78" width="4.32" height="4.32" fill="#000000" stroke="#000000" stroke-width="0.8"/>
<rect x="423.57" y="131.60" width="4.32" height="4.32" fill="#000000" stroke="#000000" stroke-width="0.8"/>
<rect x="429.11" y="132.19" width="4.32" height="4.32" fill="#000000" stroke="#000000" stroke-width="0.8"/>
<rect x="433.50" y="138.51" width="4.32" height="4.32" fill="#000000" stroke="#000000" stroke-width="0.8"/>
<rect x="437.05" y="139.66" width="4.32" height="4.32" fill="#000000" stroke="#000000" stroke-width="0.8"/>
<rect x="442.94" y="139.64" width="4.32" height="4.32" fill="#000000" stroke="#000000" stroke-width="0.8"/>
<rect x="447.82" y="139.69" width="4.32" height="4.32" fill="#000000" stroke="#000000" stroke-width="0.8"/>
<rect x="451.22" y="141.17" width="4.32" height="4.32" fill="#000000" stroke="#000000" stroke-width="0.8"/>
<rect x="456.33" y="145.97" width="4.32" height="4.32" fill="#000000" stroke="#000000" stroke-width="0.8"/>
<rect x="460.62" y="145.08" width="4.32" height="4.32" fill="#000000" stroke="#000000" stroke-width="0.8"/>
<rect x="465.01" y="144.37" width="4.32" height="4.32" fill="#000000" stroke="#000000" stroke-width="0.8"/>
<rect x="468.41" y="144.59" width="4.32" height="4.32" fill="#000000" stroke="#000000" stroke-width="0.8"/>
<rect x="474.07" y="145.17" width="4.32" height="4.32" fill="#000000" stroke="#000000" stroke-width="0.8"/>
<rect x="477.58" y="148.31" width="3.36" height="3.36" fill="#000000" stroke="#000000" stroke-width="0.8"/>
<rect x="481.83" y="148.68" width="3.36" height="3.36" fill="#000000" stroke="#000000" stroke-width="0.8"/>
<rect x="483.93" y="149.01" width="3.36" height="3.36" fill="#000000" stroke="#000000" stroke-width="0.8"/>
<rect x="487.37" y="148.49" width="3.36" height="3.36" fill="#000000" stroke="#000000" stroke-width="0.8"/>
<rect x="491.37" y="149.76" width="3.36" height="3.36" fill="#000000" stroke="#000000" stroke-width="0.8"/>
<rect x="493.59" y="151.56" width="3.36" height="3.36" fill="#000000" stroke="#000000" stroke-width="0.8"/>
<rect x="496.71" y="151.20" width="3.36" height="3.36" fill="#000000" stroke="#000000" stroke-width="0.8"/>
<rect x="501.46" y="152.64" width="3.36" height="3.36" fill="#000000" stroke="#000000" stroke-width="0.8"/>
<rect x="502.94" y="151.74" width="3.36" height="3.36" fill="#000000" stroke="#000000" stroke-width="0.8"/>
<rect x="507.24" y="152.74" width="3.36" height="3.36" fill="#000000" stroke="#000000" stroke-width="0.8"/>
<rect x="511.19" y="155.54" width="3.36" height="3.36" fill="#000000" stroke="#000000" stroke-width="0.8"/>
<rect x="513.02" y="154.98" width="3.36" height="3.36" fill="#000000" stroke="#000000" stroke-width="0.8"/>
<rect x="516.53" y="155.26" width="3.36" height="3.36" fill="#000000" stroke="#000000" stroke-width="0.8"/>
<rect x="519.04" y="155.96" width="3.36" height="3.36" fill="#000000" stroke="#000000" stroke-width="0.8"/>
<rect x="524.00" y="156.77" width="3.36" height="3.36" fill="#000000" stroke="#000000" stroke-width="0.8"/>
<rect x="525.72" y="156.34" width="3.36" height="3.36" fill="#000000" stroke="#000000" stroke-width="0.8"/>
<rect x="530.15" y="157.36" width="3.36" height="3.36" fill="#000000" stroke="#000000" stroke-width="0.8"/>
<rect x="532.34" y="158.29" width="3.36" height="3.36" fill="#000000" stroke="#000000" stroke-width="0.8"/>
<rect x="536.49" y="159.23" width="3.36" height="3.36" fill="#000000" stroke="#000000" stroke-width="0.8"/>
<rect x="538.13" y="160.07" width="3.36" height="3.36" fill="#000000" stroke="#000000" stroke-width="0.8"/>
<rect x="542.80" y="158.39" width="3.36" height="3.36" fill="#000000" stroke="#000000" stroke-width="0.8"/>
<rect x="544.97" y="160.62" width="3.36" height="3.36" fill="#000000" stroke="#000000" stroke-width="0.8"/>
<rect x="548.39" y="160.94" width="3.36" height="3.36" fill="#000000" stroke="#000000" stroke-width="0.8"/>
<rect x="552.31" y="161.88" width="3.36" height="3.36" fill="#000000" stroke="#000000" stroke-width="0.8"/>
<rect x="555.23" y="160.04" width="3.36" height="3.36" fill="#000000" stroke="#000000" stroke-width="0.8"/>
<rect x="558.90" y="161.01" width="3.36" height="3.36" fill="#000000" stroke="#000000" stroke-width="0.8"/>
<rect x="562.45" y="162.11" width="3.36" height="3.36" fill="#000000" stroke="#000000" stroke-width="0.8"/>
<rect x="565.48" y="163.37" width="3.36" height="3.36" fill="#000000" stroke="#000000" stroke-width="0.8"/>
<rect x="568.41" y="163.02" width="3.36" height="3.36" fill="#000000" stroke="#000000" stroke-width="0.8"/>
<rect x="571.61" y="162.44" width="3.36" height="3.36" fill="#000000" stroke="#000000" stroke-width="0.8"/>
<rect x="573.80" y="165.62" width="3.36" height="3.36" fill="#000000" stroke="#000000" stroke-width="0.8"/>
<rect x="577.78" y="164.00" width="3.36" height="3.36" fill="#000000" stroke="#000000" stroke-width="0.8"/>
<rect x="580.66" y="163.66" width="3.36" height="3.36" fill="#000000" stroke="#000000" stroke-width="0.8"/>
<rect x="584.32" y="166.38" width="3.36" height="3.36" fill="#000000" stroke="#000000" stroke-width="0.8"/>
<rect x="587.26" y="165.46" width="3.36" height="3.36" fill="#000000" stroke="#000000" stroke-width="0.8"/>
<rect x="589.74" y="167.45" width="3.36" height="3.36" fill="#000000" stroke="#000000" stroke-width="0.8"/>
<rect x="592.81" y="169.24" width="3.36" height="3.36" fill="#000000" stroke="#000000" stroke-width="0.8"/>
<rect x="595.93" y="172.17" width="3.36" height="3.36" fill="#000000" stroke="#000000" stroke-width="0.8"/>
<rect x="598.98" y="172.71" width="3.36" height="3.36" fill="#000000" stroke="#000000" stroke-width="0.8"/>
<line x1="405.39" y1="119.64" x2="405.39" y2="127.58" stroke="#0000cc" stroke-width="1.0"/>
<polygon points="405.4,121.4 406.0,122.7 407.5,122.9 406.4,123.9 406.7,125.4 405.4,124.7 404.1,125.4 404.3,123.9 403.3,122.9 404.7,122.7" fill="#0000cc" stroke="#0000cc" stroke-width="0.8" stroke-linejoin="round"/>
<line x1="408.63" y1="120.50" x2="408.63" y2="127.86" stroke="#0000cc" stroke-width="1.0"/>
<polygon points="408.6,122.0 409.3,123.3 410.7,123.5 409.7,124.5 409.9,125.9 408.6,125.3 407.3,125.9 407.6,124.5 406.6,123.5 408.0,123.3" fill="#0000cc" stroke="#0000cc" stroke-width="0.8" stroke-linejoin="round"/>
<line x1="413.73" y1="125.10" x2="413.73" y2="133.66" stroke="#0000cc" stroke-width="1.0"/>
<polygon points="413.7,127.2 414.4,128.5 415.8,128.7 414.8,129.7 415.0,131.1 413.7,130.5 412.4,131.1 412.7,129.7 411.6,128.7 413.1,128.5" fill="#0000cc" stroke="#0000cc" stroke-width="0.8" stroke-linejoin="round"/>
<line x1="417.63" y1="121.43" x2="417.63" y2="129.90" stroke="#0000cc" stroke-width="1.0"/>
<polygon points="417.6,123.5 418.3,124.8 419.7,125.0 418.7,126.0 418.9,127.4 417.6,126.8 416.3,127.4 416.6,126.0 415.6,125.0 417.0,124.8" fill="#0000cc" stroke="#0000cc" stroke-width="0.8" stroke-linejoin="round"/>
<line x1="423.83" y1="128.90" x2="423.83" y2="134.73" stroke="#0000cc" stroke-width="1.0"/>
<polygon points="423.8,129.6 424.5,130.9 425.9,131.1 424.9,132.2 425.1,133.6 423.8,132.9 422.5,133.6 422.8,132.2 421.8,131.1 423.2,130.9" fill="#0000cc" stroke="#0000cc" stroke-width="0.8" stroke-linejoin="round"/>
<line x1="426.72" y1="128.90" x2="426.72" y2="134.04" stroke="#0000cc" stroke-width="1.0"/>
<polygon points="426.7,129.3 427.4,130.6 428.8,130.8 427.8,131.8 428.0,133.2 426.7,132.6 425.4,133.2 425.7,131.8 424.6,130.8 426.1,130.6" fill="#0000cc" stroke="#0000cc" stroke-width="0.8" stroke-linejoin="round"/>
<line x1="432.70" y1="130.51" x2="432.70" y2="138.81" stroke="#0000cc" stroke-width="1.0"/>
<polygon points="432.7,132.5 433.3,133.8 434.8,134.0 433.7,135.0 434.0,136.4 432.7,135.8 431.4,136.4 431.7,135.0 430.6,134.0 432.1,133.8" fill="#0000cc" stroke="#0000cc" stroke-width="0.8" stroke-linejoin="round"/>
<line x1="436.76" y1="129.09" x2="436.76" y2="135.24" stroke="#0000cc" stroke-width="1.0"/>
<polygon points="436.8,130.0 437.4,131.3 438.8,131.5 437.8,132.5 438.0,133.9 436.8,133.3 435.5,133.9 435.7,132.5 434.7,131.5 436.1,131.3" fill="#0000cc" stroke="#0000cc" stroke-width="0.8" stroke-linejoin="round"/>
<line x1="440.20" y1="135.64" x2="440.20" y2="141.46" stroke="#0000cc" stroke-width="1.0"/>
<polygon points="440.2,136.4 440.8,137.7 442.3,137.9 441.2,138.9 441.5,140.3 440.2,139.6 438.9,140.3 439.2,138.9 438.1,137.9 439.6,137.7" fill="#0000cc" stroke="#0000cc" stroke-width="0.8" stroke-linejoin="round"/>
<line x1="445.14" y1="135.86" x2="445.14" y2="142.55" stroke="#0000cc" stroke-width="1.0"/>
<polygon points="445.1,137.0 445.8,138.3 447.2,138.5 446.2,139.5 446.4,141.0 445.1,140.3 443.9,141.0 444.1,139.5 443.1,138.5 444.5,138.3" fill="#0000cc" stroke="#0000cc" stroke-width="0.8" stroke-linejoin="round"/>
<line x1="449.04" y1="134.28" x2="449.04" y2="142.14" stroke="#0000cc" stroke-width="1.0"/>
<polygon points="449.0,136.0 449.7,137.3 451.1,137.5 450.1,138.5 450.3,140.0 449.0,139.3 447.8,140.0 448.0,138.5 447.0,137.5 448.4,137.3" fill="#0000cc" stroke="#0000cc" stroke-width="0.8" stroke-linejoin="round"/>
<line x1="454.24" y1="138.08" x2="454.24" y2="144.37" stroke="#0000cc" stroke-width="1.0"/>
<polygon points="454.2,139.0 454.9,140.3 456.3,140.6 455.3,141.6 455.5,143.0 454.2,142.3 453.0,143.0 453.2,141.6 452.2,140.6 453.6,140.3" fill="#0000cc" stroke="#0000cc" stroke-width="0.8" stroke-linejoin="round"/>
<line x1="459.93" y1="133.40" x2="459.93" y2="140.88" stroke="#0000cc" stroke-width="1.0"/>
<polygon points="459.9,135.0 460.6,136.3 462.0,136.5 461.0,137.5 461.2,138.9 459.9,138.2 458.6,138.9 458.9,137.5 457.8,136.5 459.3,136.3" fill="#0000cc" stroke="#0000cc" stroke-width="0.8" stroke-linejoin="round"/>
<line x1="462.56" y1="138.30" x2="462.56" y2="144.95" stroke="#0000cc" stroke-width="1.0"/>
<polygon points="462.6,139.4 463.2,140.7 464.6,140.9 463.6,142.0 463.8,143.4 462.6,142.7 461.3,143.4 461.5,142.0 460.5,140.9 461.9,140.7" fill="#0000cc" stroke="#0000cc" stroke-width="0.8" stroke-linejoin="round"/>
<line x1="467.87" y1="139.40" x2="467.87" y2="147.22" stroke="#0000cc" stroke-width="1.0"/>
<polygon points="467.9,141.1 468.5,142.4 470.0,142.6 468.9,143.6 469.2,145.1 467.9,144.4 466.6,145.1 466.8,143.6 465.8,142.6 467.2,142.4" fill="#0000cc" stroke="#0000cc" stroke-width="0.8" stroke-linejoin="round"/>
<line x1="472.58" y1="139.46" x2="472.58" y2="145.33" stroke="#0000cc" stroke-width="1.0"/>
<polygon points="472.6,140.2 473.2,141.5 474.7,141.7 473.6,142.7 473.9,144.2 472.6,143.5 471.3,144.2 471.5,142.7 470.5,141.7 471.9,141.5" fill="#0000cc" stroke="#0000cc" stroke-width="0.8" stroke-linejoin="round"/>
<line x1="477.72" y1="145.78" x2="477.72" y2="151.46" stroke="#0000cc" stroke-width="1.0"/>
<polygon points="477.7,146.4 478.4,147.7 479.8,147.9 478.8,149.0 479.0,150.4 477.7,149.7 476.4,150.4 476.7,149.0 475.6,147.9 477.1,147.7" fill="#0000cc" stroke="#0000cc" stroke-width="0.8" stroke-linejoin="round"/>
<line x1="479.00" y1="146.62" x2="479.00" y2="149.03" stroke="#0000cc" stroke-width="1.0"/>
<polygon points="479.0,146.1 479.5,147.1 480.6,147.3 479.8,148.1 480.0,149.2 479.0,148.7 478.0,149.2 478.2,148.1 477.4,147.3 478.5,147.1" fill="#0000cc" stroke="#0000cc" stroke-width="0.8" stroke-linejoin="round"/>
<line x1="486.02" y1="147.64" x2="486.02" y2="150.62" stroke="#0000cc" stroke-width="1.0"/>
<polygon points="486.0,147.4 486.5,148.4 487.7,148.6 486.8,149.4 487.0,150.5 486.0,150.0 485.0,150.5 485.2,149.4 484.4,148.6 485.5,148.4" fill="#0000cc" stroke="#0000cc" stroke-width="0.8" stroke-linejoin="round"/>
<line x1="490.98" y1="148.69" x2="490.98" y2="152.28" stroke="#0000cc" stroke-width="1.0"/>
<polygon points="491.0,148.8 491.5,149.8 492.6,150.0 491.8,150.8 492.0,151.9 491.0,151.3 490.0,151.9 490.2,150.8 489.3,150.0 490.5,149.8" fill="#0000cc" stroke="#0000cc" stroke-width="0.8" stroke-linejoin="round"/>
<line x1="495.87" y1="148.74" x2="495.87" y2="152.41" stroke="#0000cc" stroke-width="1.0"/>
<polygon points="495.9,148.8 496.4,149.9 497.5,150.0 496.7,150.8 496.9,152.0 495.9,151.4 494.9,152.0 495.0,150.8 494.2,150.0 495.4,149.9" fill="#0000cc" stroke="#0000cc" stroke-width="0.8" stroke-linejoin="round"/>
<line x1="501.52" y1="150.74" x2="501.52" y2="154.62" stroke="#0000cc" stroke-width="1.0"/>
<polygon points="501.5,151.0 502.0,152.0 503.2,152.1 502.3,152.9 502.5,154.1 501.5,153.5 500.5,154.1 500.7,152.9 499.9,152.1 501.0,152.0" fill="#0000cc" stroke="#0000cc" stroke-width="0.8" stroke-linejoin="round"/>
<line x1="507.07" y1="152.62" x2="507.07" y2="155.62" stroke="#0000cc" stroke-width="1.0"/>
<polygon points="507.1,152.4 507.6,153.4 508.7,153.6 507.9,154.4 508.1,155.5 507.1,155.0 506.1,155.5 506.2,154.4 505.4,153.6 506.6,153.4" fill="#0000cc" stroke="#0000cc" stroke-width="0.8" stroke-linejoin="round"/>
<line x1="512.22" y1="154.70" x2="512.22" y2="157.97" stroke="#0000cc" stroke-width="1.0"/>
<polygon points="512.2,154.6 512.7,155.6 513.9,155.8 513.0,156.6 513.2,157.7 512.2,157.2 511.2,157.7 511.4,156.6 510.6,155.8 511.7,155.6" fill="#0000cc" stroke="#0000cc" stroke-width="0.8" stroke-linejoin="round"/>
<line x1="517.66" y1="154.48" x2="517.66" y2="158.06" stroke="#0000cc" stroke-width="1.0"/>
<polygon points="517.7,154.5 518.2,155.6 519.3,155.7 518.5,156.5 518.7,157.7 517.7,157.1 516.6,157.7 516.8,156.5 516.0,155.7 517.2,155.6" fill="#0000cc" stroke="#0000cc" stroke-width="0.8" stroke-linejoin="round"/>
<line x1="524.26" y1="154.36" x2="524.26" y2="157.07" stroke="#0000cc" stroke-width="1.0"/>
<polygon points="524.3,154.0 524.8,155.0 525.9,155.2 525.1,156.0 525.3,157.1 524.3,156.6 523.2,157.1 523.4,156.0 522.6,155.2 523.7,155.0" fill="#0000cc" stroke="#0000cc" stroke-width="0.8" stroke-linejoin="round"/>
<line x1="529.30" y1="155.48" x2="529.30" y2="157.65" stroke="#0000cc" stroke-width="1.0"/>
<polygon points="529.3,154.8 529.8,155.9 530.9,156.0 530.1,156.8 530.3,158.0 529.3,157.4 528.3,158.0 528.5,156.8 527.7,156.0 528.8,155.9" fill="#0000cc" stroke="#0000cc" stroke-width="0.8" stroke-linejoin="round"/>
<line x1="535.78" y1="159.56" x2="535.78" y2="161.61" stroke="#0000cc" stroke-width="1.0"/>
<polygon points="535.8,158.9 536.3,159.9 537.4,160.0 536.6,160.8 536.8,162.0 535.8,161.4 534.8,162.0 535.0,160.8 534.1,160.0 535.3,159.9" fill="#0000cc" stroke="#0000cc" stroke-width="0.8" stroke-linejoin="round"/>
<line x1="539.91" y1="158.23" x2="539.91" y2="161.23" stroke="#0000cc" stroke-width="1.0"/>
<polygon points="539.9,158.0 540.4,159.0 541.6,159.2 540.7,160.0 540.9,161.1 539.9,160.6 538.9,161.1 539.1,160.0 538.3,159.2 539.4,159.0" fill="#0000cc" stroke="#0000cc" stroke-width="0.8" stroke-linejoin="round"/>
<line x1="545.76" y1="161.05" x2="545.76" y2="164.82" stroke="#0000cc" stroke-width="1.0"/>
<polygon points="545.8,161.2 546.3,162.2 547.4,162.4 546.6,163.2 546.8,164.3 545.8,163.8 544.7,164.3 544.9,163.2 544.1,162.4 545.3,162.2" fill="#0000cc" stroke="#0000cc" stroke-width="0.8" stroke-linejoin="round"/>
<line x1="550.97" y1="158.63" x2="550.97" y2="162.13" stroke="#0000cc" stroke-width="1.0"/>
<polygon points="551.0,158.7 551.5,159.7 552.6,159.8 551.8,160.6 552.0,161.8 551.0,161.2 550.0,161.8 550.1,160.6 549.3,159.8 550.5,159.7" fill="#0000cc" stroke="#0000cc" stroke-width="0.8" stroke-linejoin="round"/>
<line x1="557.51" y1="161.49" x2="557.51" y2="164.79" stroke="#0000cc" stroke-width="1.0"/>
<polygon points="557.5,161.4 558.0,162.4 559.1,162.6 558.3,163.4 558.5,164.5 557.5,164.0 556.5,164.5 556.7,163.4 555.9,162.6 557.0,162.4" fill="#0000cc" stroke="#0000cc" stroke-width="0.8" stroke-linejoin="round"/>
<line x1="562.20" y1="161.67" x2="562.20" y2="165.35" stroke="#0000cc" stroke-width="1.0"/>
<polygon points="562.2,161.8 562.7,162.8 563.8,163.0 563.0,163.8 563.2,164.9 562.2,164.4 561.2,164.9 561.4,163.8 560.6,163.0 561.7,162.8" fill="#0000cc" stroke="#0000cc" stroke-width="0.8" stroke-linejoin="round"/>
<line x1="568.32" y1="163.78" x2="568.32" y2="167.26" stroke="#0000cc" stroke-width="1.0"/>
<polygon points="568.3,163.8 568.8,164.8 570.0,165.0 569.1,165.8 569.3,166.9 568.3,166.4 567.3,166.9 567.5,165.8 566.7,165.0 567.8,164.8" fill="#0000cc" stroke="#0000cc" stroke-width="0.8" stroke-linejoin="round"/>
<line x1="572.84" y1="162.79" x2="572.84" y2="165.95" stroke="#0000cc" stroke-width="1.0"/>
<polygon points="572.8,162.6 573.3,163.7 574.5,163.8 573.7,164.6 573.9,165.8 572.8,165.2 571.8,165.8 572.0,164.6 571.2,163.8 572.3,163.7" fill="#0000cc" stroke="#0000cc" stroke-width="0.8" stroke-linejoin="round"/>
<line x1="578.25" y1="166.82" x2="578.25" y2="169.75" stroke="#0000cc" stroke-width="1.0"/>
<polygon points="578.3,166.6 578.8,167.6 579.9,167.8 579.1,168.6 579.3,169.7 578.3,169.1 577.2,169.7 577.4,168.6 576.6,167.8 577.7,167.6" fill="#0000cc" stroke="#0000cc" stroke-width="0.8" stroke-linejoin="round"/>
<line x1="585.27" y1="168.56" x2="585.27" y2="171.16" stroke="#0000cc" stroke-width="1.0"/>
<polygon points="585.3,168.1 585.8,169.2 586.9,169.3 586.1,170.1 586.3,171.3 585.3,170.7 584.3,171.3 584.4,170.1 583.6,169.3 584.8,169.2" fill="#0000cc" stroke="#0000cc" stroke-width="0.8" stroke-linejoin="round"/>
<line x1="590.41" y1="170.35" x2="590.41" y2="174.03" stroke="#0000cc" stroke-width="1.0"/>
<polygon points="590.4,170.5 590.9,171.5 592.0,171.7 591.2,172.5 591.4,173.6 590.4,173.1 589.4,173.6 589.6,172.5 588.8,171.7 589.9,171.5" fill="#0000cc" stroke="#0000cc" stroke-width="0.8" stroke-linejoin="round"/>
<line x1="594.81" y1="172.39" x2="594.81" y2="175.04" stroke="#0000cc" stroke-width="1.0"/>
<polygon points="594.8,172.0 595.3,173.0 596.4,173.2 595.6,174.0 595.8,175.1 594.8,174.6 593.8,175.1 594.0,174.0 593.2,173.2 594.3,173.0" fill="#0000cc" stroke="#0000cc" stroke-width="0.8" stroke-linejoin="round"/>
<line x1="406.04" y1="112.31" x2="406.04" y2="117.95" stroke="#ff0000" stroke-width="1.0"/>
<polygon points="406.0,112.7 406.8,114.2 408.3,114.4 407.2,115.5 407.5,117.1 406.0,116.3 404.6,117.1 404.9,115.5 403.7,114.4 405.3,114.2" fill="#ff0000" stroke="#ff0000" stroke-width="0.8" stroke-linejoin="round"/>
<line x1="411.16" y1="114.71" x2="411.16" y2="122.62" stroke="#ff0000" stroke-width="1.0"/>
<polygon points="411.2,116.3 411.9,117.7 413.5,117.9 412.3,119.0 412.6,120.6 411.2,119.9 409.7,120.6 410.0,119.0 408.9,117.9 410.4,117.7" fill="#ff0000" stroke="#ff0000" stroke-width="0.8" stroke-linejoin="round"/>
<line x1="416.20" y1="118.72" x2="416.20" y2="127.57" stroke="#ff0000" stroke-width="1.0"/>
<polygon points="416.2,120.7 416.9,122.2 418.5,122.4 417.4,123.5 417.6,125.1 416.2,124.4 414.8,125.1 415.1,123.5 413.9,122.4 415.5,122.2" fill="#ff0000" stroke="#ff0000" stroke-width="0.8" stroke-linejoin="round"/>
<line x1="421.70" y1="112.32" x2="421.70" y2="120.50" stroke="#ff0000" stroke-width="1.0"/>
<polygon points="421.7,114.0 422.4,115.4 424.0,115.7 422.9,116.8 423.1,118.4 421.7,117.6 420.3,118.4 420.6,116.8 419.4,115.7 421.0,115.4" fill="#ff0000" stroke="#ff0000" stroke-width="0.8" stroke-linejoin="round"/>
<line x1="428.47" y1="122.40" x2="428.47" y2="129.14" stroke="#ff0000" stroke-width="1.0"/>
<polygon points="428.5,123.4 429.2,124.8 430.8,125.0 429.6,126.1 429.9,127.7 428.5,127.0 427.0,127.7 427.3,126.1 426.2,125.0 427.8,124.8" fill="#ff0000" stroke="#ff0000" stroke-width="0.8" stroke-linejoin="round"/>
<line x1="432.89" y1="120.40" x2="432.89" y2="126.22" stroke="#ff0000" stroke-width="1.0"/>
<polygon points="432.9,120.9 433.6,122.3 435.2,122.6 434.0,123.7 434.3,125.3 432.9,124.5 431.5,125.3 431.7,123.7 430.6,122.6 432.2,122.3" fill="#ff0000" stroke="#ff0000" stroke-width="0.8" stroke-linejoin="round"/>
<line x1="438.78" y1="122.70" x2="438.78" y2="127.83" stroke="#ff0000" stroke-width="1.0"/>
<polygon points="438.8,122.9 439.5,124.3 441.1,124.5 439.9,125.6 440.2,127.2 438.8,126.5 437.4,127.2 437.6,125.6 436.5,124.5 438.1,124.3" fill="#ff0000" stroke="#ff0000" stroke-width="0.8" stroke-linejoin="round"/>
<line x1="444.30" y1="125.05" x2="444.30" y2="132.05" stroke="#ff0000" stroke-width="1.0"/>
<polygon points="444.3,126.1 445.0,127.6 446.6,127.8 445.4,128.9 445.7,130.5 444.3,129.8 442.9,130.5 443.1,128.9 442.0,127.8 443.6,127.6" fill="#ff0000" stroke="#ff0000" stroke-width="0.8" stroke-linejoin="round"/>
<line x1="450.26" y1="123.83" x2="450.26" y2="130.68" stroke="#ff0000" stroke-width="1.0"/>
<polygon points="450.3,124.8 451.0,126.3 452.6,126.5 451.4,127.6 451.7,129.2 450.3,128.5 448.8,129.2 449.1,127.6 448.0,126.5 449.6,126.3" fill="#ff0000" stroke="#ff0000" stroke-width="0.8" stroke-linejoin="round"/>
<line x1="454.78" y1="126.07" x2="454.78" y2="134.03" stroke="#ff0000" stroke-width="1.0"/>
<polygon points="454.8,127.6 455.5,129.1 457.1,129.3 455.9,130.4 456.2,132.0 454.8,131.3 453.4,132.0 453.6,130.4 452.5,129.3 454.1,129.1" fill="#ff0000" stroke="#ff0000" stroke-width="0.8" stroke-linejoin="round"/>
<line x1="461.82" y1="129.49" x2="461.82" y2="136.21" stroke="#ff0000" stroke-width="1.0"/>
<polygon points="461.8,130.4 462.5,131.9 464.1,132.1 463.0,133.2 463.2,134.8 461.8,134.1 460.4,134.8 460.7,133.2 459.5,132.1 461.1,131.9" fill="#ff0000" stroke="#ff0000" stroke-width="0.8" stroke-linejoin="round"/>
<line x1="466.65" y1="132.27" x2="466.65" y2="138.18" stroke="#ff0000" stroke-width="1.0"/>
<polygon points="466.6,132.8 467.4,134.2 468.9,134.5 467.8,135.6 468.1,137.2 466.6,136.4 465.2,137.2 465.5,135.6 464.4,134.5 465.9,134.2" fill="#ff0000" stroke="#ff0000" stroke-width="0.8" stroke-linejoin="round"/>
<line x1="472.44" y1="130.54" x2="472.44" y2="139.06" stroke="#ff0000" stroke-width="1.0"/>
<polygon points="472.4,132.4 473.2,133.8 474.7,134.1 473.6,135.2 473.9,136.8 472.4,136.0 471.0,136.8 471.3,135.2 470.1,134.1 471.7,133.8" fill="#ff0000" stroke="#ff0000" stroke-width="0.8" stroke-linejoin="round"/>
<line x1="478.05" y1="133.14" x2="478.05" y2="140.86" stroke="#ff0000" stroke-width="1.0"/>
<polygon points="478.0,134.6 478.8,136.0 480.3,136.3 479.2,137.4 479.5,139.0 478.0,138.2 476.6,139.0 476.9,137.4 475.8,136.3 477.3,136.0" fill="#ff0000" stroke="#ff0000" stroke-width="0.8" stroke-linejoin="round"/>
<line x1="480.28" y1="135.30" x2="480.28" y2="138.66" stroke="#ff0000" stroke-width="1.0"/>
<polygon points="480.3,135.1 480.8,136.2 482.0,136.4 481.2,137.3 481.4,138.5 480.3,137.9 479.2,138.5 479.4,137.3 478.5,136.4 479.7,136.2" fill="#ff0000" stroke="#ff0000" stroke-width="0.8" stroke-linejoin="round"/>
<line x1="484.13" y1="137.83" x2="484.13" y2="141.09" stroke="#ff0000" stroke-width="1.0"/>
<polygon points="484.1,137.6 484.7,138.7 485.9,138.9 485.0,139.7 485.2,140.9 484.1,140.4 483.0,140.9 483.3,139.7 482.4,138.9 483.6,138.7" fill="#ff0000" stroke="#ff0000" stroke-width="0.8" stroke-linejoin="round"/>
<line x1="489.56" y1="138.70" x2="489.56" y2="142.84" stroke="#ff0000" stroke-width="1.0"/>
<polygon points="489.6,138.9 490.1,140.0 491.3,140.2 490.4,141.1 490.6,142.3 489.6,141.7 488.5,142.3 488.7,141.1 487.8,140.2 489.0,140.0" fill="#ff0000" stroke="#ff0000" stroke-width="0.8" stroke-linejoin="round"/>
<line x1="493.76" y1="140.54" x2="493.76" y2="143.90" stroke="#ff0000" stroke-width="1.0"/>
<polygon points="493.8,140.4 494.3,141.5 495.5,141.7 494.6,142.5 494.8,143.7 493.8,143.1 492.7,143.7 492.9,142.5 492.0,141.7 493.2,141.5" fill="#ff0000" stroke="#ff0000" stroke-width="0.8" stroke-linejoin="round"/>
<line x1="498.24" y1="142.88" x2="498.24" y2="146.10" stroke="#ff0000" stroke-width="1.0"/>
<polygon points="498.2,142.7 498.8,143.7 500.0,143.9 499.1,144.8 499.3,146.0 498.2,145.4 497.2,146.0 497.4,144.8 496.5,143.9 497.7,143.7" fill="#ff0000" stroke="#ff0000" stroke-width="0.8" stroke-linejoin="round"/>
<line x1="502.85" y1="143.29" x2="502.85" y2="147.25" stroke="#ff0000" stroke-width="1.0"/>
<polygon points="502.9,143.4 503.4,144.5 504.6,144.7 503.7,145.6 503.9,146.8 502.9,146.2 501.8,146.8 502.0,145.6 501.1,144.7 502.3,144.5" fill="#ff0000" stroke="#ff0000" stroke-width="0.8" stroke-linejoin="round"/>
<line x1="507.56" y1="144.12" x2="507.56" y2="147.29" stroke="#ff0000" stroke-width="1.0"/>
<polygon points="507.6,143.9 508.1,145.0 509.3,145.1 508.4,146.0 508.6,147.2 507.6,146.6 506.5,147.2 506.7,146.0 505.8,145.1 507.0,145.0" fill="#ff0000" stroke="#ff0000" stroke-width="0.8" stroke-linejoin="round"/>
<line x1="511.48" y1="145.48" x2="511.48" y2="149.11" stroke="#ff0000" stroke-width="1.0"/>
<polygon points="511.5,145.5 512.0,146.5 513.2,146.7 512.4,147.6 512.6,148.8 511.5,148.2 510.4,148.8 510.6,147.6 509.7,146.7 510.9,146.5" fill="#ff0000" stroke="#ff0000" stroke-width="0.8" stroke-linejoin="round"/>
<line x1="515.32" y1="145.75" x2="515.32" y2="150.10" stroke="#ff0000" stroke-width="1.0"/>
<polygon points="515.3,146.1 515.9,147.2 517.1,147.4 516.2,148.2 516.4,149.4 515.3,148.8 514.2,149.4 514.4,148.2 513.6,147.4 514.8,147.2" fill="#ff0000" stroke="#ff0000" stroke-width="0.8" stroke-linejoin="round"/>
<line x1="521.38" y1="147.15" x2="521.38" y2="150.87" stroke="#ff0000" stroke-width="1.0"/>
<polygon points="521.4,147.2 521.9,148.3 523.1,148.4 522.3,149.3 522.5,150.5 521.4,149.9 520.3,150.5 520.5,149.3 519.6,148.4 520.8,148.3" fill="#ff0000" stroke="#ff0000" stroke-width="0.8" stroke-linejoin="round"/>
<line x1="525.08" y1="148.25" x2="525.08" y2="152.41" stroke="#ff0000" stroke-width="1.0"/>
<polygon points="525.1,148.5 525.6,149.6 526.8,149.8 526.0,150.6 526.2,151.8 525.1,151.2 524.0,151.8 524.2,150.6 523.3,149.8 524.5,149.6" fill="#ff0000" stroke="#ff0000" stroke-width="0.8" stroke-linejoin="round"/>
<line x1="529.52" y1="148.50" x2="529.52" y2="152.06" stroke="#ff0000" stroke-width="1.0"/>
<polygon points="529.5,148.4 530.1,149.5 531.3,149.7 530.4,150.6 530.6,151.8 529.5,151.2 528.4,151.8 528.6,150.6 527.8,149.7 529.0,149.5" fill="#ff0000" stroke="#ff0000" stroke-width="0.8" stroke-linejoin="round"/>
<line x1="533.82" y1="148.65" x2="533.82" y2="153.49" stroke="#ff0000" stroke-width="1.0"/>
<polygon points="533.8,149.2 534.4,150.3 535.6,150.5 534.7,151.4 534.9,152.6 533.8,152.0 532.7,152.6 532.9,151.4 532.1,150.5 533.3,150.3" fill="#ff0000" stroke="#ff0000" stroke-width="0.8" stroke-linejoin="round"/>
<line x1="537.92" y1="150.92" x2="537.92" y2="155.21" stroke="#ff0000" stroke-width="1.0"/>
<polygon points="537.9,151.2 538.5,152.3 539.7,152.5 538.8,153.3 539.0,154.6 537.9,154.0 536.8,154.6 537.0,153.3 536.2,152.5 537.4,152.3" fill="#ff0000" stroke="#ff0000" stroke-width="0.8" stroke-linejoin="round"/>
<line x1="542.24" y1="151.08" x2="542.24" y2="156.04" stroke="#ff0000" stroke-width="1.0"/>
<polygon points="542.2,151.7 542.8,152.8 544.0,153.0 543.1,153.8 543.3,155.0 542.2,154.5 541.2,155.0 541.4,153.8 540.5,153.0 541.7,152.8" fill="#ff0000" stroke="#ff0000" stroke-width="0.8" stroke-linejoin="round"/>
<line x1="547.21" y1="154.78" x2="547.21" y2="157.98" stroke="#ff0000" stroke-width="1.0"/>
<polygon points="547.2,154.5 547.8,155.6 549.0,155.8 548.1,156.7 548.3,157.9 547.2,157.3 546.1,157.9 546.3,156.7 545.5,155.8 546.7,155.6" fill="#ff0000" stroke="#ff0000" stroke-width="0.8" stroke-linejoin="round"/>
<line x1="551.03" y1="155.17" x2="551.03" y2="158.43" stroke="#ff0000" stroke-width="1.0"/>
<polygon points="551.0,155.0 551.6,156.1 552.8,156.2 551.9,157.1 552.1,158.3 551.0,157.7 549.9,158.3 550.2,157.1 549.3,156.2 550.5,156.1" fill="#ff0000" stroke="#ff0000" stroke-width="0.8" stroke-linejoin="round"/>
<line x1="556.34" y1="156.22" x2="556.34" y2="159.02" stroke="#ff0000" stroke-width="1.0"/>
<polygon points="556.3,155.8 556.9,156.9 558.1,157.1 557.2,157.9 557.4,159.1 556.3,158.5 555.3,159.1 555.5,157.9 554.6,157.1 555.8,156.9" fill="#ff0000" stroke="#ff0000" stroke-width="0.8" stroke-linejoin="round"/>
<line x1="560.45" y1="156.03" x2="560.45" y2="160.25" stroke="#ff0000" stroke-width="1.0"/>
<polygon points="560.4,156.3 561.0,157.4 562.2,157.6 561.3,158.4 561.5,159.6 560.4,159.1 559.4,159.6 559.6,158.4 558.7,157.6 559.9,157.4" fill="#ff0000" stroke="#ff0000" stroke-width="0.8" stroke-linejoin="round"/>
<line x1="566.38" y1="157.72" x2="566.38" y2="162.12" stroke="#ff0000" stroke-width="1.0"/>
<polygon points="566.4,158.1 566.9,159.2 568.1,159.4 567.3,160.2 567.5,161.4 566.4,160.8 565.3,161.4 565.5,160.2 564.6,159.4 565.8,159.2" fill="#ff0000" stroke="#ff0000" stroke-width="0.8" stroke-linejoin="round"/>
<line x1="569.78" y1="160.09" x2="569.78" y2="162.72" stroke="#ff0000" stroke-width="1.0"/>
<polygon points="569.8,159.6 570.3,160.7 571.5,160.8 570.7,161.7 570.9,162.9 569.8,162.3 568.7,162.9 568.9,161.7 568.0,160.8 569.2,160.7" fill="#ff0000" stroke="#ff0000" stroke-width="0.8" stroke-linejoin="round"/>
<line x1="573.76" y1="161.10" x2="573.76" y2="165.00" stroke="#ff0000" stroke-width="1.0"/>
<polygon points="573.8,161.2 574.3,162.3 575.5,162.5 574.6,163.3 574.8,164.5 573.8,164.0 572.7,164.5 572.9,163.3 572.0,162.5 573.2,162.3" fill="#ff0000" stroke="#ff0000" stroke-width="0.8" stroke-linejoin="round"/>
<line x1="578.94" y1="161.06" x2="578.94" y2="164.74" stroke="#ff0000" stroke-width="1.0"/>
<polygon points="578.9,161.1 579.5,162.2 580.7,162.3 579.8,163.2 580.0,164.4 578.9,163.8 577.9,164.4 578.1,163.2 577.2,162.3 578.4,162.2" fill="#ff0000" stroke="#ff0000" stroke-width="0.8" stroke-linejoin="round"/>
<line x1="582.95" y1="165.15" x2="582.95" y2="169.07" stroke="#ff0000" stroke-width="1.0"/>
<polygon points="583.0,165.3 583.5,166.4 584.7,166.5 583.8,167.4 584.0,168.6 583.0,168.0 581.9,168.6 582.1,167.4 581.2,166.5 582.4,166.4" fill="#ff0000" stroke="#ff0000" stroke-width="0.8" stroke-linejoin="round"/>
<line x1="588.64" y1="165.90" x2="588.64" y2="170.35" stroke="#ff0000" stroke-width="1.0"/>
<polygon points="588.6,166.3 589.2,167.4 590.4,167.6 589.5,168.4 589.7,169.6 588.6,169.0 587.6,169.6 587.8,168.4 586.9,167.6 588.1,167.4" fill="#ff0000" stroke="#ff0000" stroke-width="0.8" stroke-linejoin="round"/>
<line x1="592.44" y1="168.36" x2="592.44" y2="170.74" stroke="#ff0000" stroke-width="1.0"/>
<polygon points="592.4,167.7 593.0,168.8 594.2,169.0 593.3,169.8 593.5,171.0 592.4,170.5 591.4,171.0 591.6,169.8 590.7,169.0 591.9,168.8" fill="#ff0000" stroke="#ff0000" stroke-width="0.8" stroke-linejoin="round"/>
<line x1="406.00" y1="102.00" x2="406.00" y2="108.00" stroke="#ff0000" stroke-width="1.0"/>
<polygon points="406.0,102.6 406.7,104.0 408.3,104.3 407.1,105.4 407.4,107.0 406.0,106.2 404.6,107.0 404.9,105.4 403.7,104.3 405.3,104.0" fill="#ff0000" stroke="#ff0000" stroke-width="0.8" stroke-linejoin="round"/>
<line x1="406.50" y1="106.00" x2="406.50" y2="112.00" stroke="#ff0000" stroke-width="1.0"/>
<polygon points="406.5,106.6 407.2,108.0 408.8,108.3 407.6,109.4 407.9,111.0 406.5,110.2 405.1,111.0 405.4,109.4 404.2,108.3 405.8,108.0" fill="#ff0000" stroke="#ff0000" stroke-width="0.8" stroke-linejoin="round"/>
<line x1="407.00" y1="109.00" x2="407.00" y2="115.00" stroke="#ff0000" stroke-width="1.0"/>
<polygon points="407.0,109.6 407.7,111.0 409.3,111.3 408.1,112.4 408.4,114.0 407.0,113.2 405.6,114.0 405.9,112.4 404.7,111.3 406.3,111.0" fill="#ff0000" stroke="#ff0000" stroke-width="0.8" stroke-linejoin="round"/>
<line x1="408.00" y1="111.00" x2="408.00" y2="117.00" stroke="#ff0000" stroke-width="1.0"/>
<polygon points="408.0,111.6 408.7,113.0 410.3,113.3 409.1,114.4 409.4,116.0 408.0,115.2 406.6,116.0 406.9,114.4 405.7,113.3 407.3,113.0" fill="#ff0000" stroke="#ff0000" stroke-width="0.8" stroke-linejoin="round"/>
<line x1="410.00" y1="113.00" x2="410.00" y2="119.00" stroke="#ff0000" stroke-width="1.0"/>
<polygon points="410.0,113.6 410.7,115.0 412.3,115.3 411.1,116.4 411.4,118.0 410.0,117.2 408.6,118.0 408.9,116.4 407.7,115.3 409.3,115.0" fill="#ff0000" stroke="#ff0000" stroke-width="0.8" stroke-linejoin="round"/>
<line x1="412.00" y1="112.00" x2="412.00" y2="118.00" stroke="#ff0000" stroke-width="1.0"/>
<polygon points="412.0,112.6 412.7,114.0 414.3,114.3 413.1,115.4 413.4,117.0 412.0,116.2 410.6,117.0 410.9,115.4 409.7,114.3 411.3,114.0" fill="#ff0000" stroke="#ff0000" stroke-width="0.8" stroke-linejoin="round"/>
<line x1="415.00" y1="114.00" x2="415.00" y2="120.00" stroke="#ff0000" stroke-width="1.0"/>
<polygon points="415.0,114.6 415.7,116.0 417.3,116.3 416.1,117.4 416.4,119.0 415.0,118.2 413.6,119.0 413.9,117.4 412.7,116.3 414.3,116.0" fill="#ff0000" stroke="#ff0000" stroke-width="0.8" stroke-linejoin="round"/>
<line x1="418.00" y1="116.00" x2="418.00" y2="122.00" stroke="#ff0000" stroke-width="1.0"/>
<polygon points="418.0,116.6 418.7,118.0 420.3,118.3 419.1,119.4 419.4,121.0 418.0,120.2 416.6,121.0 416.9,119.4 415.7,118.3 417.3,118.0" fill="#ff0000" stroke="#ff0000" stroke-width="0.8" stroke-linejoin="round"/>
<line x1="421.00" y1="118.00" x2="421.00" y2="124.00" stroke="#ff0000" stroke-width="1.0"/>
<polygon points="421.0,118.6 421.7,120.0 423.3,120.3 422.1,121.4 422.4,123.0 421.0,122.2 419.6,123.0 419.9,121.4 418.7,120.3 420.3,120.0" fill="#ff0000" stroke="#ff0000" stroke-width="0.8" stroke-linejoin="round"/>
<rect x="401.24" y="118.84" width="4.32" height="4.32" fill="#000000" stroke="#000000" stroke-width="0.8"/>
<rect x="401.24" y="121.84" width="4.32" height="4.32" fill="#000000" stroke="#000000" stroke-width="0.8"/>
<rect x="401.24" y="124.84" width="4.32" height="4.32" fill="#000000" stroke="#000000" stroke-width="0.8"/>
<rect x="401.24" y="127.84" width="4.32" height="4.32" fill="#000000" stroke="#000000" stroke-width="0.8"/>
<rect x="403.34" y="120.84" width="4.32" height="4.32" fill="#000000" stroke="#000000" stroke-width="0.8"/>
<rect x="403.34" y="125.84" width="4.32" height="4.32" fill="#000000" stroke="#000000" stroke-width="0.8"/>
<path d="M405.1,126.1 C406.2,126.4 408.0,126.7 411.9,127.8 C415.8,128.9 423.1,131.2 428.7,132.9 C434.3,134.6 440.0,136.4 445.6,137.9 C451.2,139.4 456.9,140.8 462.5,142.2 C468.1,143.6 474.7,145.1 479.3,146.4 C483.9,147.7 484.8,148.5 490.0,149.8 C495.2,151.1 503.7,152.6 510.6,154.0 C517.5,155.4 524.3,156.9 531.2,158.1 C538.1,159.3 544.9,160.0 551.8,161.2 C558.6,162.4 566.1,163.8 572.3,165.3 C578.5,166.8 584.3,168.9 588.8,170.4 C593.3,171.9 596.4,173.7 599.1,174.5 C601.8,175.3 604.0,175.3 605.0,175.5" fill="none" stroke="#0000cc" stroke-width="2.0" stroke-linejoin="round" stroke-linecap="butt"/>
<path d="M403.4,125.3 C404.8,125.9 407.7,127.1 411.9,128.7 C416.1,130.2 423.1,132.5 428.7,134.6 C434.3,136.7 440.0,139.5 445.6,141.3 C451.2,143.1 456.9,144.2 462.5,145.5 C468.1,146.8 474.7,148.0 479.3,148.9 C483.9,149.8 484.8,149.9 490.0,150.9 C495.2,151.9 503.7,153.6 510.6,155.0 C517.5,156.4 524.3,158.0 531.2,159.1 C538.1,160.2 544.9,160.9 551.8,161.8 C558.6,162.7 566.1,163.4 572.3,164.3 C578.5,165.2 584.0,165.6 588.8,167.3 C593.6,169.0 598.3,173.1 601.2,174.5 C604.1,175.9 605.2,175.3 606.0,175.5" fill="none" stroke="#000000" stroke-width="2.0" stroke-linejoin="round" stroke-linecap="butt"/>
<path d="M406.5,115.2 C407.4,115.8 408.2,117.1 411.9,118.5 C415.6,119.9 423.1,121.8 428.7,123.6 C434.3,125.4 440.0,127.5 445.6,129.5 C451.2,131.5 456.9,133.7 462.5,135.4 C468.1,137.1 474.7,138.5 479.3,139.6 C483.9,140.7 484.8,140.8 490.0,142.2 C495.2,143.6 503.7,146.0 510.6,147.8 C517.5,149.6 524.3,151.2 531.2,152.9 C538.1,154.6 544.9,156.0 551.8,157.7 C558.6,159.4 566.1,161.2 572.3,163.2 C578.5,165.1 584.0,167.5 588.8,169.4 C593.6,171.3 597.1,173.5 601.2,174.5 C605.3,175.5 611.5,175.4 613.5,175.6" fill="none" stroke="#ff0000" stroke-width="2.0" stroke-linejoin="round" stroke-linecap="butt"/>
</g>
<g clip-path="url(#c12)">
<line x1="386.70" y1="179.40" x2="386.70" y2="219.80" stroke="#ff0000" stroke-width="1.0"/>
<polygon points="386.7,187.6 387.4,189.0 389.0,189.3 387.8,190.4 388.1,192.0 386.7,191.2 385.3,192.0 385.6,190.4 384.4,189.3 386.0,189.0" fill="#ff0000" stroke="#ff0000" stroke-width="0.8" stroke-linejoin="round"/>
<polygon points="386.7,191.6 387.4,193.0 389.0,193.3 387.8,194.4 388.1,196.0 386.7,195.2 385.3,196.0 385.6,194.4 384.4,193.3 386.0,193.0" fill="#ff0000" stroke="#ff0000" stroke-width="0.8" stroke-linejoin="round"/>
<polygon points="386.7,195.6 387.4,197.0 389.0,197.3 387.8,198.4 388.1,200.0 386.7,199.2 385.3,200.0 385.6,198.4 384.4,197.3 386.0,197.0" fill="#ff0000" stroke="#ff0000" stroke-width="0.8" stroke-linejoin="round"/>
<polygon points="386.7,199.6 387.4,201.0 389.0,201.3 387.8,202.4 388.1,204.0 386.7,203.2 385.3,204.0 385.6,202.4 384.4,201.3 386.0,201.0" fill="#ff0000" stroke="#ff0000" stroke-width="0.8" stroke-linejoin="round"/>
<polygon points="386.7,203.6 387.4,205.0 389.0,205.3 387.8,206.4 388.1,208.0 386.7,207.2 385.3,208.0 385.6,206.4 384.4,205.3 386.0,205.0" fill="#ff0000" stroke="#ff0000" stroke-width="0.8" stroke-linejoin="round"/>
<polygon points="386.7,207.6 387.4,209.0 389.0,209.3 387.8,210.4 388.1,212.0 386.7,211.2 385.3,212.0 385.6,210.4 384.4,209.3 386.0,209.0" fill="#ff0000" stroke="#ff0000" stroke-width="0.8" stroke-linejoin="round"/>
<line x1="398.50" y1="176.80" x2="398.50" y2="219.00" stroke="#ff0000" stroke-width="1.0"/>
<polygon points="398.5,182.6 399.2,184.0 400.8,184.3 399.6,185.4 399.9,187.0 398.5,186.2 397.1,187.0 397.4,185.4 396.2,184.3 397.8,184.0" fill="#ff0000" stroke="#ff0000" stroke-width="0.8" stroke-linejoin="round"/>
<polygon points="398.5,186.6 399.2,188.0 400.8,188.3 399.6,189.4 399.9,191.0 398.5,190.2 397.1,191.0 397.4,189.4 396.2,188.3 397.8,188.0" fill="#ff0000" stroke="#ff0000" stroke-width="0.8" stroke-linejoin="round"/>
<polygon points="398.5,190.6 399.2,192.0 400.8,192.3 399.6,193.4 399.9,195.0 398.5,194.2 397.1,195.0 397.4,193.4 396.2,192.3 397.8,192.0" fill="#ff0000" stroke="#ff0000" stroke-width="0.8" stroke-linejoin="round"/>
<polygon points="398.5,194.6 399.2,196.0 400.8,196.3 399.6,197.4 399.9,199.0 398.5,198.2 397.1,199.0 397.4,197.4 396.2,196.3 397.8,196.0" fill="#ff0000" stroke="#ff0000" stroke-width="0.8" stroke-linejoin="round"/>
<polygon points="398.5,198.6 399.2,200.0 400.8,200.3 399.6,201.4 399.9,203.0 398.5,202.2 397.1,203.0 397.4,201.4 396.2,200.3 397.8,200.0" fill="#ff0000" stroke="#ff0000" stroke-width="0.8" stroke-linejoin="round"/>
<polygon points="398.5,202.6 399.2,204.0 400.8,204.3 399.6,205.4 399.9,207.0 398.5,206.2 397.1,207.0 397.4,205.4 396.2,204.3 397.8,204.0" fill="#ff0000" stroke="#ff0000" stroke-width="0.8" stroke-linejoin="round"/>
<line x1="440.60" y1="201.30" x2="440.60" y2="227.30" stroke="#ff0000" stroke-width="1.0"/>
<polygon points="440.6,206.6 441.3,208.0 442.9,208.3 441.7,209.4 442.0,211.0 440.6,210.2 439.2,211.0 439.5,209.4 438.3,208.3 439.9,208.0" fill="#ff0000" stroke="#ff0000" stroke-width="0.8" stroke-linejoin="round"/>
<polygon points="440.6,210.6 441.3,212.0 442.9,212.3 441.7,213.4 442.0,215.0 440.6,214.2 439.2,215.0 439.5,213.4 438.3,212.3 439.9,212.0" fill="#ff0000" stroke="#ff0000" stroke-width="0.8" stroke-linejoin="round"/>
<polygon points="440.6,214.6 441.3,216.0 442.9,216.3 441.7,217.4 442.0,219.0 440.6,218.2 439.2,219.0 439.5,217.4 438.3,216.3 439.9,216.0" fill="#ff0000" stroke="#ff0000" stroke-width="0.8" stroke-linejoin="round"/>
<polygon points="440.6,218.6 441.3,220.0 442.9,220.3 441.7,221.4 442.0,223.0 440.6,222.2 439.2,223.0 439.5,221.4 438.3,220.3 439.9,220.0" fill="#ff0000" stroke="#ff0000" stroke-width="0.8" stroke-linejoin="round"/>
<line x1="455.40" y1="211.60" x2="455.40" y2="230.60" stroke="#ff0000" stroke-width="1.0"/>
<polygon points="455.4,212.6 456.1,214.0 457.7,214.3 456.5,215.4 456.8,217.0 455.4,216.2 454.0,217.0 454.3,215.4 453.1,214.3 454.7,214.0" fill="#ff0000" stroke="#ff0000" stroke-width="0.8" stroke-linejoin="round"/>
<polygon points="455.4,216.6 456.1,218.0 457.7,218.3 456.5,219.4 456.8,221.0 455.4,220.2 454.0,221.0 454.3,219.4 453.1,218.3 454.7,218.0" fill="#ff0000" stroke="#ff0000" stroke-width="0.8" stroke-linejoin="round"/>
<polygon points="455.4,220.6 456.1,222.0 457.7,222.3 456.5,223.4 456.8,225.0 455.4,224.2 454.0,225.0 454.3,223.4 453.1,222.3 454.7,222.0" fill="#ff0000" stroke="#ff0000" stroke-width="0.8" stroke-linejoin="round"/>
<polygon points="455.4,224.6 456.1,226.0 457.7,226.3 456.5,227.4 456.8,229.0 455.4,228.2 454.0,229.0 454.3,227.4 453.1,226.3 454.7,226.0" fill="#ff0000" stroke="#ff0000" stroke-width="0.8" stroke-linejoin="round"/>
<line x1="471.70" y1="215.70" x2="471.70" y2="233.30" stroke="#ff0000" stroke-width="1.0"/>
<polygon points="471.7,217.6 472.4,219.0 474.0,219.3 472.8,220.4 473.1,222.0 471.7,221.2 470.3,222.0 470.6,220.4 469.4,219.3 471.0,219.0" fill="#ff0000" stroke="#ff0000" stroke-width="0.8" stroke-linejoin="round"/>
<polygon points="471.7,221.6 472.4,223.0 474.0,223.3 472.8,224.4 473.1,226.0 471.7,225.2 470.3,226.0 470.6,224.4 469.4,223.3 471.0,223.0" fill="#ff0000" stroke="#ff0000" stroke-width="0.8" stroke-linejoin="round"/>
<polygon points="471.7,225.6 472.4,227.0 474.0,227.3 472.8,228.4 473.1,230.0 471.7,229.2 470.3,230.0 470.6,228.4 469.4,227.3 471.0,227.0" fill="#ff0000" stroke="#ff0000" stroke-width="0.8" stroke-linejoin="round"/>
<line x1="538.00" y1="229.00" x2="538.00" y2="234.70" stroke="#ff0000" stroke-width="1.0"/>
<polygon points="538.0,229.1 538.7,230.5 540.3,230.8 539.1,231.9 539.4,233.5 538.0,232.7 536.6,233.5 536.9,231.9 535.7,230.8 537.3,230.5" fill="#ff0000" stroke="#ff0000" stroke-width="0.8" stroke-linejoin="round"/>
<line x1="555.50" y1="230.60" x2="555.50" y2="234.70" stroke="#ff0000" stroke-width="1.0"/>
<polygon points="555.5,230.1 556.2,231.5 557.8,231.8 556.6,232.9 556.9,234.5 555.5,233.7 554.1,234.5 554.4,232.9 553.2,231.8 554.8,231.5" fill="#ff0000" stroke="#ff0000" stroke-width="0.8" stroke-linejoin="round"/>
<line x1="573.10" y1="233.30" x2="573.10" y2="236.00" stroke="#ff0000" stroke-width="1.0"/>
<polygon points="573.1,232.2 573.8,233.6 575.4,233.9 574.2,235.0 574.5,236.6 573.1,235.8 571.7,236.6 572.0,235.0 570.8,233.9 572.4,233.6" fill="#ff0000" stroke="#ff0000" stroke-width="0.8" stroke-linejoin="round"/>
<line x1="406.00" y1="201.30" x2="406.00" y2="221.50" stroke="#0000cc" stroke-width="1.0"/>
<polygon points="406.0,202.6 406.7,204.0 408.3,204.3 407.1,205.4 407.4,207.0 406.0,206.2 404.6,207.0 404.9,205.4 403.7,204.3 405.3,204.0" fill="#0000cc" stroke="#0000cc" stroke-width="0.8" stroke-linejoin="round"/>
<polygon points="406.0,206.6 406.7,208.0 408.3,208.3 407.1,209.4 407.4,211.0 406.0,210.2 404.6,211.0 404.9,209.4 403.7,208.3 405.3,208.0" fill="#0000cc" stroke="#0000cc" stroke-width="0.8" stroke-linejoin="round"/>
<polygon points="406.0,210.6 406.7,212.0 408.3,212.3 407.1,213.4 407.4,215.0 406.0,214.2 404.6,215.0 404.9,213.4 403.7,212.3 405.3,212.0" fill="#0000cc" stroke="#0000cc" stroke-width="0.8" stroke-linejoin="round"/>
<polygon points="406.0,214.6 406.7,216.0 408.3,216.3 407.1,217.4 407.4,219.0 406.0,218.2 404.6,219.0 404.9,217.4 403.7,216.3 405.3,216.0" fill="#0000cc" stroke="#0000cc" stroke-width="0.8" stroke-linejoin="round"/>
<line x1="410.00" y1="203.00" x2="410.00" y2="220.00" stroke="#0000cc" stroke-width="1.0"/>
<polygon points="410.0,204.6 410.7,206.0 412.3,206.3 411.1,207.4 411.4,209.0 410.0,208.2 408.6,209.0 408.9,207.4 407.7,206.3 409.3,206.0" fill="#0000cc" stroke="#0000cc" stroke-width="0.8" stroke-linejoin="round"/>
<polygon points="410.0,208.6 410.7,210.0 412.3,210.3 411.1,211.4 411.4,213.0 410.0,212.2 408.6,213.0 408.9,211.4 407.7,210.3 409.3,210.0" fill="#0000cc" stroke="#0000cc" stroke-width="0.8" stroke-linejoin="round"/>
<polygon points="410.0,212.6 410.7,214.0 412.3,214.3 411.1,215.4 411.4,217.0 410.0,216.2 408.6,217.0 408.9,215.4 407.7,214.3 409.3,214.0" fill="#0000cc" stroke="#0000cc" stroke-width="0.8" stroke-linejoin="round"/>
<line x1="419.00" y1="202.00" x2="419.00" y2="222.30" stroke="#0000cc" stroke-width="1.0"/>
<polygon points="419.0,203.6 419.7,205.0 421.3,205.3 420.1,206.4 420.4,208.0 419.0,207.2 417.6,208.0 417.9,206.4 416.7,205.3 418.3,205.0" fill="#0000cc" stroke="#0000cc" stroke-width="0.8" stroke-linejoin="round"/>
<polygon points="419.0,207.6 419.7,209.0 421.3,209.3 420.1,210.4 420.4,212.0 419.0,211.2 417.6,212.0 417.9,210.4 416.7,209.3 418.3,209.0" fill="#0000cc" stroke="#0000cc" stroke-width="0.8" stroke-linejoin="round"/>
<polygon points="419.0,211.6 419.7,213.0 421.3,213.3 420.1,214.4 420.4,216.0 419.0,215.2 417.6,216.0 417.9,214.4 416.7,213.3 418.3,213.0" fill="#0000cc" stroke="#0000cc" stroke-width="0.8" stroke-linejoin="round"/>
<polygon points="419.0,215.6 419.7,217.0 421.3,217.3 420.1,218.4 420.4,220.0 419.0,219.2 417.6,220.0 417.9,218.4 416.7,217.3 418.3,217.0" fill="#0000cc" stroke="#0000cc" stroke-width="0.8" stroke-linejoin="round"/>
<line x1="423.00" y1="204.00" x2="423.00" y2="221.00" stroke="#0000cc" stroke-width="1.0"/>
<polygon points="423.0,205.6 423.7,207.0 425.3,207.3 424.1,208.4 424.4,210.0 423.0,209.2 421.6,210.0 421.9,208.4 420.7,207.3 422.3,207.0" fill="#0000cc" stroke="#0000cc" stroke-width="0.8" stroke-linejoin="round"/>
<polygon points="423.0,209.6 423.7,211.0 425.3,211.3 424.1,212.4 424.4,214.0 423.0,213.2 421.6,214.0 421.9,212.4 420.7,211.3 422.3,211.0" fill="#0000cc" stroke="#0000cc" stroke-width="0.8" stroke-linejoin="round"/>
<polygon points="423.0,213.6 423.7,215.0 425.3,215.3 424.1,216.4 424.4,218.0 423.0,217.2 421.6,218.0 421.9,216.4 420.7,215.3 422.3,215.0" fill="#0000cc" stroke="#0000cc" stroke-width="0.8" stroke-linejoin="round"/>
<line x1="459.50" y1="216.00" x2="459.50" y2="226.00" stroke="#0000cc" stroke-width="1.0"/>
<polygon points="459.5,216.6 460.2,218.0 461.8,218.3 460.6,219.4 460.9,221.0 459.5,220.2 458.1,221.0 458.4,219.4 457.2,218.3 458.8,218.0" fill="#0000cc" stroke="#0000cc" stroke-width="0.8" stroke-linejoin="round"/>
<polygon points="459.5,220.6 460.2,222.0 461.8,222.3 460.6,223.4 460.9,225.0 459.5,224.2 458.1,225.0 458.4,223.4 457.2,222.3 458.8,222.0" fill="#0000cc" stroke="#0000cc" stroke-width="0.8" stroke-linejoin="round"/>
<line x1="488.00" y1="226.00" x2="488.00" y2="232.00" stroke="#0000cc" stroke-width="1.0"/>
<polygon points="488.0,226.6 488.7,228.0 490.3,228.3 489.1,229.4 489.4,231.0 488.0,230.2 486.6,231.0 486.9,229.4 485.7,228.3 487.3,228.0" fill="#0000cc" stroke="#0000cc" stroke-width="0.8" stroke-linejoin="round"/>
<line x1="491.00" y1="227.00" x2="491.00" y2="232.00" stroke="#0000cc" stroke-width="1.0"/>
<polygon points="491.0,227.6 491.7,229.0 493.3,229.3 492.1,230.4 492.4,232.0 491.0,231.2 489.6,232.0 489.9,230.4 488.7,229.3 490.3,229.0" fill="#0000cc" stroke="#0000cc" stroke-width="0.8" stroke-linejoin="round"/>
<line x1="578.00" y1="238.70" x2="578.00" y2="240.90" stroke="#0000cc" stroke-width="1.0"/>
<polygon points="578.0,237.4 578.7,238.8 580.3,239.1 579.1,240.2 579.4,241.8 578.0,241.0 576.6,241.8 576.9,240.2 575.7,239.1 577.3,238.8" fill="#0000cc" stroke="#0000cc" stroke-width="0.8" stroke-linejoin="round"/>
<line x1="582.00" y1="238.80" x2="582.00" y2="241.00" stroke="#0000cc" stroke-width="1.0"/>
<polygon points="582.0,237.6 582.7,239.0 584.3,239.3 583.1,240.4 583.4,242.0 582.0,241.2 580.6,242.0 580.9,240.4 579.7,239.3 581.3,239.0" fill="#0000cc" stroke="#0000cc" stroke-width="0.8" stroke-linejoin="round"/>
<line x1="585.50" y1="239.00" x2="585.50" y2="241.00" stroke="#0000cc" stroke-width="1.0"/>
<polygon points="585.5,237.9 586.2,239.3 587.8,239.6 586.6,240.7 586.9,242.3 585.5,241.5 584.1,242.3 584.4,240.7 583.2,239.6 584.8,239.3" fill="#0000cc" stroke="#0000cc" stroke-width="0.8" stroke-linejoin="round"/>
<rect x="399.34" y="198.34" width="4.32" height="4.32" fill="#000000" stroke="#000000" stroke-width="0.8"/>
<rect x="399.34" y="201.84" width="4.32" height="4.32" fill="#000000" stroke="#000000" stroke-width="0.8"/>
<rect x="399.34" y="204.84" width="4.32" height="4.32" fill="#000000" stroke="#000000" stroke-width="0.8"/>
<rect x="401.84" y="199.84" width="4.32" height="4.32" fill="#000000" stroke="#000000" stroke-width="0.8"/>
<rect x="406.34" y="196.84" width="4.32" height="4.32" fill="#000000" stroke="#000000" stroke-width="0.8"/>
<rect x="406.34" y="200.34" width="4.32" height="4.32" fill="#000000" stroke="#000000" stroke-width="0.8"/>
<rect x="406.34" y="203.84" width="4.32" height="4.32" fill="#000000" stroke="#000000" stroke-width="0.8"/>
<rect x="408.84" y="198.84" width="4.32" height="4.32" fill="#000000" stroke="#000000" stroke-width="0.8"/>
<rect x="408.84" y="202.34" width="4.32" height="4.32" fill="#000000" stroke="#000000" stroke-width="0.8"/>
<rect x="442.34" y="209.84" width="4.32" height="4.32" fill="#000000" stroke="#000000" stroke-width="0.8"/>
<rect x="444.84" y="208.84" width="4.32" height="4.32" fill="#000000" stroke="#000000" stroke-width="0.8"/>
<rect x="444.84" y="212.84" width="4.32" height="4.32" fill="#000000" stroke="#000000" stroke-width="0.8"/>
<rect x="447.34" y="211.34" width="4.32" height="4.32" fill="#000000" stroke="#000000" stroke-width="0.8"/>
<rect x="458.84" y="217.34" width="4.32" height="4.32" fill="#000000" stroke="#000000" stroke-width="0.8"/>
<rect x="473.84" y="220.84" width="4.32" height="4.32" fill="#000000" stroke="#000000" stroke-width="0.8"/>
<rect x="476.34" y="221.84" width="4.32" height="4.32" fill="#000000" stroke="#000000" stroke-width="0.8"/>
<rect x="504.84" y="226.04" width="4.32" height="4.32" fill="#000000" stroke="#000000" stroke-width="0.8"/>
<rect x="508.84" y="226.34" width="4.32" height="4.32" fill="#000000" stroke="#000000" stroke-width="0.8"/>
<rect x="522.24" y="231.84" width="4.32" height="4.32" fill="#000000" stroke="#000000" stroke-width="0.8"/>
<rect x="524.84" y="232.34" width="4.32" height="4.32" fill="#000000" stroke="#000000" stroke-width="0.8"/>
<rect x="539.84" y="234.24" width="4.32" height="4.32" fill="#000000" stroke="#000000" stroke-width="0.8"/>
<rect x="542.84" y="234.84" width="4.32" height="4.32" fill="#000000" stroke="#000000" stroke-width="0.8"/>
<rect x="556.14" y="235.84" width="4.32" height="4.32" fill="#000000" stroke="#000000" stroke-width="0.8"/>
<rect x="558.84" y="236.34" width="4.32" height="4.32" fill="#000000" stroke="#000000" stroke-width="0.8"/>
<rect x="572.34" y="237.24" width="4.32" height="4.32" fill="#000000" stroke="#000000" stroke-width="0.8"/>
<rect x="574.84" y="237.84" width="4.32" height="4.32" fill="#000000" stroke="#000000" stroke-width="0.8"/>
<path d="M405.0,207.5 C406.7,207.9 411.1,208.5 415.4,209.7 C419.6,210.9 425.2,213.3 430.5,214.9 C435.8,216.5 442.4,218.4 447.3,219.5 C452.2,220.6 450.5,219.8 460.0,221.6 C469.5,223.4 487.7,228.0 504.1,230.6 C520.5,233.2 544.8,235.8 558.3,237.4 C571.8,239.0 580.8,239.7 585.3,240.1" fill="none" stroke="#0000cc" stroke-width="2.0" stroke-linejoin="round" stroke-linecap="butt"/>
<path d="M387.6,195.9 C389.1,196.7 393.9,198.8 396.8,200.4 C399.8,202.0 402.5,204.1 405.3,205.5 C408.1,206.9 409.5,207.3 413.7,208.8 C417.9,210.3 424.9,212.9 430.5,214.7 C436.1,216.5 442.4,218.4 447.3,219.8 C452.2,221.2 455.0,222.2 460.0,223.1 C465.0,224.0 469.8,224.2 477.1,225.2 C484.5,226.2 495.1,228.1 504.1,229.2 C513.1,230.3 522.2,231.2 531.2,232.0 C540.2,232.8 551.1,233.2 558.3,233.8 C565.5,234.4 571.8,235.2 574.5,235.5" fill="none" stroke="#ff0000" stroke-width="2.0" stroke-linejoin="round" stroke-linecap="butt"/>
<path d="M400.2,201.3 C402.4,201.9 408.6,203.6 413.7,205.0 C418.8,206.4 424.9,208.0 430.5,209.7 C436.1,211.4 442.4,213.9 447.3,215.3 C452.2,216.7 455.0,217.0 460.0,218.3 C465.0,219.6 469.8,221.4 477.1,223.2 C484.5,225.0 495.1,227.5 504.1,229.2 C513.1,230.9 522.2,231.9 531.2,233.3 C540.2,234.7 550.6,236.3 558.3,237.4 C566.0,238.5 574.1,239.7 577.2,240.1" fill="none" stroke="#000000" stroke-width="2.0" stroke-linejoin="round" stroke-linecap="butt"/>
</g>
<g clip-path="url(#c13)">
<line x1="386.50" y1="263.80" x2="386.50" y2="280.00" stroke="#ff0000" stroke-width="1.0"/>
<polygon points="386.5,264.2 387.3,265.9 389.1,266.1 387.8,267.4 388.1,269.2 386.5,268.4 384.9,269.2 385.2,267.4 383.9,266.1 385.7,265.9" fill="#ff0000" stroke="#ff0000" stroke-width="0.8" stroke-linejoin="round"/>
<polygon points="386.5,268.2 387.3,269.9 389.1,270.1 387.8,271.4 388.1,273.2 386.5,272.4 384.9,273.2 385.2,271.4 383.9,270.1 385.7,269.9" fill="#ff0000" stroke="#ff0000" stroke-width="0.8" stroke-linejoin="round"/>
<polygon points="386.5,272.2 387.3,273.9 389.1,274.1 387.8,275.4 388.1,277.2 386.5,276.4 384.9,277.2 385.2,275.4 383.9,274.1 385.7,273.9" fill="#ff0000" stroke="#ff0000" stroke-width="0.8" stroke-linejoin="round"/>
<line x1="389.00" y1="266.00" x2="389.00" y2="279.00" stroke="#ff0000" stroke-width="1.0"/>
<polygon points="389.0,266.2 389.8,267.9 391.6,268.1 390.3,269.4 390.6,271.2 389.0,270.4 387.4,271.2 387.7,269.4 386.4,268.1 388.2,267.9" fill="#ff0000" stroke="#ff0000" stroke-width="0.8" stroke-linejoin="round"/>
<polygon points="389.0,271.2 389.8,272.9 391.6,273.1 390.3,274.4 390.6,276.2 389.0,275.4 387.4,276.2 387.7,274.4 386.4,273.1 388.2,272.9" fill="#ff0000" stroke="#ff0000" stroke-width="0.8" stroke-linejoin="round"/>
<line x1="398.60" y1="265.00" x2="398.60" y2="282.20" stroke="#ff0000" stroke-width="1.0"/>
<polygon points="398.6,265.2 399.4,266.9 401.2,267.1 399.9,268.4 400.2,270.2 398.6,269.4 397.0,270.2 397.3,268.4 396.0,267.1 397.8,266.9" fill="#ff0000" stroke="#ff0000" stroke-width="0.8" stroke-linejoin="round"/>
<polygon points="398.6,269.2 399.4,270.9 401.2,271.1 399.9,272.4 400.2,274.2 398.6,273.4 397.0,274.2 397.3,272.4 396.0,271.1 397.8,270.9" fill="#ff0000" stroke="#ff0000" stroke-width="0.8" stroke-linejoin="round"/>
<polygon points="398.6,273.2 399.4,274.9 401.2,275.1 399.9,276.4 400.2,278.2 398.6,277.4 397.0,278.2 397.3,276.4 396.0,275.1 397.8,274.9" fill="#ff0000" stroke="#ff0000" stroke-width="0.8" stroke-linejoin="round"/>
<line x1="401.50" y1="266.00" x2="401.50" y2="281.00" stroke="#ff0000" stroke-width="1.0"/>
<polygon points="401.5,267.2 402.3,268.9 404.1,269.1 402.8,270.4 403.1,272.2 401.5,271.4 399.9,272.2 400.2,270.4 398.9,269.1 400.7,268.9" fill="#ff0000" stroke="#ff0000" stroke-width="0.8" stroke-linejoin="round"/>
<polygon points="401.5,272.2 402.3,273.9 404.1,274.1 402.8,275.4 403.1,277.2 401.5,276.4 399.9,277.2 400.2,275.4 398.9,274.1 400.7,273.9" fill="#ff0000" stroke="#ff0000" stroke-width="0.8" stroke-linejoin="round"/>
<line x1="441.20" y1="269.60" x2="441.20" y2="278.00" stroke="#ff0000" stroke-width="1.0"/>
<polygon points="441.2,269.2 442.0,270.9 443.8,271.1 442.5,272.4 442.8,274.2 441.2,273.4 439.6,274.2 439.9,272.4 438.6,271.1 440.4,270.9" fill="#ff0000" stroke="#ff0000" stroke-width="0.8" stroke-linejoin="round"/>
<polygon points="441.2,272.2 442.0,273.9 443.8,274.1 442.5,275.4 442.8,277.2 441.2,276.4 439.6,277.2 439.9,275.4 438.6,274.1 440.4,273.9" fill="#ff0000" stroke="#ff0000" stroke-width="0.8" stroke-linejoin="round"/>
<line x1="457.80" y1="272.20" x2="457.80" y2="280.80" stroke="#ff0000" stroke-width="1.0"/>
<polygon points="457.8,271.7 458.6,273.4 460.4,273.6 459.1,274.9 459.4,276.7 457.8,275.9 456.2,276.7 456.5,274.9 455.2,273.6 457.0,273.4" fill="#ff0000" stroke="#ff0000" stroke-width="0.8" stroke-linejoin="round"/>
<polygon points="457.8,275.2 458.6,276.9 460.4,277.1 459.1,278.4 459.4,280.2 457.8,279.4 456.2,280.2 456.5,278.4 455.2,277.1 457.0,276.9" fill="#ff0000" stroke="#ff0000" stroke-width="0.8" stroke-linejoin="round"/>
<line x1="473.80" y1="276.50" x2="473.80" y2="282.30" stroke="#ff0000" stroke-width="1.0"/>
<polygon points="473.8,276.2 474.6,277.9 476.4,278.1 475.1,279.4 475.4,281.2 473.8,280.4 472.2,281.2 472.5,279.4 471.2,278.1 473.0,277.9" fill="#ff0000" stroke="#ff0000" stroke-width="0.8" stroke-linejoin="round"/>
<line x1="506.60" y1="287.00" x2="506.60" y2="297.00" stroke="#ff0000" stroke-width="1.0"/>
<polygon points="506.6,286.5 507.4,288.2 509.2,288.4 507.9,289.7 508.2,291.5 506.6,290.7 505.0,291.5 505.3,289.7 504.0,288.4 505.8,288.2" fill="#ff0000" stroke="#ff0000" stroke-width="0.8" stroke-linejoin="round"/>
<polygon points="506.6,292.3 507.4,294.0 509.2,294.2 507.9,295.5 508.2,297.3 506.6,296.5 505.0,297.3 505.3,295.5 504.0,294.2 505.8,294.0" fill="#ff0000" stroke="#ff0000" stroke-width="0.8" stroke-linejoin="round"/>
<line x1="523.30" y1="292.50" x2="523.30" y2="301.00" stroke="#ff0000" stroke-width="1.0"/>
<polygon points="523.3,291.7 524.1,293.4 525.9,293.6 524.6,294.9 524.9,296.7 523.3,295.9 521.7,296.7 522.0,294.9 520.7,293.6 522.5,293.4" fill="#ff0000" stroke="#ff0000" stroke-width="0.8" stroke-linejoin="round"/>
<polygon points="523.3,296.2 524.1,297.9 525.9,298.1 524.6,299.4 524.9,301.2 523.3,300.4 521.7,301.2 522.0,299.4 520.7,298.1 522.5,297.9" fill="#ff0000" stroke="#ff0000" stroke-width="0.8" stroke-linejoin="round"/>
<line x1="540.50" y1="296.00" x2="540.50" y2="307.50" stroke="#ff0000" stroke-width="1.0"/>
<polygon points="540.5,295.3 541.3,297.0 543.1,297.2 541.8,298.5 542.1,300.3 540.5,299.5 538.9,300.3 539.2,298.5 537.9,297.2 539.7,297.0" fill="#ff0000" stroke="#ff0000" stroke-width="0.8" stroke-linejoin="round"/>
<polygon points="540.5,302.8 541.3,304.5 543.1,304.7 541.8,306.0 542.1,307.8 540.5,307.0 538.9,307.8 539.2,306.0 537.9,304.7 539.7,304.5" fill="#ff0000" stroke="#ff0000" stroke-width="0.8" stroke-linejoin="round"/>
<line x1="557.60" y1="300.50" x2="557.60" y2="310.50" stroke="#ff0000" stroke-width="1.0"/>
<polygon points="557.6,299.6 558.4,301.3 560.2,301.5 558.9,302.8 559.2,304.6 557.6,303.8 556.0,304.6 556.3,302.8 555.0,301.5 556.8,301.3" fill="#ff0000" stroke="#ff0000" stroke-width="0.8" stroke-linejoin="round"/>
<polygon points="557.6,306.0 558.4,307.7 560.2,307.9 558.9,309.2 559.2,311.0 557.6,310.2 556.0,311.0 556.3,309.2 555.0,307.9 556.8,307.7" fill="#ff0000" stroke="#ff0000" stroke-width="0.8" stroke-linejoin="round"/>
<line x1="574.60" y1="304.00" x2="574.60" y2="314.00" stroke="#ff0000" stroke-width="1.0"/>
<polygon points="574.6,303.3 575.4,305.0 577.2,305.2 575.9,306.5 576.2,308.3 574.6,307.5 573.0,308.3 573.3,306.5 572.0,305.2 573.8,305.0" fill="#ff0000" stroke="#ff0000" stroke-width="0.8" stroke-linejoin="round"/>
<polygon points="574.6,309.2 575.4,310.9 577.2,311.1 575.9,312.4 576.2,314.2 574.6,313.4 573.0,314.2 573.3,312.4 572.0,311.1 573.8,310.9" fill="#ff0000" stroke="#ff0000" stroke-width="0.8" stroke-linejoin="round"/>
<line x1="405.60" y1="270.50" x2="405.60" y2="274.50" stroke="#0000cc" stroke-width="1.0"/>
<polygon points="405.6,269.7 406.4,271.4 408.2,271.6 406.9,272.9 407.2,274.7 405.6,273.9 404.0,274.7 404.3,272.9 403.0,271.6 404.8,271.4" fill="#0000cc" stroke="#0000cc" stroke-width="0.8" stroke-linejoin="round"/>
<line x1="408.00" y1="272.00" x2="408.00" y2="276.00" stroke="#0000cc" stroke-width="1.0"/>
<polygon points="408.0,271.2 408.8,272.9 410.6,273.1 409.3,274.4 409.6,276.2 408.0,275.4 406.4,276.2 406.7,274.4 405.4,273.1 407.2,272.9" fill="#0000cc" stroke="#0000cc" stroke-width="0.8" stroke-linejoin="round"/>
<line x1="410.20" y1="271.00" x2="410.20" y2="275.00" stroke="#0000cc" stroke-width="1.0"/>
<polygon points="410.2,270.2 411.0,271.9 412.8,272.1 411.5,273.4 411.8,275.2 410.2,274.4 408.6,275.2 408.9,273.4 407.6,272.1 409.4,271.9" fill="#0000cc" stroke="#0000cc" stroke-width="0.8" stroke-linejoin="round"/>
<line x1="417.00" y1="272.50" x2="417.00" y2="276.50" stroke="#0000cc" stroke-width="1.0"/>
<polygon points="417.0,271.7 417.8,273.4 419.6,273.6 418.3,274.9 418.6,276.7 417.0,275.9 415.4,276.7 415.7,274.9 414.4,273.6 416.2,273.4" fill="#0000cc" stroke="#0000cc" stroke-width="0.8" stroke-linejoin="round"/>
<line x1="419.50" y1="274.50" x2="419.50" y2="278.50" stroke="#0000cc" stroke-width="1.0"/>
<polygon points="419.5,273.7 420.3,275.4 422.1,275.6 420.8,276.9 421.1,278.7 419.5,277.9 417.9,278.7 418.2,276.9 416.9,275.6 418.7,275.4" fill="#0000cc" stroke="#0000cc" stroke-width="0.8" stroke-linejoin="round"/>
<line x1="422.80" y1="273.50" x2="422.80" y2="277.50" stroke="#0000cc" stroke-width="1.0"/>
<polygon points="422.8,272.7 423.6,274.4 425.4,274.6 424.1,275.9 424.4,277.7 422.8,276.9 421.2,277.7 421.5,275.9 420.2,274.6 422.0,274.4" fill="#0000cc" stroke="#0000cc" stroke-width="0.8" stroke-linejoin="round"/>
<line x1="457.20" y1="275.50" x2="457.20" y2="279.50" stroke="#0000cc" stroke-width="1.0"/>
<polygon points="457.2,274.7 458.0,276.4 459.8,276.6 458.5,277.9 458.8,279.7 457.2,278.9 455.6,279.7 455.9,277.9 454.6,276.6 456.4,276.4" fill="#0000cc" stroke="#0000cc" stroke-width="0.8" stroke-linejoin="round"/>
<line x1="477.30" y1="280.30" x2="477.30" y2="284.30" stroke="#0000cc" stroke-width="1.0"/>
<polygon points="477.3,279.5 478.1,281.2 479.9,281.4 478.6,282.7 478.9,284.5 477.3,283.7 475.7,284.5 476.0,282.7 474.7,281.4 476.5,281.2" fill="#0000cc" stroke="#0000cc" stroke-width="0.8" stroke-linejoin="round"/>
<line x1="491.60" y1="282.10" x2="491.60" y2="286.10" stroke="#0000cc" stroke-width="1.0"/>
<polygon points="491.6,281.3 492.4,283.0 494.2,283.2 492.9,284.5 493.2,286.3 491.6,285.5 490.0,286.3 490.3,284.5 489.0,283.2 490.8,283.0" fill="#0000cc" stroke="#0000cc" stroke-width="0.8" stroke-linejoin="round"/>
<line x1="522.00" y1="288.60" x2="522.00" y2="292.60" stroke="#0000cc" stroke-width="1.0"/>
<polygon points="522.0,287.8 522.8,289.5 524.6,289.7 523.3,291.0 523.6,292.8 522.0,292.0 520.4,292.8 520.7,291.0 519.4,289.7 521.2,289.5" fill="#0000cc" stroke="#0000cc" stroke-width="0.8" stroke-linejoin="round"/>
<line x1="537.30" y1="292.40" x2="537.30" y2="296.40" stroke="#0000cc" stroke-width="1.0"/>
<polygon points="537.3,291.6 538.1,293.3 539.9,293.5 538.6,294.8 538.9,296.6 537.3,295.8 535.7,296.6 536.0,294.8 534.7,293.5 536.5,293.3" fill="#0000cc" stroke="#0000cc" stroke-width="0.8" stroke-linejoin="round"/>
<line x1="552.20" y1="297.20" x2="552.20" y2="301.20" stroke="#0000cc" stroke-width="1.0"/>
<polygon points="552.2,296.4 553.0,298.1 554.8,298.3 553.5,299.6 553.8,301.4 552.2,300.6 550.6,301.4 550.9,299.6 549.6,298.3 551.4,298.1" fill="#0000cc" stroke="#0000cc" stroke-width="0.8" stroke-linejoin="round"/>
<line x1="567.70" y1="301.00" x2="567.70" y2="305.00" stroke="#0000cc" stroke-width="1.0"/>
<polygon points="567.7,300.2 568.5,301.9 570.3,302.1 569.0,303.4 569.3,305.2 567.7,304.4 566.1,305.2 566.4,303.4 565.1,302.1 566.9,301.9" fill="#0000cc" stroke="#0000cc" stroke-width="0.8" stroke-linejoin="round"/>
<line x1="582.60" y1="301.00" x2="582.60" y2="305.00" stroke="#0000cc" stroke-width="1.0"/>
<polygon points="582.6,300.2 583.4,301.9 585.2,302.1 583.9,303.4 584.2,305.2 582.6,304.4 581.0,305.2 581.3,303.4 580.0,302.1 581.8,301.9" fill="#0000cc" stroke="#0000cc" stroke-width="0.8" stroke-linejoin="round"/>
<line x1="583.20" y1="306.30" x2="583.20" y2="310.30" stroke="#0000cc" stroke-width="1.0"/>
<polygon points="583.2,305.5 584.0,307.2 585.8,307.4 584.5,308.7 584.8,310.5 583.2,309.7 581.6,310.5 581.9,308.7 580.6,307.4 582.4,307.2" fill="#0000cc" stroke="#0000cc" stroke-width="0.8" stroke-linejoin="round"/>
<line x1="585.80" y1="306.80" x2="585.80" y2="310.80" stroke="#0000cc" stroke-width="1.0"/>
<polygon points="585.8,306.0 586.6,307.7 588.4,307.9 587.1,309.2 587.4,311.0 585.8,310.2 584.2,311.0 584.5,309.2 583.2,307.9 585.0,307.7" fill="#0000cc" stroke="#0000cc" stroke-width="0.8" stroke-linejoin="round"/>
<rect x="399.22" y="262.22" width="4.56" height="4.56" fill="#000000" stroke="#000000" stroke-width="0.8"/>
<rect x="402.22" y="263.22" width="4.56" height="4.56" fill="#000000" stroke="#000000" stroke-width="0.8"/>
<rect x="405.22" y="264.22" width="4.56" height="4.56" fill="#000000" stroke="#000000" stroke-width="0.8"/>
<rect x="439.12" y="266.72" width="4.56" height="4.56" fill="#000000" stroke="#000000" stroke-width="0.8"/>
<rect x="455.52" y="268.52" width="4.56" height="4.56" fill="#000000" stroke="#000000" stroke-width="0.8"/>
<rect x="471.52" y="270.92" width="4.56" height="4.56" fill="#000000" stroke="#000000" stroke-width="0.8"/>
<rect x="504.42" y="279.82" width="4.56" height="4.56" fill="#000000" stroke="#000000" stroke-width="0.8"/>
<rect x="521.72" y="284.42" width="4.56" height="4.56" fill="#000000" stroke="#000000" stroke-width="0.8"/>
<rect x="538.42" y="289.12" width="4.56" height="4.56" fill="#000000" stroke="#000000" stroke-width="0.8"/>
<rect x="555.32" y="293.22" width="4.56" height="4.56" fill="#000000" stroke="#000000" stroke-width="0.8"/>
<rect x="572.32" y="297.12" width="4.56" height="4.56" fill="#000000" stroke="#000000" stroke-width="0.8"/>
<path d="M404.4,272.5 C407.1,272.8 414.3,273.5 420.5,274.1 C426.7,274.7 435.4,275.7 441.6,276.3 C447.8,276.9 453.1,277.2 457.8,277.8 C462.5,278.4 466.3,279.1 470.0,279.7 C473.7,280.3 476.5,280.9 479.8,281.5 C483.1,282.1 486.4,282.5 489.7,283.2 C493.0,283.9 496.2,284.8 499.5,285.6 C502.8,286.4 506.0,287.4 509.3,288.1 C512.6,288.9 516.6,289.6 519.2,290.1 C521.8,290.6 522.2,290.7 525.0,291.2 C527.8,291.7 532.2,292.5 535.7,293.3 C539.2,294.1 542.8,295.2 546.3,296.0 C549.8,296.8 553.4,297.2 557.0,298.1 C560.6,299.0 564.1,300.3 567.7,301.3 C571.3,302.3 575.5,303.3 578.4,304.0 C581.2,304.7 583.7,305.3 584.8,305.6" fill="none" stroke="#0000cc" stroke-width="2.0" stroke-linejoin="round" stroke-linecap="butt"/>
<path d="M386.0,271.5 C388.3,271.2 394.2,270.3 400.0,270.0 C405.8,269.7 413.6,269.3 420.5,269.5 C427.4,269.7 435.4,270.6 441.6,271.4 C447.8,272.2 453.1,273.2 457.8,274.4 C462.5,275.6 466.3,277.6 470.0,278.8 C473.7,280.0 476.5,280.7 479.8,281.7 C483.1,282.7 486.4,283.6 489.7,284.7 C493.0,285.8 496.2,287.0 499.5,288.1 C502.8,289.2 506.0,290.1 509.3,291.1 C512.6,292.1 516.6,293.3 519.2,294.0 C521.8,294.7 522.2,294.8 525.0,295.5 C527.8,296.2 532.2,297.2 535.7,298.1 C539.2,299.0 542.8,300.0 546.3,300.8 C549.8,301.6 553.4,302.2 557.0,302.9 C560.6,303.6 564.7,304.6 567.7,305.1 C570.7,305.6 574.0,305.9 575.2,306.1" fill="none" stroke="#ff0000" stroke-width="2.0" stroke-linejoin="round" stroke-linecap="butt"/>
<path d="M401.0,265.2 C402.5,265.3 406.0,265.6 410.0,265.8 C414.0,266.0 419.7,266.2 425.0,266.6 C430.3,267.0 436.1,267.4 441.6,268.0 C447.1,268.6 453.1,269.1 457.8,269.9 C462.5,270.7 466.3,272.0 470.0,272.9 C473.7,273.8 476.5,274.5 479.8,275.3 C483.1,276.1 486.4,276.9 489.7,277.8 C493.0,278.7 496.2,279.8 499.5,280.7 C502.8,281.6 506.0,282.4 509.3,283.2 C512.6,284.0 516.6,284.9 519.2,285.6 C521.8,286.3 522.2,286.8 525.0,287.5 C527.8,288.2 532.2,289.1 535.7,290.1 C539.2,291.1 542.8,292.3 546.3,293.3 C549.8,294.3 553.4,295.1 557.0,296.0 C560.6,296.9 564.7,298.0 567.7,298.7 C570.7,299.4 574.0,300.0 575.2,300.3" fill="none" stroke="#000000" stroke-width="2.0" stroke-linejoin="round" stroke-linecap="butt"/>
</g>
<line x1="39.45" y1="100.5" x2="300.4" y2="100.5" stroke="#000" stroke-width="1"/>
<line x1="359.0" y1="100.5" x2="616.4" y2="100.5" stroke="#000" stroke-width="1"/>
<line x1="39.0" y1="24.45" x2="300.84999999999997" y2="24.45" stroke="#000" stroke-width="0.9"/>
<line x1="39.0" y1="100.5" x2="300.84999999999997" y2="100.5" stroke="#000" stroke-width="0.9"/>
<line x1="39.0" y1="176.0" x2="300.84999999999997" y2="176.0" stroke="#000" stroke-width="0.9"/>
<line x1="39.0" y1="251.65" x2="300.84999999999997" y2="251.65" stroke="#000" stroke-width="0.9"/>
<line x1="39.0" y1="327.4" x2="300.84999999999997" y2="327.4" stroke="#000" stroke-width="0.9"/>
<line x1="39.45" y1="24.0" x2="39.45" y2="327.84999999999997" stroke="#000" stroke-width="0.9"/>
<line x1="300.4" y1="24.0" x2="300.4" y2="327.84999999999997" stroke="#000" stroke-width="0.9"/>
<line x1="39.60" y1="327.4" x2="39.60" y2="330.0" stroke="#000" stroke-width="1"/>
<text transform="translate(39.60,341.2) scale(1.12,1)" font-size="10.4" text-anchor="middle" class="t">0.0</text>
<line x1="90.20" y1="327.4" x2="90.20" y2="330.0" stroke="#000" stroke-width="1"/>
<text transform="translate(90.20,341.2) scale(1.12,1)" font-size="10.4" text-anchor="middle" class="t">0.2</text>
<line x1="140.80" y1="327.4" x2="140.80" y2="330.0" stroke="#000" stroke-width="1"/>
<text transform="translate(140.80,341.2) scale(1.12,1)" font-size="10.4" text-anchor="middle" class="t">0.4</text>
<line x1="191.40" y1="327.4" x2="191.40" y2="330.0" stroke="#000" stroke-width="1"/>
<text transform="translate(191.40,341.2) scale(1.12,1)" font-size="10.4" text-anchor="middle" class="t">0.6</text>
<line x1="242.00" y1="327.4" x2="242.00" y2="330.0" stroke="#000" stroke-width="1"/>
<text transform="translate(242.00,341.2) scale(1.12,1)" font-size="10.4" text-anchor="middle" class="t">0.8</text>
<line x1="292.60" y1="327.4" x2="292.60" y2="330.0" stroke="#000" stroke-width="1"/>
<text transform="translate(292.60,341.2) scale(1.12,1)" font-size="10.4" text-anchor="middle" class="t">1.0</text>
<line x1="358.55" y1="24.45" x2="616.85" y2="24.45" stroke="#000" stroke-width="0.9"/>
<line x1="358.55" y1="100.5" x2="616.85" y2="100.5" stroke="#000" stroke-width="0.9"/>
<line x1="358.55" y1="176.0" x2="616.85" y2="176.0" stroke="#000" stroke-width="0.9"/>
<line x1="358.55" y1="251.65" x2="616.85" y2="251.65" stroke="#000" stroke-width="0.9"/>
<line x1="358.55" y1="327.4" x2="616.85" y2="327.4" stroke="#000" stroke-width="0.9"/>
<line x1="359.0" y1="24.0" x2="359.0" y2="327.84999999999997" stroke="#000" stroke-width="0.9"/>
<line x1="616.4" y1="24.0" x2="616.4" y2="327.84999999999997" stroke="#000" stroke-width="0.9"/>
<line x1="359.20" y1="327.4" x2="359.20" y2="330.0" stroke="#000" stroke-width="1"/>
<text transform="translate(359.20,341.2) scale(1.12,1)" font-size="10.4" text-anchor="middle" class="t">0.0</text>
<line x1="409.14" y1="327.4" x2="409.14" y2="330.0" stroke="#000" stroke-width="1"/>
<text transform="translate(409.14,341.2) scale(1.12,1)" font-size="10.4" text-anchor="middle" class="t">0.2</text>
<line x1="459.08" y1="327.4" x2="459.08" y2="330.0" stroke="#000" stroke-width="1"/>
<text transform="translate(459.08,341.2) scale(1.12,1)" font-size="10.4" text-anchor="middle" class="t">0.4</text>
<line x1="509.02" y1="327.4" x2="509.02" y2="330.0" stroke="#000" stroke-width="1"/>
<text transform="translate(509.02,341.2) scale(1.12,1)" font-size="10.4" text-anchor="middle" class="t">0.6</text>
<line x1="558.96" y1="327.4" x2="558.96" y2="330.0" stroke="#000" stroke-width="1"/>
<text transform="translate(558.96,341.2) scale(1.12,1)" font-size="10.4" text-anchor="middle" class="t">0.8</text>
<line x1="608.90" y1="327.4" x2="608.90" y2="330.0" stroke="#000" stroke-width="1"/>
<text transform="translate(608.90,341.2) scale(1.12,1)" font-size="10.4" text-anchor="middle" class="t">1.0</text>
<line x1="36.85" y1="100.15" x2="39.45" y2="100.15" stroke="#000" stroke-width="1"/>
<text transform="translate(34.25,104.95) scale(1.12,1)" font-size="10.4" text-anchor="end" class="t">0</text>
<line x1="36.85" y1="58.07" x2="39.45" y2="58.07" stroke="#000" stroke-width="1"/>
<text transform="translate(34.25,62.87) scale(1.12,1)" font-size="10.4" text-anchor="end" class="t">5</text>
<line x1="36.85" y1="175.90" x2="39.45" y2="175.90" stroke="#000" stroke-width="1"/>
<text transform="translate(34.25,180.70) scale(1.12,1)" font-size="10.4" text-anchor="end" class="t">0</text>
<line x1="36.85" y1="138.03" x2="39.45" y2="138.03" stroke="#000" stroke-width="1"/>
<text transform="translate(34.25,142.83) scale(1.12,1)" font-size="10.4" text-anchor="end" class="t">5</text>
<line x1="36.85" y1="251.65" x2="39.45" y2="251.65" stroke="#000" stroke-width="1"/>
<text transform="translate(34.25,256.45) scale(1.12,1)" font-size="10.4" text-anchor="end" class="t">0</text>
<line x1="36.85" y1="220.09" x2="39.45" y2="220.09" stroke="#000" stroke-width="1"/>
<text transform="translate(34.25,224.89) scale(1.12,1)" font-size="10.4" text-anchor="end" class="t">5</text>
<line x1="36.85" y1="188.53" x2="39.45" y2="188.53" stroke="#000" stroke-width="1"/>
<text transform="translate(34.25,193.33) scale(1.12,1)" font-size="10.4" text-anchor="end" class="t">10</text>
<line x1="36.85" y1="327.40" x2="39.45" y2="327.40" stroke="#000" stroke-width="1"/>
<text transform="translate(34.25,332.20) scale(1.12,1)" font-size="10.4" text-anchor="end" class="t">0</text>
<line x1="36.85" y1="295.84" x2="39.45" y2="295.84" stroke="#000" stroke-width="1"/>
<text transform="translate(34.25,300.64) scale(1.12,1)" font-size="10.4" text-anchor="end" class="t">50</text>
<line x1="36.85" y1="264.27" x2="39.45" y2="264.27" stroke="#000" stroke-width="1"/>
<text transform="translate(34.25,269.07) scale(1.12,1)" font-size="10.4" text-anchor="end" class="t">100</text>
<line x1="356.4" y1="100.15" x2="359.0" y2="100.15" stroke="#000" stroke-width="1"/>
<text transform="translate(353.80,104.95) scale(1.12,1)" font-size="10.4" text-anchor="end" class="t">0</text>
<line x1="356.4" y1="58.07" x2="359.0" y2="58.07" stroke="#000" stroke-width="1"/>
<text transform="translate(353.80,62.87) scale(1.12,1)" font-size="10.4" text-anchor="end" class="t">5</text>
<line x1="356.4" y1="175.90" x2="359.0" y2="175.90" stroke="#000" stroke-width="1"/>
<text transform="translate(353.80,180.70) scale(1.12,1)" font-size="10.4" text-anchor="end" class="t">0</text>
<line x1="356.4" y1="133.82" x2="359.0" y2="133.82" stroke="#000" stroke-width="1"/>
<text transform="translate(353.80,138.62) scale(1.12,1)" font-size="10.4" text-anchor="end" class="t">5</text>
<line x1="356.4" y1="251.65" x2="359.0" y2="251.65" stroke="#000" stroke-width="1"/>
<text transform="translate(353.80,256.45) scale(1.12,1)" font-size="10.4" text-anchor="end" class="t">0</text>
<line x1="356.4" y1="220.09" x2="359.0" y2="220.09" stroke="#000" stroke-width="1"/>
<text transform="translate(353.80,224.89) scale(1.12,1)" font-size="10.4" text-anchor="end" class="t">5</text>
<line x1="356.4" y1="188.53" x2="359.0" y2="188.53" stroke="#000" stroke-width="1"/>
<text transform="translate(353.80,193.33) scale(1.12,1)" font-size="10.4" text-anchor="end" class="t">10</text>
<line x1="356.4" y1="327.40" x2="359.0" y2="327.40" stroke="#000" stroke-width="1"/>
<text transform="translate(353.80,332.20) scale(1.12,1)" font-size="10.4" text-anchor="end" class="t">0</text>
<line x1="356.4" y1="295.84" x2="359.0" y2="295.84" stroke="#000" stroke-width="1"/>
<text transform="translate(353.80,300.64) scale(1.12,1)" font-size="10.4" text-anchor="end" class="t">50</text>
<line x1="356.4" y1="264.27" x2="359.0" y2="264.27" stroke="#000" stroke-width="1"/>
<text transform="translate(353.80,269.07) scale(1.12,1)" font-size="10.4" text-anchor="end" class="t">100</text>
<text x="68.6" y="8.6" font-size="10.4" text-anchor="start" textLength="202.6" lengthAdjust="spacingAndGlyphs" class="t">Comp. 2.2MA/2.8T (#96432,red) with</text>
<text x="94.9" y="20.3" font-size="10.4" text-anchor="start" textLength="149.5" lengthAdjust="spacingAndGlyphs" class="t">2.2MA/3.45T (#96499,blue)</text>
<text x="361.5" y="8.6" font-size="10.4" text-anchor="start" textLength="253" lengthAdjust="spacingAndGlyphs" class="t">Comp 2.2MA/2.8T (#94945 red/#96341 black)</text>
<text x="405.0" y="20.3" font-size="10.4" text-anchor="start" textLength="166.2" lengthAdjust="spacingAndGlyphs" class="t">vs. 2.2MA/3.45T(#94631,blue)</text>
<text x="50.3" y="38.3" font-size="10.4" text-anchor="start" textLength="9.2" lengthAdjust="spacingAndGlyphs" class="t">a)</text>
<text x="365.3" y="35.7" font-size="10.4" text-anchor="start" textLength="8.6" lengthAdjust="spacingAndGlyphs" class="t">b)</text>
<text x="161.4" y="352.8" font-size="11.3" font-style="italic" class="t">ρ<tspan font-size="8.3" dy="1.9">pol</tspan></text>
<text x="479.6" y="352.8" font-size="11.3" font-style="italic" class="t">ρ<tspan font-size="8.3" dy="1.9">pol</tspan></text>
<text transform="translate(22.2,97.3) rotate(-90) scale(1.212,1)" font-size="10.8" class="t"><tspan font-style="italic">n</tspan><tspan font-size="7.6" dy="1.6">e</tspan><tspan dy="-1.6">(10</tspan><tspan font-size="7.6" dy="-4.2">19</tspan><tspan dy="4.2">m</tspan><tspan font-size="7.6" dy="-4.2">−3</tspan><tspan dy="4.2">)</tspan></text>
<text transform="translate(23.0,161.6) rotate(-90) scale(1.162,1)" font-size="10.8" class="t"><tspan font-style="italic">T</tspan><tspan font-size="7.6" dy="1.6">e</tspan><tspan dy="-1.6"> (keV)</tspan></text>
<text transform="translate(16.0,234.2) rotate(-90) scale(1.118,1)" font-size="10.8" class="t"><tspan font-style="italic">T</tspan><tspan font-size="7.6" font-style="italic" dy="1.6">i</tspan><tspan dy="-1.6">(keV)</tspan></text>
<text transform="translate(9.4,320.1) rotate(-90) scale(1.101,1)" font-size="10.8" class="t"><tspan font-style="italic">ω</tspan><tspan font-size="7.6" dy="1.6">Φ</tspan><tspan dy="-1.6"> (krad/s)</tspan></text>
<text transform="translate(342.6,96.0) rotate(-90) scale(1.181,1)" font-size="10.8" class="t"><tspan font-style="italic">n̄</tspan><tspan font-size="7.6" font-style="italic" dy="1.6">e</tspan><tspan dy="-1.6">(10</tspan><tspan font-size="7.6" dy="-4.2">19</tspan><tspan dy="4.2">m</tspan><tspan font-size="7.6" dy="-4.2">−3</tspan><tspan dy="4.2">)</tspan></text>
<text transform="translate(342.6,161.2) rotate(-90) scale(1.181,1)" font-size="10.8" class="t"><tspan font-style="italic">T</tspan><tspan font-size="7.6" font-style="italic" dy="1.6">e</tspan><tspan dy="-1.6">(keV)</tspan></text>
<text transform="translate(335.5,234.2) rotate(-90) scale(1.118,1)" font-size="10.8" class="t"><tspan font-style="italic">T</tspan><tspan font-size="7.6" font-style="italic" dy="1.6">i</tspan><tspan dy="-1.6">(keV)</tspan></text>
<text transform="translate(329.0,320.3) rotate(-90) scale(1.104,1)" font-size="10.8" class="t"><tspan font-style="italic">ω</tspan><tspan font-size="7.6" dy="1.6">Φ</tspan><tspan dy="-1.6"> (krad/s)</tspan></text>
</svg>
</body></html>
